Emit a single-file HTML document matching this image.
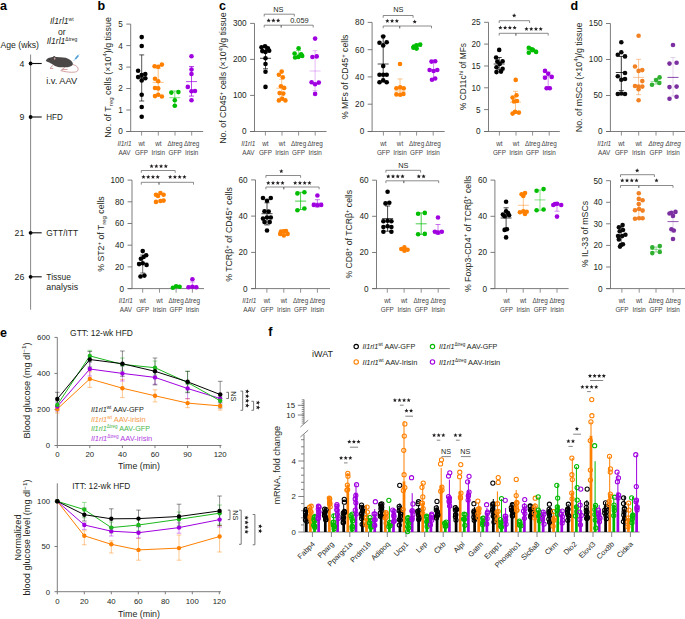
<!DOCTYPE html>
<html><head><meta charset="utf-8"><style>
html,body{margin:0;padding:0;background:#fff;width:685px;height:619px;overflow:hidden}
svg{display:block;font-family:"Liberation Sans", sans-serif;fill:#231f20}
</style></head><body>
<svg width="685" height="619" viewBox="0 0 685 619">
<text x="0" y="9.5" font-size="12.5" font-weight="bold" fill="#000">a</text>
<text x="61.8" y="24.4" font-size="8.6" text-anchor="middle"><tspan font-style="italic">Il1rl1</tspan><tspan font-size="5" dy="-3.5">wt</tspan></text>
<text x="61.8" y="34.9" font-size="8.6" text-anchor="middle">or</text>
<text x="62" y="44.3" font-size="8.6" text-anchor="middle"><tspan font-style="italic">Il1rl1</tspan><tspan font-size="5" dy="-3.5">Δtreg</tspan></text>
<text x="0.5" y="48" font-size="8.8" textLength="38.5" lengthAdjust="spacingAndGlyphs">Age (wks)</text>
<line x1="30.6" y1="54.5" x2="30.6" y2="309.7" stroke="#888" stroke-width="1.0" />
<circle cx="30.6" cy="63.5" r="1.9" fill="#000"/>
<line x1="30.6" y1="63.5" x2="41.7" y2="63.5" stroke="#111" stroke-width="1.1" />
<text x="24.3" y="66.6" font-size="8.8" text-anchor="end">4</text>
<circle cx="30.6" cy="117" r="1.9" fill="#000"/>
<line x1="30.6" y1="117" x2="41.7" y2="117" stroke="#111" stroke-width="1.1" />
<text x="24.3" y="120.1" font-size="8.8" text-anchor="end">9</text>
<text x="46.3" y="120.1" font-size="8.8" textLength="16.5" lengthAdjust="spacingAndGlyphs">HFD</text>
<circle cx="30.6" cy="232.8" r="1.9" fill="#000"/>
<line x1="30.6" y1="232.8" x2="41.7" y2="232.8" stroke="#111" stroke-width="1.1" />
<text x="24.3" y="235.9" font-size="8.8" text-anchor="end">21</text>
<text x="46.3" y="235.9" font-size="8.8" textLength="31.8" lengthAdjust="spacingAndGlyphs">GTT/ITT</text>
<circle cx="30.6" cy="276.8" r="1.9" fill="#000"/>
<line x1="30.6" y1="276.8" x2="41.7" y2="276.8" stroke="#111" stroke-width="1.1" />
<text x="24.3" y="279.90000000000003" font-size="8.8" text-anchor="end">26</text>
<text x="46.3" y="279.90000000000003" font-size="8.8" textLength="24.6" lengthAdjust="spacingAndGlyphs">Tissue</text>
<text x="46.3" y="289.8" font-size="8.8">analysis</text>
<text x="46.2" y="83.6" font-size="8.8" textLength="31.0" lengthAdjust="spacingAndGlyphs">i.v. AAV</text>
<g>
<path d="M72.6,64.6 C77,65.2 79.2,68.3 77.6,70.9 C76,72.9 68,72.6 60.5,70.6" fill="none" stroke="#c48484" stroke-width="0.75"/>
<path d="M52.6,65.2 Q51.6,67.3 50.0,68.3 L53.2,68.5 M64.8,66.6 Q64.6,68.6 61.5,69.8 L67.5,69.4" fill="none" stroke="#c48484" stroke-width="0.8"/>
<path d="M45.9,60.2 C47,58.8 48.5,57.8 50.5,57.6 C53,56.8 56,57.2 59.7,57.3 C63.5,57.2 67.5,57.8 70.2,60.0 C72,61.4 73.3,63 72.8,64.6 C72.3,66 70,66.9 67.6,67.2 L59.7,67.2 C57.5,67.1 55.5,66.4 53.5,65.0 C51.5,63.8 49.5,62.6 48,62.1 C46.8,61.7 45.6,61 45.9,60.2 Z" fill="#4d4848"/>
<ellipse cx="54.2" cy="57.9" rx="1.5" ry="1.9" fill="#4d4848"/>
<ellipse cx="54.7" cy="58.6" rx="0.8" ry="1.1" fill="#d9a0a0"/>
<circle cx="49.6" cy="59.4" r="0.45" fill="#1a1a1a"/>
<path d="M73.5,61.1 L79.4,54.2" stroke="#8cc4ec" stroke-width="0.7"/>
<path d="M75.3,59.0 L78.3,55.5" stroke="#4a9ad6" stroke-width="1.6"/>
</g>
<text x="97.5" y="9.7" font-size="12.5" font-weight="bold" fill="#000">b</text>
<text x="219.0" y="9.8" font-size="12.5" font-weight="bold" fill="#000">c</text>
<text x="570.5" y="9.8" font-size="12.5" font-weight="bold" fill="#000">d</text>
<line x1="130.7" y1="24.1" x2="130.7" y2="131.5" stroke="#666" stroke-width="0.85" />
<line x1="126.29999999999998" y1="24.1" x2="130.7" y2="24.1" stroke="#666" stroke-width="0.85" />
<text x="122.79999999999998" y="27.0" font-size="8.2" text-anchor="end">5</text>
<line x1="126.29999999999998" y1="45.6" x2="130.7" y2="45.6" stroke="#666" stroke-width="0.85" />
<text x="122.79999999999998" y="48.5" font-size="8.2" text-anchor="end">4</text>
<line x1="126.29999999999998" y1="67.1" x2="130.7" y2="67.1" stroke="#666" stroke-width="0.85" />
<text x="122.79999999999998" y="70.0" font-size="8.2" text-anchor="end">3</text>
<line x1="126.29999999999998" y1="88.5" x2="130.7" y2="88.5" stroke="#666" stroke-width="0.85" />
<text x="122.79999999999998" y="91.4" font-size="8.2" text-anchor="end">2</text>
<line x1="126.29999999999998" y1="110.0" x2="130.7" y2="110.0" stroke="#666" stroke-width="0.85" />
<text x="122.79999999999998" y="112.9" font-size="8.2" text-anchor="end">1</text>
<line x1="126.29999999999998" y1="131.5" x2="130.7" y2="131.5" stroke="#666" stroke-width="0.85" />
<text x="122.79999999999998" y="134.4" font-size="8.2" text-anchor="end">0</text>
<line x1="126.29999999999998" y1="131.5" x2="203.2" y2="131.5" stroke="#666" stroke-width="0.85" />
<line x1="141.6" y1="131.5" x2="141.6" y2="135.6" stroke="#777" stroke-width="0.8" />
<line x1="158.3" y1="131.5" x2="158.3" y2="135.6" stroke="#777" stroke-width="0.8" />
<line x1="175.0" y1="131.5" x2="175.0" y2="135.6" stroke="#777" stroke-width="0.8" />
<line x1="191.7" y1="131.5" x2="191.7" y2="135.6" stroke="#777" stroke-width="0.8" />
<text x="141.6" y="145.9" font-size="6.35" text-anchor="middle" fill="#444">wt</text>
<text x="141.6" y="154.8" font-size="6.35" text-anchor="middle" fill="#444">GFP</text>
<text x="158.3" y="145.9" font-size="6.35" text-anchor="middle" fill="#444">wt</text>
<text x="158.3" y="154.8" font-size="6.35" text-anchor="middle" fill="#444">Irisin</text>
<text x="175.0" y="145.9" font-size="6.35" text-anchor="middle" fill="#444">Δtreg</text>
<text x="175.0" y="154.8" font-size="6.35" text-anchor="middle" fill="#444">GFP</text>
<text x="191.7" y="145.9" font-size="6.35" text-anchor="middle" fill="#444">Δtreg</text>
<text x="191.7" y="154.8" font-size="6.35" text-anchor="middle" fill="#444">Irisin</text>
<text x="124.49999999999999" y="145.9" font-size="6.5" text-anchor="middle" font-style="italic" fill="#444">Il1rl1</text>
<text x="124.49999999999999" y="154.8" font-size="6.35" text-anchor="middle" fill="#444">AAV</text>
<text transform="translate(110.6,77.4) rotate(-90)" font-size="8.6" text-anchor="middle" fill="#231f20" textLength="120.5" lengthAdjust="spacingAndGlyphs">No. of T<tspan font-size="5.9" dy="2.0">reg</tspan><tspan dy="-2.0"> cells (×10<tspan font-size="6.0" dy="-3.3">4</tspan><tspan dy="3.3">)/g tissue</tspan></text>
<line x1="141.7" y1="54.9" x2="141.7" y2="101.0" stroke="#000000" stroke-width="0.9" stroke-opacity="0.75"/>
<line x1="139.2" y1="54.9" x2="144.2" y2="54.9" stroke="#000000" stroke-width="0.9" stroke-opacity="0.75"/>
<line x1="139.2" y1="101.0" x2="144.2" y2="101.0" stroke="#000000" stroke-width="0.9" stroke-opacity="0.75"/>
<line x1="136.2" y1="77.5" x2="147.2" y2="77.5" stroke="#000000" stroke-width="0.9" stroke-opacity="0.75"/>
<line x1="158.2" y1="68.6" x2="158.2" y2="95.3" stroke="#ff8000" stroke-width="0.9" stroke-opacity="0.55"/>
<line x1="155.7" y1="68.6" x2="160.7" y2="68.6" stroke="#ff8000" stroke-width="0.9" stroke-opacity="0.55"/>
<line x1="155.7" y1="95.3" x2="160.7" y2="95.3" stroke="#ff8000" stroke-width="0.9" stroke-opacity="0.55"/>
<line x1="152.7" y1="82.4" x2="163.7" y2="82.4" stroke="#ff8000" stroke-width="0.9" stroke-opacity="0.55"/>
<line x1="174.8" y1="91.0" x2="174.8" y2="105.8" stroke="#00bd00" stroke-width="0.9" stroke-opacity="0.55"/>
<line x1="172.3" y1="91.0" x2="177.3" y2="91.0" stroke="#00bd00" stroke-width="0.9" stroke-opacity="0.55"/>
<line x1="172.3" y1="105.8" x2="177.3" y2="105.8" stroke="#00bd00" stroke-width="0.9" stroke-opacity="0.55"/>
<line x1="169.3" y1="97.7" x2="180.3" y2="97.7" stroke="#00bd00" stroke-width="0.9" stroke-opacity="0.55"/>
<line x1="191.5" y1="66.5" x2="191.5" y2="96.1" stroke="#a000e0" stroke-width="0.9" stroke-opacity="0.8"/>
<line x1="189.0" y1="66.5" x2="194.0" y2="66.5" stroke="#a000e0" stroke-width="0.9" stroke-opacity="0.8"/>
<line x1="189.0" y1="96.1" x2="194.0" y2="96.1" stroke="#a000e0" stroke-width="0.9" stroke-opacity="0.8"/>
<line x1="186.0" y1="81.6" x2="197.0" y2="81.6" stroke="#a000e0" stroke-width="0.9" stroke-opacity="0.8"/>
<circle cx="141.7" cy="37.1" r="2.3" fill="#000000"/>
<circle cx="141.7" cy="46" r="2.3" fill="#000000"/>
<circle cx="138.1" cy="70.7" r="2.3" fill="#000000"/>
<circle cx="145.3" cy="74" r="2.3" fill="#000000"/>
<circle cx="141.7" cy="75.1" r="2.3" fill="#000000"/>
<circle cx="138.1" cy="77.1" r="2.3" fill="#000000"/>
<circle cx="145.3" cy="78.3" r="2.3" fill="#000000"/>
<circle cx="141.7" cy="80.4" r="2.3" fill="#000000"/>
<circle cx="141.7" cy="94.8" r="2.3" fill="#000000"/>
<circle cx="141.7" cy="107" r="2.3" fill="#000000"/>
<circle cx="141.7" cy="116.7" r="2.3" fill="#000000"/>
<circle cx="154.6" cy="66.2" r="2.3" fill="#ff8000"/>
<circle cx="158.2" cy="66.7" r="2.3" fill="#ff8000"/>
<circle cx="161.9" cy="64.6" r="2.3" fill="#ff8000"/>
<circle cx="155" cy="78.7" r="2.3" fill="#ff8000"/>
<circle cx="158.2" cy="81.3" r="2.3" fill="#ff8000"/>
<circle cx="155" cy="88" r="2.3" fill="#ff8000"/>
<circle cx="158.2" cy="88.4" r="2.3" fill="#ff8000"/>
<circle cx="155" cy="96.1" r="2.3" fill="#ff8000"/>
<circle cx="158.2" cy="94.8" r="2.3" fill="#ff8000"/>
<circle cx="161.9" cy="96.5" r="2.3" fill="#ff8000"/>
<circle cx="171.3" cy="92.6" r="2.3" fill="#00bd00"/>
<circle cx="178.4" cy="92.1" r="2.3" fill="#00bd00"/>
<circle cx="174.8" cy="100.2" r="2.3" fill="#00bd00"/>
<circle cx="174.8" cy="105.8" r="2.3" fill="#00bd00"/>
<circle cx="191.5" cy="56.2" r="2.3" fill="#a000e0"/>
<circle cx="191.5" cy="69.5" r="2.3" fill="#a000e0"/>
<circle cx="191.5" cy="74" r="2.3" fill="#a000e0"/>
<circle cx="187.8" cy="86.9" r="2.3" fill="#a000e0"/>
<circle cx="191.5" cy="91.3" r="2.3" fill="#a000e0"/>
<circle cx="195" cy="91" r="2.3" fill="#a000e0"/>
<circle cx="191.5" cy="100.2" r="2.3" fill="#a000e0"/>
<line x1="254.5" y1="23.4" x2="254.5" y2="131.5" stroke="#666" stroke-width="0.85" />
<line x1="250.1" y1="23.4" x2="254.5" y2="23.4" stroke="#666" stroke-width="0.85" />
<text x="246.6" y="26.299999999999997" font-size="8.2" text-anchor="end">300</text>
<line x1="250.1" y1="59.4" x2="254.5" y2="59.4" stroke="#666" stroke-width="0.85" />
<text x="246.6" y="62.3" font-size="8.2" text-anchor="end">200</text>
<line x1="250.1" y1="95.4" x2="254.5" y2="95.4" stroke="#666" stroke-width="0.85" />
<text x="246.6" y="98.30000000000001" font-size="8.2" text-anchor="end">100</text>
<line x1="250.1" y1="131.5" x2="254.5" y2="131.5" stroke="#666" stroke-width="0.85" />
<text x="246.6" y="134.4" font-size="8.2" text-anchor="end">0</text>
<line x1="250.1" y1="131.5" x2="326.5" y2="131.5" stroke="#666" stroke-width="0.85" />
<line x1="265.4" y1="131.5" x2="265.4" y2="135.6" stroke="#777" stroke-width="0.8" />
<line x1="282.0" y1="131.5" x2="282.0" y2="135.6" stroke="#777" stroke-width="0.8" />
<line x1="298.6" y1="131.5" x2="298.6" y2="135.6" stroke="#777" stroke-width="0.8" />
<line x1="315.2" y1="131.5" x2="315.2" y2="135.6" stroke="#777" stroke-width="0.8" />
<text x="265.4" y="145.9" font-size="6.35" text-anchor="middle" fill="#444">wt</text>
<text x="265.4" y="154.8" font-size="6.35" text-anchor="middle" fill="#444">GFP</text>
<text x="282.0" y="145.9" font-size="6.35" text-anchor="middle" fill="#444">wt</text>
<text x="282.0" y="154.8" font-size="6.35" text-anchor="middle" fill="#444">Irisin</text>
<text x="298.6" y="145.9" font-size="6.35" text-anchor="middle" fill="#444">Δtreg</text>
<text x="298.6" y="154.8" font-size="6.35" text-anchor="middle" fill="#444">GFP</text>
<text x="315.2" y="145.9" font-size="6.35" text-anchor="middle" fill="#444">Δtreg</text>
<text x="315.2" y="154.8" font-size="6.35" text-anchor="middle" fill="#444">Irisin</text>
<text x="248.3" y="145.9" font-size="6.5" text-anchor="middle" font-style="italic" fill="#444">Il1rl1</text>
<text x="248.3" y="154.8" font-size="6.35" text-anchor="middle" fill="#444">AAV</text>
<text transform="translate(226.0,78.1) rotate(-90)" font-size="8.6" text-anchor="middle" fill="#231f20" textLength="131.5" lengthAdjust="spacingAndGlyphs">No. of CD45<tspan font-size="6.0" dy="-3.3">+</tspan><tspan dy="3.3"> cells (×10<tspan font-size="6.0" dy="-3.3">4</tspan><tspan dy="3.3">)/g tissue</tspan></text>
<line x1="265.5" y1="46.2" x2="265.5" y2="68.8" stroke="#000000" stroke-width="0.9" stroke-opacity="0.8"/>
<line x1="263.0" y1="46.2" x2="268.0" y2="46.2" stroke="#000000" stroke-width="0.9" stroke-opacity="0.8"/>
<line x1="263.0" y1="68.8" x2="268.0" y2="68.8" stroke="#000000" stroke-width="0.9" stroke-opacity="0.8"/>
<line x1="260.0" y1="58.3" x2="271.0" y2="58.3" stroke="#000000" stroke-width="0.9" stroke-opacity="0.8"/>
<line x1="281.7" y1="79.3" x2="281.7" y2="97.1" stroke="#ff8000" stroke-width="0.9" stroke-opacity="0.5"/>
<line x1="279.2" y1="79.3" x2="284.2" y2="79.3" stroke="#ff8000" stroke-width="0.9" stroke-opacity="0.5"/>
<line x1="279.2" y1="97.1" x2="284.2" y2="97.1" stroke="#ff8000" stroke-width="0.9" stroke-opacity="0.5"/>
<line x1="276.2" y1="88.2" x2="287.2" y2="88.2" stroke="#ff8000" stroke-width="0.9" stroke-opacity="0.5"/>
<line x1="298.6" y1="50.5" x2="298.6" y2="57.5" stroke="#00bd00" stroke-width="0.9" stroke-opacity="0.5"/>
<line x1="296.1" y1="50.5" x2="301.1" y2="50.5" stroke="#00bd00" stroke-width="0.9" stroke-opacity="0.5"/>
<line x1="296.1" y1="57.5" x2="301.1" y2="57.5" stroke="#00bd00" stroke-width="0.9" stroke-opacity="0.5"/>
<line x1="293.1" y1="54.3" x2="304.1" y2="54.3" stroke="#00bd00" stroke-width="0.9" stroke-opacity="0.5"/>
<line x1="315.1" y1="50.7" x2="315.1" y2="90.7" stroke="#a000e0" stroke-width="0.9" stroke-opacity="0.3"/>
<line x1="312.6" y1="50.7" x2="317.6" y2="50.7" stroke="#a000e0" stroke-width="0.9" stroke-opacity="0.3"/>
<line x1="312.6" y1="90.7" x2="317.6" y2="90.7" stroke="#a000e0" stroke-width="0.9" stroke-opacity="0.3"/>
<line x1="309.6" y1="71" x2="320.6" y2="71" stroke="#a000e0" stroke-width="0.9" stroke-opacity="0.3"/>
<circle cx="261.5" cy="47.3" r="2.3" fill="#000000"/>
<circle cx="265" cy="46.2" r="2.3" fill="#000000"/>
<circle cx="267.9" cy="48.3" r="2.3" fill="#000000"/>
<circle cx="262.3" cy="51.1" r="2.3" fill="#000000"/>
<circle cx="269.2" cy="50.7" r="2.3" fill="#000000"/>
<circle cx="265.5" cy="51.9" r="2.3" fill="#000000"/>
<circle cx="265.5" cy="58.3" r="2.3" fill="#000000"/>
<circle cx="265.5" cy="64" r="2.3" fill="#000000"/>
<circle cx="265.5" cy="71.8" r="2.3" fill="#000000"/>
<circle cx="265.5" cy="86.9" r="2.3" fill="#000000"/>
<circle cx="281.7" cy="71.6" r="2.3" fill="#ff8000"/>
<circle cx="278.9" cy="74.8" r="2.3" fill="#ff8000"/>
<circle cx="282.8" cy="77.2" r="2.3" fill="#ff8000"/>
<circle cx="280.9" cy="86.3" r="2.3" fill="#ff8000"/>
<circle cx="284.1" cy="87.9" r="2.3" fill="#ff8000"/>
<circle cx="279.6" cy="93.1" r="2.3" fill="#ff8000"/>
<circle cx="283.3" cy="93.6" r="2.3" fill="#ff8000"/>
<circle cx="278.9" cy="100.4" r="2.3" fill="#ff8000"/>
<circle cx="282.2" cy="98.7" r="2.3" fill="#ff8000"/>
<circle cx="285.4" cy="100.4" r="2.3" fill="#ff8000"/>
<circle cx="298.6" cy="48.3" r="2.3" fill="#00bd00"/>
<circle cx="294.6" cy="53.5" r="2.3" fill="#00bd00"/>
<circle cx="301.1" cy="54.3" r="2.3" fill="#00bd00"/>
<circle cx="295.1" cy="57.5" r="2.3" fill="#00bd00"/>
<circle cx="298.3" cy="57" r="2.3" fill="#00bd00"/>
<circle cx="302.2" cy="55.9" r="2.3" fill="#00bd00"/>
<circle cx="315.1" cy="38.6" r="2.3" fill="#a000e0"/>
<circle cx="312.4" cy="57" r="2.3" fill="#a000e0"/>
<circle cx="316.7" cy="56.4" r="2.3" fill="#a000e0"/>
<circle cx="311.6" cy="82.3" r="2.3" fill="#a000e0"/>
<circle cx="315.1" cy="84.2" r="2.3" fill="#a000e0"/>
<circle cx="318.8" cy="82.6" r="2.3" fill="#a000e0"/>
<circle cx="315.1" cy="93.9" r="2.3" fill="#a000e0"/>
<path d="M264.2,16.5 V14.2 H294.3 V16.5" fill="none" stroke="#666" stroke-width="0.75"/>
<text x="278.4" y="12.0" font-size="7.4" text-anchor="middle">NS</text>
<path d="M264.2,27.5 V25.2 H281.2 V27.5" fill="none" stroke="#666" stroke-width="0.75"/>
<polygon points="268.65,18.35 269.25,19.78 270.79,19.90 269.61,20.91 269.97,22.42 268.65,21.61 267.33,22.42 267.69,20.91 266.51,19.90 268.05,19.78" fill="#231f20"/>
<polygon points="273.40,18.35 274.00,19.78 275.54,19.90 274.36,20.91 274.72,22.42 273.40,21.61 272.08,22.42 272.44,20.91 271.26,19.90 272.80,19.78" fill="#231f20"/>
<polygon points="278.15,18.35 278.75,19.78 280.29,19.90 279.11,20.91 279.47,22.42 278.15,21.61 276.83,22.42 277.19,20.91 276.01,19.90 277.55,19.78" fill="#231f20"/>
<path d="M281.2,27.5 V25.2 H313.2 V27.5" fill="none" stroke="#666" stroke-width="0.75"/>
<text x="299.4" y="23.4" font-size="7.4" text-anchor="middle">0.059</text>
<line x1="372.1" y1="22.4" x2="372.1" y2="131.5" stroke="#666" stroke-width="0.85" />
<line x1="367.70000000000005" y1="22.4" x2="372.1" y2="22.4" stroke="#666" stroke-width="0.85" />
<text x="364.20000000000005" y="25.299999999999997" font-size="8.2" text-anchor="end">80</text>
<line x1="367.70000000000005" y1="49.7" x2="372.1" y2="49.7" stroke="#666" stroke-width="0.85" />
<text x="364.20000000000005" y="52.6" font-size="8.2" text-anchor="end">60</text>
<line x1="367.70000000000005" y1="76.9" x2="372.1" y2="76.9" stroke="#666" stroke-width="0.85" />
<text x="364.20000000000005" y="79.80000000000001" font-size="8.2" text-anchor="end">40</text>
<line x1="367.70000000000005" y1="104.2" x2="372.1" y2="104.2" stroke="#666" stroke-width="0.85" />
<text x="364.20000000000005" y="107.10000000000001" font-size="8.2" text-anchor="end">20</text>
<line x1="367.70000000000005" y1="131.5" x2="372.1" y2="131.5" stroke="#666" stroke-width="0.85" />
<text x="364.20000000000005" y="134.4" font-size="8.2" text-anchor="end">0</text>
<line x1="367.70000000000005" y1="131.5" x2="444.7" y2="131.5" stroke="#666" stroke-width="0.85" />
<line x1="383.4" y1="131.5" x2="383.4" y2="135.6" stroke="#777" stroke-width="0.8" />
<line x1="400.0" y1="131.5" x2="400.0" y2="135.6" stroke="#777" stroke-width="0.8" />
<line x1="416.6" y1="131.5" x2="416.6" y2="135.6" stroke="#777" stroke-width="0.8" />
<line x1="433.2" y1="131.5" x2="433.2" y2="135.6" stroke="#777" stroke-width="0.8" />
<text x="383.4" y="145.9" font-size="6.35" text-anchor="middle" fill="#444">wt</text>
<text x="383.4" y="154.8" font-size="6.35" text-anchor="middle" fill="#444">GFP</text>
<text x="400.0" y="145.9" font-size="6.35" text-anchor="middle" fill="#444">wt</text>
<text x="400.0" y="154.8" font-size="6.35" text-anchor="middle" fill="#444">Irisin</text>
<text x="416.6" y="145.9" font-size="6.35" text-anchor="middle" fill="#444">Δtreg</text>
<text x="416.6" y="154.8" font-size="6.35" text-anchor="middle" fill="#444">GFP</text>
<text x="433.2" y="145.9" font-size="6.35" text-anchor="middle" fill="#444">Δtreg</text>
<text x="433.2" y="154.8" font-size="6.35" text-anchor="middle" fill="#444">Irisin</text>
<text transform="translate(347.8,76.8) rotate(-90)" font-size="8.6" text-anchor="middle" fill="#231f20" textLength="84.5" lengthAdjust="spacingAndGlyphs">% MFs of CD45<tspan font-size="6.0" dy="-3.3">+</tspan><tspan dy="3.3"> cells</tspan></text>
<line x1="383.2" y1="36" x2="383.2" y2="82" stroke="#000000" stroke-width="0.9" stroke-opacity="0.8"/>
<line x1="380.7" y1="36" x2="385.7" y2="36" stroke="#000000" stroke-width="0.9" stroke-opacity="0.8"/>
<line x1="380.7" y1="82" x2="385.7" y2="82" stroke="#000000" stroke-width="0.9" stroke-opacity="0.8"/>
<line x1="377.7" y1="64" x2="388.7" y2="64" stroke="#000000" stroke-width="0.9" stroke-opacity="0.8"/>
<line x1="400" y1="78.9" x2="400" y2="95" stroke="#ff8000" stroke-width="0.9" stroke-opacity="0.5"/>
<line x1="397.5" y1="78.9" x2="402.5" y2="78.9" stroke="#ff8000" stroke-width="0.9" stroke-opacity="0.5"/>
<line x1="397.5" y1="95" x2="402.5" y2="95" stroke="#ff8000" stroke-width="0.9" stroke-opacity="0.5"/>
<line x1="394.5" y1="91" x2="405.5" y2="91" stroke="#ff8000" stroke-width="0.9" stroke-opacity="0.5"/>
<line x1="416.6" y1="44" x2="416.6" y2="49" stroke="#00bd00" stroke-width="0.9" stroke-opacity="0.5"/>
<line x1="414.1" y1="44" x2="419.1" y2="44" stroke="#00bd00" stroke-width="0.9" stroke-opacity="0.5"/>
<line x1="414.1" y1="49" x2="419.1" y2="49" stroke="#00bd00" stroke-width="0.9" stroke-opacity="0.5"/>
<line x1="411.1" y1="46.5" x2="422.1" y2="46.5" stroke="#00bd00" stroke-width="0.9" stroke-opacity="0.5"/>
<line x1="433.6" y1="61.5" x2="433.6" y2="79" stroke="#a000e0" stroke-width="0.9" stroke-opacity="0.5"/>
<line x1="431.1" y1="61.5" x2="436.1" y2="61.5" stroke="#a000e0" stroke-width="0.9" stroke-opacity="0.5"/>
<line x1="431.1" y1="79" x2="436.1" y2="79" stroke="#a000e0" stroke-width="0.9" stroke-opacity="0.5"/>
<line x1="428.1" y1="69.7" x2="439.1" y2="69.7" stroke="#a000e0" stroke-width="0.9" stroke-opacity="0.5"/>
<circle cx="383.2" cy="36.5" r="2.3" fill="#000000"/>
<circle cx="379.5" cy="42.7" r="2.3" fill="#000000"/>
<circle cx="386.7" cy="42.2" r="2.3" fill="#000000"/>
<circle cx="383.2" cy="45.4" r="2.3" fill="#000000"/>
<circle cx="383.2" cy="66.1" r="2.3" fill="#000000"/>
<circle cx="379.5" cy="74.8" r="2.3" fill="#000000"/>
<circle cx="383.2" cy="74.8" r="2.3" fill="#000000"/>
<circle cx="386.7" cy="74.8" r="2.3" fill="#000000"/>
<circle cx="379.5" cy="82.3" r="2.3" fill="#000000"/>
<circle cx="383.2" cy="80.2" r="2.3" fill="#000000"/>
<circle cx="386.7" cy="82.3" r="2.3" fill="#000000"/>
<circle cx="400" cy="64" r="2.3" fill="#ff8000"/>
<circle cx="396.4" cy="88.2" r="2.3" fill="#ff8000"/>
<circle cx="400.2" cy="87.4" r="2.3" fill="#ff8000"/>
<circle cx="403.7" cy="88.2" r="2.3" fill="#ff8000"/>
<circle cx="396.4" cy="94.4" r="2.3" fill="#ff8000"/>
<circle cx="400.2" cy="94.7" r="2.3" fill="#ff8000"/>
<circle cx="403.4" cy="93.9" r="2.3" fill="#ff8000"/>
<circle cx="413.4" cy="47.8" r="2.3" fill="#00bd00"/>
<circle cx="416.6" cy="45.4" r="2.3" fill="#00bd00"/>
<circle cx="420.2" cy="44.6" r="2.3" fill="#00bd00"/>
<circle cx="416.6" cy="48.6" r="2.3" fill="#00bd00"/>
<circle cx="413.8" cy="46.5" r="2.3" fill="#00bd00"/>
<circle cx="431.5" cy="61.6" r="2.3" fill="#a000e0"/>
<circle cx="435.2" cy="61.2" r="2.3" fill="#a000e0"/>
<circle cx="429.6" cy="70" r="2.3" fill="#a000e0"/>
<circle cx="433.6" cy="71" r="2.3" fill="#a000e0"/>
<circle cx="437.3" cy="70" r="2.3" fill="#a000e0"/>
<circle cx="432" cy="79.7" r="2.3" fill="#a000e0"/>
<circle cx="435.2" cy="78.5" r="2.3" fill="#a000e0"/>
<path d="M383.2,17.8 V15.5 H413.1 V17.8" fill="none" stroke="#666" stroke-width="0.75"/>
<text x="398.4" y="12.3" font-size="7.4" text-anchor="middle">NS</text>
<path d="M383.2,28.3 V26.0 H399.7 V28.3" fill="none" stroke="#666" stroke-width="0.75"/>
<polygon points="387.35,18.75 387.95,20.18 389.49,20.30 388.31,21.31 388.67,22.82 387.35,22.01 386.03,22.82 386.39,21.31 385.21,20.30 386.75,20.18" fill="#231f20"/>
<polygon points="392.10,18.75 392.70,20.18 394.24,20.30 393.06,21.31 393.42,22.82 392.10,22.01 390.78,22.82 391.14,21.31 389.96,20.30 391.50,20.18" fill="#231f20"/>
<polygon points="396.85,18.75 397.45,20.18 398.99,20.30 397.81,21.31 398.17,22.82 396.85,22.01 395.53,22.82 395.89,21.31 394.71,20.30 396.25,20.18" fill="#231f20"/>
<path d="M399.7,28.3 V26.0 H431.5 V28.3" fill="none" stroke="#666" stroke-width="0.75"/>
<polygon points="414.70,19.55 415.30,20.98 416.84,21.10 415.66,22.11 416.02,23.62 414.70,22.81 413.38,23.62 413.74,22.11 412.56,21.10 414.10,20.98" fill="#231f20"/>
<line x1="488.5" y1="22.3" x2="488.5" y2="131.5" stroke="#666" stroke-width="0.85" />
<line x1="484.1" y1="22.3" x2="488.5" y2="22.3" stroke="#666" stroke-width="0.85" />
<text x="480.6" y="25.2" font-size="8.2" text-anchor="end">25</text>
<line x1="484.1" y1="44.1" x2="488.5" y2="44.1" stroke="#666" stroke-width="0.85" />
<text x="480.6" y="47.0" font-size="8.2" text-anchor="end">20</text>
<line x1="484.1" y1="66.0" x2="488.5" y2="66.0" stroke="#666" stroke-width="0.85" />
<text x="480.6" y="68.9" font-size="8.2" text-anchor="end">15</text>
<line x1="484.1" y1="87.8" x2="488.5" y2="87.8" stroke="#666" stroke-width="0.85" />
<text x="480.6" y="90.7" font-size="8.2" text-anchor="end">10</text>
<line x1="484.1" y1="109.6" x2="488.5" y2="109.6" stroke="#666" stroke-width="0.85" />
<text x="480.6" y="112.5" font-size="8.2" text-anchor="end">5</text>
<line x1="484.1" y1="131.5" x2="488.5" y2="131.5" stroke="#666" stroke-width="0.85" />
<text x="480.6" y="134.4" font-size="8.2" text-anchor="end">0</text>
<line x1="484.1" y1="131.5" x2="559.8" y2="131.5" stroke="#666" stroke-width="0.85" />
<line x1="499.4" y1="131.5" x2="499.4" y2="135.6" stroke="#777" stroke-width="0.8" />
<line x1="516.0" y1="131.5" x2="516.0" y2="135.6" stroke="#777" stroke-width="0.8" />
<line x1="532.6" y1="131.5" x2="532.6" y2="135.6" stroke="#777" stroke-width="0.8" />
<line x1="549.2" y1="131.5" x2="549.2" y2="135.6" stroke="#777" stroke-width="0.8" />
<text x="499.4" y="145.9" font-size="6.35" text-anchor="middle" fill="#444">wt</text>
<text x="499.4" y="154.8" font-size="6.35" text-anchor="middle" fill="#444">GFP</text>
<text x="516.0" y="145.9" font-size="6.35" text-anchor="middle" fill="#444">wt</text>
<text x="516.0" y="154.8" font-size="6.35" text-anchor="middle" fill="#444">Irisin</text>
<text x="532.6" y="145.9" font-size="6.35" text-anchor="middle" fill="#444">Δtreg</text>
<text x="532.6" y="154.8" font-size="6.35" text-anchor="middle" fill="#444">GFP</text>
<text x="549.2" y="145.9" font-size="6.35" text-anchor="middle" fill="#444">Δtreg</text>
<text x="549.2" y="154.8" font-size="6.35" text-anchor="middle" fill="#444">Irisin</text>
<text transform="translate(466.0,76.5) rotate(-90)" font-size="8.6" text-anchor="middle" fill="#231f20" textLength="66.8" lengthAdjust="spacingAndGlyphs">% CD11c<tspan font-size="6.0" dy="-3.3">hi</tspan><tspan dy="3.3"> of MFs</tspan></text>
<line x1="499.2" y1="57.5" x2="499.2" y2="69.7" stroke="#000000" stroke-width="0.9" stroke-opacity="0.8"/>
<line x1="496.7" y1="57.5" x2="501.7" y2="57.5" stroke="#000000" stroke-width="0.9" stroke-opacity="0.8"/>
<line x1="496.7" y1="69.7" x2="501.7" y2="69.7" stroke="#000000" stroke-width="0.9" stroke-opacity="0.8"/>
<line x1="493.7" y1="64" x2="504.7" y2="64" stroke="#000000" stroke-width="0.9" stroke-opacity="0.8"/>
<line x1="515.5" y1="91.3" x2="515.5" y2="113.5" stroke="#ff8000" stroke-width="0.9" stroke-opacity="0.5"/>
<line x1="513.0" y1="91.3" x2="518.0" y2="91.3" stroke="#ff8000" stroke-width="0.9" stroke-opacity="0.5"/>
<line x1="513.0" y1="113.5" x2="518.0" y2="113.5" stroke="#ff8000" stroke-width="0.9" stroke-opacity="0.5"/>
<line x1="510.0" y1="102.2" x2="521.0" y2="102.2" stroke="#ff8000" stroke-width="0.9" stroke-opacity="0.5"/>
<line x1="531.7" y1="48" x2="531.7" y2="52" stroke="#00bd00" stroke-width="0.9" stroke-opacity="0.5"/>
<line x1="529.2" y1="48" x2="534.2" y2="48" stroke="#00bd00" stroke-width="0.9" stroke-opacity="0.5"/>
<line x1="529.2" y1="52" x2="534.2" y2="52" stroke="#00bd00" stroke-width="0.9" stroke-opacity="0.5"/>
<line x1="526.2" y1="50" x2="537.2" y2="50" stroke="#00bd00" stroke-width="0.9" stroke-opacity="0.5"/>
<line x1="548.2" y1="72" x2="548.2" y2="86.6" stroke="#a000e0" stroke-width="0.9" stroke-opacity="0.5"/>
<line x1="545.7" y1="72" x2="550.7" y2="72" stroke="#a000e0" stroke-width="0.9" stroke-opacity="0.5"/>
<line x1="545.7" y1="86.6" x2="550.7" y2="86.6" stroke="#a000e0" stroke-width="0.9" stroke-opacity="0.5"/>
<line x1="542.7" y1="76" x2="553.7" y2="76" stroke="#a000e0" stroke-width="0.9" stroke-opacity="0.5"/>
<circle cx="499.2" cy="49.9" r="2.3" fill="#000000"/>
<circle cx="496.1" cy="57.5" r="2.3" fill="#000000"/>
<circle cx="502.6" cy="61.2" r="2.3" fill="#000000"/>
<circle cx="497.3" cy="61.6" r="2.3" fill="#000000"/>
<circle cx="499.7" cy="64" r="2.3" fill="#000000"/>
<circle cx="496.5" cy="67.2" r="2.3" fill="#000000"/>
<circle cx="502.6" cy="68.8" r="2.3" fill="#000000"/>
<circle cx="496.5" cy="72.1" r="2.3" fill="#000000"/>
<circle cx="501" cy="71.6" r="2.3" fill="#000000"/>
<circle cx="515.7" cy="79.9" r="2.3" fill="#ff8000"/>
<circle cx="516.5" cy="95.2" r="2.3" fill="#ff8000"/>
<circle cx="512.6" cy="97.6" r="2.3" fill="#ff8000"/>
<circle cx="517" cy="101" r="2.3" fill="#ff8000"/>
<circle cx="514" cy="101.5" r="2.3" fill="#ff8000"/>
<circle cx="512.6" cy="113.6" r="2.3" fill="#ff8000"/>
<circle cx="515" cy="111.9" r="2.3" fill="#ff8000"/>
<circle cx="518.9" cy="112.6" r="2.3" fill="#ff8000"/>
<circle cx="528.8" cy="47.8" r="2.3" fill="#00bd00"/>
<circle cx="531.7" cy="49.4" r="2.3" fill="#00bd00"/>
<circle cx="536.1" cy="51.9" r="2.3" fill="#00bd00"/>
<circle cx="528.8" cy="52.7" r="2.3" fill="#00bd00"/>
<circle cx="533" cy="50" r="2.3" fill="#00bd00"/>
<circle cx="545" cy="70.9" r="2.3" fill="#a000e0"/>
<circle cx="548.2" cy="73.7" r="2.3" fill="#a000e0"/>
<circle cx="551.7" cy="76.9" r="2.3" fill="#a000e0"/>
<circle cx="545" cy="77.7" r="2.3" fill="#a000e0"/>
<circle cx="546.6" cy="88.2" r="2.3" fill="#a000e0"/>
<circle cx="549.8" cy="88.2" r="2.3" fill="#a000e0"/>
<path d="M499.2,23.0 V20.7 H529.6 V23.0" fill="none" stroke="#666" stroke-width="0.75"/>
<polygon points="514.20,13.35 514.80,14.78 516.34,14.90 515.16,15.91 515.52,17.42 514.20,16.61 512.88,17.42 513.24,15.91 512.06,14.90 513.60,14.78" fill="#231f20"/>
<path d="M499.2,35.599999999999994 V33.3 H515.9 V35.599999999999994" fill="none" stroke="#666" stroke-width="0.75"/>
<polygon points="500.38,25.55 500.97,26.98 502.51,27.10 501.34,28.11 501.70,29.62 500.38,28.81 499.05,29.62 499.41,28.11 498.24,27.10 499.78,26.98" fill="#231f20"/>
<polygon points="505.12,25.55 505.72,26.98 507.26,27.10 506.09,28.11 506.45,29.62 505.12,28.81 503.80,29.62 504.16,28.11 502.99,27.10 504.53,26.98" fill="#231f20"/>
<polygon points="509.88,25.55 510.47,26.98 512.01,27.10 510.84,28.11 511.20,29.62 509.88,28.81 508.55,29.62 508.91,28.11 507.74,27.10 509.28,26.98" fill="#231f20"/>
<polygon points="514.62,25.55 515.22,26.98 516.76,27.10 515.59,28.11 515.95,29.62 514.62,28.81 513.30,29.62 513.66,28.11 512.49,27.10 514.03,26.98" fill="#231f20"/>
<path d="M515.9,35.599999999999994 V33.3 H548.2 V35.599999999999994" fill="none" stroke="#666" stroke-width="0.75"/>
<polygon points="526.48,26.75 527.07,28.18 528.61,28.30 527.44,29.31 527.80,30.82 526.48,30.01 525.15,30.82 525.51,29.31 524.34,28.30 525.88,28.18" fill="#231f20"/>
<polygon points="531.23,26.75 531.82,28.18 533.36,28.30 532.19,29.31 532.55,30.82 531.23,30.01 529.90,30.82 530.26,29.31 529.09,28.30 530.63,28.18" fill="#231f20"/>
<polygon points="535.98,26.75 536.57,28.18 538.11,28.30 536.94,29.31 537.30,30.82 535.98,30.01 534.65,30.82 535.01,29.31 533.84,28.30 535.38,28.18" fill="#231f20"/>
<polygon points="540.73,26.75 541.32,28.18 542.86,28.30 541.69,29.31 542.05,30.82 540.73,30.01 539.40,30.82 539.76,29.31 538.59,28.30 540.13,28.18" fill="#231f20"/>
<line x1="610.4" y1="23.5" x2="610.4" y2="131.5" stroke="#666" stroke-width="0.85" />
<line x1="606.0" y1="23.5" x2="610.4" y2="23.5" stroke="#666" stroke-width="0.85" />
<text x="602.5" y="26.4" font-size="8.2" text-anchor="end">150</text>
<line x1="606.0" y1="59.5" x2="610.4" y2="59.5" stroke="#666" stroke-width="0.85" />
<text x="602.5" y="62.4" font-size="8.2" text-anchor="end">100</text>
<line x1="606.0" y1="95.5" x2="610.4" y2="95.5" stroke="#666" stroke-width="0.85" />
<text x="602.5" y="98.4" font-size="8.2" text-anchor="end">50</text>
<line x1="606.0" y1="131.5" x2="610.4" y2="131.5" stroke="#666" stroke-width="0.85" />
<text x="602.5" y="134.4" font-size="8.2" text-anchor="end">0</text>
<line x1="606.0" y1="131.5" x2="685" y2="131.5" stroke="#666" stroke-width="0.85" />
<line x1="621.4" y1="131.5" x2="621.4" y2="135.6" stroke="#777" stroke-width="0.8" />
<line x1="638.7" y1="131.5" x2="638.7" y2="135.6" stroke="#777" stroke-width="0.8" />
<line x1="656.0" y1="131.5" x2="656.0" y2="135.6" stroke="#777" stroke-width="0.8" />
<line x1="673.2" y1="131.5" x2="673.2" y2="135.6" stroke="#777" stroke-width="0.8" />
<text x="621.4" y="145.9" font-size="6.35" text-anchor="middle" fill="#444">wt</text>
<text x="621.4" y="154.8" font-size="6.35" text-anchor="middle" fill="#444">GFP</text>
<text x="638.7" y="145.9" font-size="6.35" text-anchor="middle" fill="#444">wt</text>
<text x="638.7" y="154.8" font-size="6.35" text-anchor="middle" fill="#444">Irisin</text>
<text x="656.0" y="145.9" font-size="6.35" text-anchor="middle" font-style="italic" fill="#444">Δtreg</text>
<text x="656.0" y="154.8" font-size="6.35" text-anchor="middle" fill="#444">GFP</text>
<text x="673.2" y="145.9" font-size="6.35" text-anchor="middle" font-style="italic" fill="#444">Δtreg</text>
<text x="673.2" y="154.8" font-size="6.35" text-anchor="middle" fill="#444">Irisin</text>
<text x="604.1999999999999" y="145.9" font-size="6.5" text-anchor="middle" font-style="italic" fill="#444">Il1rl1</text>
<text x="604.1999999999999" y="154.8" font-size="6.35" text-anchor="middle" fill="#444">AAV</text>
<text transform="translate(581.5,77.4) rotate(-90)" font-size="8.6" text-anchor="middle" fill="#231f20" textLength="109.5" lengthAdjust="spacingAndGlyphs">No. of mSCs (×10<tspan font-size="6.0" dy="-3.3">4</tspan><tspan dy="3.3">)/g tissue</tspan></text>
<line x1="621.3" y1="56.4" x2="621.3" y2="90.6" stroke="#0a0a0a" stroke-width="0.9" stroke-opacity="0.9"/>
<line x1="618.8" y1="56.4" x2="623.8" y2="56.4" stroke="#0a0a0a" stroke-width="0.9" stroke-opacity="0.9"/>
<line x1="618.8" y1="90.6" x2="623.8" y2="90.6" stroke="#0a0a0a" stroke-width="0.9" stroke-opacity="0.9"/>
<line x1="615.8" y1="72.5" x2="626.8" y2="72.5" stroke="#0a0a0a" stroke-width="0.9" stroke-opacity="0.9"/>
<line x1="638.6" y1="59.3" x2="638.6" y2="94.7" stroke="#f28124" stroke-width="0.9" stroke-opacity="0.5"/>
<line x1="636.1" y1="59.3" x2="641.1" y2="59.3" stroke="#f28124" stroke-width="0.9" stroke-opacity="0.5"/>
<line x1="636.1" y1="94.7" x2="641.1" y2="94.7" stroke="#f28124" stroke-width="0.9" stroke-opacity="0.5"/>
<line x1="633.1" y1="77.4" x2="644.1" y2="77.4" stroke="#f28124" stroke-width="0.9" stroke-opacity="0.5"/>
<line x1="656.1" y1="79" x2="656.1" y2="84" stroke="#2fb030" stroke-width="0.9" stroke-opacity="0.5"/>
<line x1="653.6" y1="79" x2="658.6" y2="79" stroke="#2fb030" stroke-width="0.9" stroke-opacity="0.5"/>
<line x1="653.6" y1="84" x2="658.6" y2="84" stroke="#2fb030" stroke-width="0.9" stroke-opacity="0.5"/>
<line x1="650.6" y1="81.4" x2="661.6" y2="81.4" stroke="#2fb030" stroke-width="0.9" stroke-opacity="0.5"/>
<line x1="673" y1="57.5" x2="673" y2="96" stroke="#7b2fa0" stroke-width="0.9" stroke-opacity="0.22"/>
<line x1="670.5" y1="57.5" x2="675.5" y2="57.5" stroke="#7b2fa0" stroke-width="0.9" stroke-opacity="0.22"/>
<line x1="670.5" y1="96" x2="675.5" y2="96" stroke="#7b2fa0" stroke-width="0.9" stroke-opacity="0.22"/>
<line x1="667.5" y1="77.4" x2="678.5" y2="77.4" stroke="#7b2fa0" stroke-width="0.9" stroke-opacity="1.0"/>
<circle cx="621.3" cy="42.3" r="2.3" fill="#0a0a0a"/>
<circle cx="617.8" cy="54.8" r="2.3" fill="#0a0a0a"/>
<circle cx="621.3" cy="52.3" r="2.3" fill="#0a0a0a"/>
<circle cx="625" cy="56.4" r="2.3" fill="#0a0a0a"/>
<circle cx="625" cy="73" r="2.3" fill="#0a0a0a"/>
<circle cx="617.8" cy="76.2" r="2.3" fill="#0a0a0a"/>
<circle cx="621.3" cy="79.8" r="2.3" fill="#0a0a0a"/>
<circle cx="625" cy="79" r="2.3" fill="#0a0a0a"/>
<circle cx="617.8" cy="94" r="2.3" fill="#0a0a0a"/>
<circle cx="621.3" cy="93.5" r="2.3" fill="#0a0a0a"/>
<circle cx="625" cy="94" r="2.3" fill="#0a0a0a"/>
<circle cx="638.6" cy="35.7" r="2.3" fill="#f28124"/>
<circle cx="635" cy="66.5" r="2.3" fill="#f28124"/>
<circle cx="638.6" cy="70.9" r="2.3" fill="#f28124"/>
<circle cx="642.3" cy="70.1" r="2.3" fill="#f28124"/>
<circle cx="642.3" cy="81.1" r="2.3" fill="#f28124"/>
<circle cx="635" cy="86" r="2.3" fill="#f28124"/>
<circle cx="638.6" cy="86.6" r="2.3" fill="#f28124"/>
<circle cx="642.3" cy="86.6" r="2.3" fill="#f28124"/>
<circle cx="638.6" cy="89.2" r="2.3" fill="#f28124"/>
<circle cx="638.6" cy="100.3" r="2.3" fill="#f28124"/>
<circle cx="652" cy="84.7" r="2.3" fill="#2fb030"/>
<circle cx="656.1" cy="80.1" r="2.3" fill="#2fb030"/>
<circle cx="659.6" cy="77.4" r="2.3" fill="#2fb030"/>
<circle cx="659.3" cy="83" r="2.3" fill="#2fb030"/>
<circle cx="673" cy="45" r="2.3" fill="#7b2fa0"/>
<circle cx="669.5" cy="63.6" r="2.3" fill="#7b2fa0"/>
<circle cx="676.6" cy="62.8" r="2.3" fill="#7b2fa0"/>
<circle cx="669.5" cy="87.1" r="2.3" fill="#7b2fa0"/>
<circle cx="676.6" cy="86.6" r="2.3" fill="#7b2fa0"/>
<circle cx="669.5" cy="98.7" r="2.3" fill="#7b2fa0"/>
<circle cx="676.6" cy="96.8" r="2.3" fill="#7b2fa0"/>
<line x1="132.0" y1="180.1" x2="132.0" y2="288.6" stroke="#666" stroke-width="0.85" />
<line x1="127.6" y1="180.1" x2="132.0" y2="180.1" stroke="#666" stroke-width="0.85" />
<text x="124.1" y="183.0" font-size="8.2" text-anchor="end">100</text>
<line x1="127.6" y1="201.8" x2="132.0" y2="201.8" stroke="#666" stroke-width="0.85" />
<text x="124.1" y="204.70000000000002" font-size="8.2" text-anchor="end">80</text>
<line x1="127.6" y1="223.5" x2="132.0" y2="223.5" stroke="#666" stroke-width="0.85" />
<text x="124.1" y="226.4" font-size="8.2" text-anchor="end">60</text>
<line x1="127.6" y1="245.2" x2="132.0" y2="245.2" stroke="#666" stroke-width="0.85" />
<text x="124.1" y="248.1" font-size="8.2" text-anchor="end">40</text>
<line x1="127.6" y1="266.9" x2="132.0" y2="266.9" stroke="#666" stroke-width="0.85" />
<text x="124.1" y="269.79999999999995" font-size="8.2" text-anchor="end">20</text>
<line x1="127.6" y1="288.6" x2="132.0" y2="288.6" stroke="#666" stroke-width="0.85" />
<text x="124.1" y="291.5" font-size="8.2" text-anchor="end">0</text>
<line x1="127.6" y1="288.6" x2="204" y2="288.6" stroke="#666" stroke-width="0.85" />
<line x1="142.7" y1="288.6" x2="142.7" y2="292.70000000000005" stroke="#777" stroke-width="0.8" />
<line x1="159.5" y1="288.6" x2="159.5" y2="292.70000000000005" stroke="#777" stroke-width="0.8" />
<line x1="176.1" y1="288.6" x2="176.1" y2="292.70000000000005" stroke="#777" stroke-width="0.8" />
<line x1="192.4" y1="288.6" x2="192.4" y2="292.70000000000005" stroke="#777" stroke-width="0.8" />
<text x="142.7" y="303.0" font-size="6.35" text-anchor="middle" fill="#444">wt</text>
<text x="142.7" y="311.90000000000003" font-size="6.35" text-anchor="middle" fill="#444">GFP</text>
<text x="159.5" y="303.0" font-size="6.35" text-anchor="middle" fill="#444">wt</text>
<text x="159.5" y="311.90000000000003" font-size="6.35" text-anchor="middle" fill="#444">Irisin</text>
<text x="176.1" y="303.0" font-size="6.35" text-anchor="middle" fill="#444">Δtreg</text>
<text x="176.1" y="311.90000000000003" font-size="6.35" text-anchor="middle" fill="#444">GFP</text>
<text x="192.4" y="303.0" font-size="6.35" text-anchor="middle" fill="#444">Δtreg</text>
<text x="192.4" y="311.90000000000003" font-size="6.35" text-anchor="middle" fill="#444">Irisin</text>
<text x="125.8" y="303.0" font-size="6.5" text-anchor="middle" font-style="italic" fill="#444">Il1rl1</text>
<text x="125.8" y="311.90000000000003" font-size="6.35" text-anchor="middle" fill="#444">AAV</text>
<text transform="translate(104.0,234.0) rotate(-90)" font-size="8.6" text-anchor="middle" fill="#231f20" textLength="75.4" lengthAdjust="spacingAndGlyphs">% ST2<tspan font-size="6.0" dy="-3.3">+</tspan><tspan dy="3.3"> of T<tspan font-size="5.9" dy="2.0">reg</tspan><tspan dy="-2.0"> cells</tspan></text>
<line x1="142.7" y1="255" x2="142.7" y2="273" stroke="#000000" stroke-width="0.9" stroke-opacity="0.6"/>
<line x1="140.2" y1="255" x2="145.2" y2="255" stroke="#000000" stroke-width="0.9" stroke-opacity="0.6"/>
<line x1="140.2" y1="273" x2="145.2" y2="273" stroke="#000000" stroke-width="0.9" stroke-opacity="0.6"/>
<line x1="137.2" y1="263" x2="148.2" y2="263" stroke="#000000" stroke-width="0.9" stroke-opacity="0.6"/>
<line x1="192.4" y1="282" x2="192.4" y2="288" stroke="#a000e0" stroke-width="0.9" stroke-opacity="0.4"/>
<line x1="189.9" y1="282" x2="194.9" y2="282" stroke="#a000e0" stroke-width="0.9" stroke-opacity="0.4"/>
<line x1="189.9" y1="288" x2="194.9" y2="288" stroke="#a000e0" stroke-width="0.9" stroke-opacity="0.4"/>
<line x1="186.9" y1="286" x2="197.9" y2="286" stroke="#a000e0" stroke-width="0.9" stroke-opacity="0.4"/>
<circle cx="142.7" cy="251.1" r="2.3" fill="#000000"/>
<circle cx="146.2" cy="255.2" r="2.3" fill="#000000"/>
<circle cx="143.6" cy="257" r="2.3" fill="#000000"/>
<circle cx="140.9" cy="258.8" r="2.3" fill="#000000"/>
<circle cx="139.1" cy="264.1" r="2.3" fill="#000000"/>
<circle cx="142.7" cy="263.2" r="2.3" fill="#000000"/>
<circle cx="146.6" cy="265" r="2.3" fill="#000000"/>
<circle cx="140.5" cy="276.5" r="2.3" fill="#000000"/>
<circle cx="144.4" cy="275.6" r="2.3" fill="#000000"/>
<circle cx="156" cy="194.8" r="2.3" fill="#ff8000"/>
<circle cx="160.4" cy="193" r="2.3" fill="#ff8000"/>
<circle cx="163.6" cy="194.8" r="2.3" fill="#ff8000"/>
<circle cx="158" cy="196" r="2.3" fill="#ff8000"/>
<circle cx="156" cy="201.9" r="2.3" fill="#ff8000"/>
<circle cx="160.4" cy="201" r="2.3" fill="#ff8000"/>
<circle cx="163.6" cy="200.6" r="2.3" fill="#ff8000"/>
<circle cx="172.9" cy="287.7" r="2.3" fill="#00bd00"/>
<circle cx="176.1" cy="286.3" r="2.3" fill="#00bd00"/>
<circle cx="179.6" cy="286.8" r="2.3" fill="#00bd00"/>
<circle cx="192.4" cy="279.2" r="2.3" fill="#a000e0"/>
<circle cx="188.5" cy="287.2" r="2.3" fill="#a000e0"/>
<circle cx="192.4" cy="286.7" r="2.3" fill="#a000e0"/>
<circle cx="196.3" cy="287.2" r="2.3" fill="#a000e0"/>
<path d="M141.3,172.8 V170.5 H175.2 V172.8" fill="none" stroke="#666" stroke-width="0.75"/>
<polygon points="151.57,164.05 152.17,165.48 153.71,165.60 152.54,166.61 152.90,168.12 151.57,167.31 150.25,168.12 150.61,166.61 149.44,165.60 150.98,165.48" fill="#231f20"/>
<polygon points="156.32,164.05 156.92,165.48 158.46,165.60 157.29,166.61 157.65,168.12 156.32,167.31 155.00,168.12 155.36,166.61 154.19,165.60 155.73,165.48" fill="#231f20"/>
<polygon points="161.07,164.05 161.67,165.48 163.21,165.60 162.04,166.61 162.40,168.12 161.07,167.31 159.75,168.12 160.11,166.61 158.94,165.60 160.48,165.48" fill="#231f20"/>
<polygon points="165.82,164.05 166.42,165.48 167.96,165.60 166.79,166.61 167.15,168.12 165.82,167.31 164.50,168.12 164.86,166.61 163.69,165.60 165.23,165.48" fill="#231f20"/>
<path d="M141.3,184.60000000000002 V182.3 H159.0 V184.60000000000002" fill="none" stroke="#666" stroke-width="0.75"/>
<polygon points="143.47,174.75 144.07,176.18 145.61,176.30 144.44,177.31 144.80,178.82 143.47,178.01 142.15,178.82 142.51,177.31 141.34,176.30 142.88,176.18" fill="#231f20"/>
<polygon points="148.22,174.75 148.82,176.18 150.36,176.30 149.19,177.31 149.55,178.82 148.22,178.01 146.90,178.82 147.26,177.31 146.09,176.30 147.63,176.18" fill="#231f20"/>
<polygon points="152.97,174.75 153.57,176.18 155.11,176.30 153.94,177.31 154.30,178.82 152.97,178.01 151.65,178.82 152.01,177.31 150.84,176.30 152.38,176.18" fill="#231f20"/>
<polygon points="157.72,174.75 158.32,176.18 159.86,176.30 158.69,177.31 159.05,178.82 157.72,178.01 156.40,178.82 156.76,177.31 155.59,176.30 157.13,176.18" fill="#231f20"/>
<path d="M159.0,184.60000000000002 V182.3 H193.5 V184.60000000000002" fill="none" stroke="#666" stroke-width="0.75"/>
<polygon points="170.18,174.75 170.77,176.18 172.31,176.30 171.14,177.31 171.50,178.82 170.18,178.01 168.85,178.82 169.21,177.31 168.04,176.30 169.58,176.18" fill="#231f20"/>
<polygon points="174.93,174.75 175.52,176.18 177.06,176.30 175.89,177.31 176.25,178.82 174.93,178.01 173.60,178.82 173.96,177.31 172.79,176.30 174.33,176.18" fill="#231f20"/>
<polygon points="179.68,174.75 180.27,176.18 181.81,176.30 180.64,177.31 181.00,178.82 179.68,178.01 178.35,178.82 178.71,177.31 177.54,176.30 179.08,176.18" fill="#231f20"/>
<polygon points="184.43,174.75 185.02,176.18 186.56,176.30 185.39,177.31 185.75,178.82 184.43,178.01 183.10,178.82 183.46,177.31 182.29,176.30 183.83,176.18" fill="#231f20"/>
<line x1="255.5" y1="179.9" x2="255.5" y2="288.6" stroke="#666" stroke-width="0.85" />
<line x1="251.1" y1="179.9" x2="255.5" y2="179.9" stroke="#666" stroke-width="0.85" />
<text x="247.6" y="182.8" font-size="8.2" text-anchor="end">60</text>
<line x1="251.1" y1="216.1" x2="255.5" y2="216.1" stroke="#666" stroke-width="0.85" />
<text x="247.6" y="219.0" font-size="8.2" text-anchor="end">40</text>
<line x1="251.1" y1="252.4" x2="255.5" y2="252.4" stroke="#666" stroke-width="0.85" />
<text x="247.6" y="255.3" font-size="8.2" text-anchor="end">20</text>
<line x1="251.1" y1="288.6" x2="255.5" y2="288.6" stroke="#666" stroke-width="0.85" />
<text x="247.6" y="291.5" font-size="8.2" text-anchor="end">0</text>
<line x1="251.1" y1="288.6" x2="330" y2="288.6" stroke="#666" stroke-width="0.85" />
<line x1="266.9" y1="288.6" x2="266.9" y2="292.70000000000005" stroke="#777" stroke-width="0.8" />
<line x1="283.8" y1="288.6" x2="283.8" y2="292.70000000000005" stroke="#777" stroke-width="0.8" />
<line x1="300.6" y1="288.6" x2="300.6" y2="292.70000000000005" stroke="#777" stroke-width="0.8" />
<line x1="317.4" y1="288.6" x2="317.4" y2="292.70000000000005" stroke="#777" stroke-width="0.8" />
<text x="266.9" y="303.0" font-size="6.35" text-anchor="middle" fill="#444">wt</text>
<text x="266.9" y="311.90000000000003" font-size="6.35" text-anchor="middle" fill="#444">GFP</text>
<text x="283.8" y="303.0" font-size="6.35" text-anchor="middle" fill="#444">wt</text>
<text x="283.8" y="311.90000000000003" font-size="6.35" text-anchor="middle" fill="#444">Irisin</text>
<text x="300.6" y="303.0" font-size="6.35" text-anchor="middle" fill="#444">Δtreg</text>
<text x="300.6" y="311.90000000000003" font-size="6.35" text-anchor="middle" fill="#444">GFP</text>
<text x="317.4" y="303.0" font-size="6.35" text-anchor="middle" fill="#444">Δtreg</text>
<text x="317.4" y="311.90000000000003" font-size="6.35" text-anchor="middle" fill="#444">Irisin</text>
<text x="249.3" y="303.0" font-size="6.5" text-anchor="middle" font-style="italic" fill="#444">Il1rl1</text>
<text x="249.3" y="311.90000000000003" font-size="6.35" text-anchor="middle" fill="#444">AAV</text>
<text transform="translate(232.0,234.5) rotate(-90)" font-size="8.6" text-anchor="middle" fill="#231f20" textLength="94.7" lengthAdjust="spacingAndGlyphs">% TCRβ<tspan font-size="6.0" dy="-3.3">+</tspan><tspan dy="3.3"> of CD45<tspan font-size="6.0" dy="-3.3">+</tspan><tspan dy="3.3"> cells</tspan></text>
<line x1="267" y1="202.8" x2="267" y2="224.9" stroke="#000000" stroke-width="0.9" stroke-opacity="0.8"/>
<line x1="264.5" y1="202.8" x2="269.5" y2="202.8" stroke="#000000" stroke-width="0.9" stroke-opacity="0.8"/>
<line x1="264.5" y1="224.9" x2="269.5" y2="224.9" stroke="#000000" stroke-width="0.9" stroke-opacity="0.8"/>
<line x1="261.5" y1="213.7" x2="272.5" y2="213.7" stroke="#000000" stroke-width="0.9" stroke-opacity="0.8"/>
<line x1="300.6" y1="192.3" x2="300.6" y2="209.5" stroke="#00bd00" stroke-width="0.9" stroke-opacity="0.8"/>
<line x1="298.1" y1="192.3" x2="303.1" y2="192.3" stroke="#00bd00" stroke-width="0.9" stroke-opacity="0.8"/>
<line x1="298.1" y1="209.5" x2="303.1" y2="209.5" stroke="#00bd00" stroke-width="0.9" stroke-opacity="0.8"/>
<line x1="295.1" y1="201.1" x2="306.1" y2="201.1" stroke="#00bd00" stroke-width="0.9" stroke-opacity="0.8"/>
<line x1="317.4" y1="199.7" x2="317.4" y2="207" stroke="#a000e0" stroke-width="0.9" stroke-opacity="0.6"/>
<line x1="314.9" y1="199.7" x2="319.9" y2="199.7" stroke="#a000e0" stroke-width="0.9" stroke-opacity="0.6"/>
<line x1="314.9" y1="207" x2="319.9" y2="207" stroke="#a000e0" stroke-width="0.9" stroke-opacity="0.6"/>
<line x1="311.9" y1="203.2" x2="322.9" y2="203.2" stroke="#a000e0" stroke-width="0.9" stroke-opacity="0.6"/>
<circle cx="263" cy="198" r="2.3" fill="#000000"/>
<circle cx="267" cy="200.7" r="2.3" fill="#000000"/>
<circle cx="270.8" cy="198" r="2.3" fill="#000000"/>
<circle cx="264.5" cy="211.2" r="2.3" fill="#000000"/>
<circle cx="268.7" cy="211.6" r="2.3" fill="#000000"/>
<circle cx="263" cy="218.6" r="2.3" fill="#000000"/>
<circle cx="267" cy="217.5" r="2.3" fill="#000000"/>
<circle cx="270.8" cy="217.5" r="2.3" fill="#000000"/>
<circle cx="264.5" cy="222.1" r="2.3" fill="#000000"/>
<circle cx="269.7" cy="222.1" r="2.3" fill="#000000"/>
<circle cx="267" cy="230.5" r="2.3" fill="#000000"/>
<circle cx="280.2" cy="233.9" r="2.3" fill="#ff8000"/>
<circle cx="283.8" cy="231.2" r="2.3" fill="#ff8000"/>
<circle cx="287.6" cy="233.9" r="2.3" fill="#ff8000"/>
<circle cx="283.8" cy="235.4" r="2.3" fill="#ff8000"/>
<circle cx="281" cy="231.5" r="2.3" fill="#ff8000"/>
<circle cx="286" cy="231" r="2.3" fill="#ff8000"/>
<circle cx="297.4" cy="193.4" r="2.3" fill="#00bd00"/>
<circle cx="304.4" cy="192.3" r="2.3" fill="#00bd00"/>
<circle cx="297.4" cy="210.2" r="2.3" fill="#00bd00"/>
<circle cx="304.4" cy="208.5" r="2.3" fill="#00bd00"/>
<circle cx="317.4" cy="195.5" r="2.3" fill="#a000e0"/>
<circle cx="313.8" cy="204.9" r="2.3" fill="#a000e0"/>
<circle cx="317.4" cy="205.3" r="2.3" fill="#a000e0"/>
<circle cx="321.2" cy="204.9" r="2.3" fill="#a000e0"/>
<path d="M265.9,177.8 V175.5 H300.6 V177.8" fill="none" stroke="#666" stroke-width="0.75"/>
<polygon points="281.30,169.05 281.90,170.48 283.44,170.60 282.26,171.61 282.62,173.12 281.30,172.31 279.98,173.12 280.34,171.61 279.16,170.60 280.70,170.48" fill="#231f20"/>
<path d="M265.9,189.3 V187.0 H283.8 V189.3" fill="none" stroke="#666" stroke-width="0.75"/>
<polygon points="268.27,180.75 268.87,182.18 270.41,182.30 269.24,183.31 269.60,184.82 268.27,184.01 266.95,184.82 267.31,183.31 266.14,182.30 267.68,182.18" fill="#231f20"/>
<polygon points="273.02,180.75 273.62,182.18 275.16,182.30 273.99,183.31 274.35,184.82 273.02,184.01 271.70,184.82 272.06,183.31 270.89,182.30 272.43,182.18" fill="#231f20"/>
<polygon points="277.77,180.75 278.37,182.18 279.91,182.30 278.74,183.31 279.10,184.82 277.77,184.01 276.45,184.82 276.81,183.31 275.64,182.30 277.18,182.18" fill="#231f20"/>
<polygon points="282.52,180.75 283.12,182.18 284.66,182.30 283.49,183.31 283.85,184.82 282.52,184.01 281.20,184.82 281.56,183.31 280.39,182.30 281.93,182.18" fill="#231f20"/>
<path d="M283.8,189.3 V187.0 H319.1 V189.3" fill="none" stroke="#666" stroke-width="0.75"/>
<polygon points="295.18,180.75 295.77,182.18 297.31,182.30 296.14,183.31 296.50,184.82 295.18,184.01 293.85,184.82 294.21,183.31 293.04,182.30 294.58,182.18" fill="#231f20"/>
<polygon points="299.93,180.75 300.52,182.18 302.06,182.30 300.89,183.31 301.25,184.82 299.93,184.01 298.60,184.82 298.96,183.31 297.79,182.30 299.33,182.18" fill="#231f20"/>
<polygon points="304.68,180.75 305.27,182.18 306.81,182.30 305.64,183.31 306.00,184.82 304.68,184.01 303.35,184.82 303.71,183.31 302.54,182.30 304.08,182.18" fill="#231f20"/>
<polygon points="309.43,180.75 310.02,182.18 311.56,182.30 310.39,183.31 310.75,184.82 309.43,184.01 308.10,184.82 308.46,183.31 307.29,182.30 308.83,182.18" fill="#231f20"/>
<line x1="376.5" y1="180.2" x2="376.5" y2="288.6" stroke="#666" stroke-width="0.85" />
<line x1="372.1" y1="180.2" x2="376.5" y2="180.2" stroke="#666" stroke-width="0.85" />
<text x="368.6" y="183.1" font-size="8.2" text-anchor="end">60</text>
<line x1="372.1" y1="216.3" x2="376.5" y2="216.3" stroke="#666" stroke-width="0.85" />
<text x="368.6" y="219.20000000000002" font-size="8.2" text-anchor="end">40</text>
<line x1="372.1" y1="252.5" x2="376.5" y2="252.5" stroke="#666" stroke-width="0.85" />
<text x="368.6" y="255.4" font-size="8.2" text-anchor="end">20</text>
<line x1="372.1" y1="288.6" x2="376.5" y2="288.6" stroke="#666" stroke-width="0.85" />
<text x="368.6" y="291.5" font-size="8.2" text-anchor="end">0</text>
<line x1="372.1" y1="288.6" x2="449.8" y2="288.6" stroke="#666" stroke-width="0.85" />
<line x1="387.3" y1="288.6" x2="387.3" y2="292.70000000000005" stroke="#777" stroke-width="0.8" />
<line x1="404.1" y1="288.6" x2="404.1" y2="292.70000000000005" stroke="#777" stroke-width="0.8" />
<line x1="421.2" y1="288.6" x2="421.2" y2="292.70000000000005" stroke="#777" stroke-width="0.8" />
<line x1="438.2" y1="288.6" x2="438.2" y2="292.70000000000005" stroke="#777" stroke-width="0.8" />
<text x="387.3" y="303.0" font-size="6.35" text-anchor="middle" fill="#444">wt</text>
<text x="387.3" y="311.90000000000003" font-size="6.35" text-anchor="middle" fill="#444">GFP</text>
<text x="404.1" y="303.0" font-size="6.35" text-anchor="middle" fill="#444">wt</text>
<text x="404.1" y="311.90000000000003" font-size="6.35" text-anchor="middle" fill="#444">Irisin</text>
<text x="421.2" y="303.0" font-size="6.35" text-anchor="middle" fill="#444">Δtreg</text>
<text x="421.2" y="311.90000000000003" font-size="6.35" text-anchor="middle" fill="#444">GFP</text>
<text x="438.2" y="303.0" font-size="6.35" text-anchor="middle" fill="#444">Δtreg</text>
<text x="438.2" y="311.90000000000003" font-size="6.35" text-anchor="middle" fill="#444">Irisin</text>
<text transform="translate(352.0,234.2) rotate(-90)" font-size="8.6" text-anchor="middle" fill="#231f20" textLength="88.6" lengthAdjust="spacingAndGlyphs">% CD8<tspan font-size="6.0" dy="-3.3">+</tspan><tspan dy="3.3"> of TCRβ<tspan font-size="6.0" dy="-3.3">+</tspan><tspan dy="3.3"> cells</tspan></text>
<line x1="387.6" y1="206" x2="387.6" y2="231.2" stroke="#000000" stroke-width="0.9" stroke-opacity="0.8"/>
<line x1="385.1" y1="206" x2="390.1" y2="206" stroke="#000000" stroke-width="0.9" stroke-opacity="0.8"/>
<line x1="385.1" y1="231.2" x2="390.1" y2="231.2" stroke="#000000" stroke-width="0.9" stroke-opacity="0.8"/>
<line x1="382.1" y1="218.6" x2="393.1" y2="218.6" stroke="#000000" stroke-width="0.9" stroke-opacity="0.8"/>
<line x1="421.2" y1="212.9" x2="421.2" y2="234.3" stroke="#00bd00" stroke-width="0.9" stroke-opacity="0.8"/>
<line x1="418.7" y1="212.9" x2="423.7" y2="212.9" stroke="#00bd00" stroke-width="0.9" stroke-opacity="0.8"/>
<line x1="418.7" y1="234.3" x2="423.7" y2="234.3" stroke="#00bd00" stroke-width="0.9" stroke-opacity="0.8"/>
<line x1="415.7" y1="223.8" x2="426.7" y2="223.8" stroke="#00bd00" stroke-width="0.9" stroke-opacity="0.8"/>
<line x1="438" y1="224.5" x2="438" y2="234.3" stroke="#a000e0" stroke-width="0.9" stroke-opacity="0.6"/>
<line x1="435.5" y1="224.5" x2="440.5" y2="224.5" stroke="#a000e0" stroke-width="0.9" stroke-opacity="0.6"/>
<line x1="435.5" y1="234.3" x2="440.5" y2="234.3" stroke="#a000e0" stroke-width="0.9" stroke-opacity="0.6"/>
<line x1="432.5" y1="231.2" x2="443.5" y2="231.2" stroke="#a000e0" stroke-width="0.9" stroke-opacity="0.6"/>
<circle cx="387.6" cy="191.7" r="2.3" fill="#000000"/>
<circle cx="385.5" cy="203.4" r="2.3" fill="#000000"/>
<circle cx="389.3" cy="202.8" r="2.3" fill="#000000"/>
<circle cx="383.4" cy="221.3" r="2.3" fill="#000000"/>
<circle cx="387.6" cy="220.7" r="2.3" fill="#000000"/>
<circle cx="391.4" cy="221.3" r="2.3" fill="#000000"/>
<circle cx="383.4" cy="227" r="2.3" fill="#000000"/>
<circle cx="387.6" cy="226.3" r="2.3" fill="#000000"/>
<circle cx="391.4" cy="227" r="2.3" fill="#000000"/>
<circle cx="383.4" cy="231.8" r="2.3" fill="#000000"/>
<circle cx="391.4" cy="231.8" r="2.3" fill="#000000"/>
<circle cx="401.3" cy="249" r="2.3" fill="#ff8000"/>
<circle cx="404.4" cy="247.4" r="2.3" fill="#ff8000"/>
<circle cx="407.6" cy="249.7" r="2.3" fill="#ff8000"/>
<circle cx="404.4" cy="250.7" r="2.3" fill="#ff8000"/>
<circle cx="418.1" cy="213.7" r="2.3" fill="#00bd00"/>
<circle cx="424.8" cy="212.9" r="2.3" fill="#00bd00"/>
<circle cx="418.1" cy="234.3" r="2.3" fill="#00bd00"/>
<circle cx="424.8" cy="233.9" r="2.3" fill="#00bd00"/>
<circle cx="438" cy="217.5" r="2.3" fill="#a000e0"/>
<circle cx="434.9" cy="231.8" r="2.3" fill="#a000e0"/>
<circle cx="438" cy="232.6" r="2.3" fill="#a000e0"/>
<circle cx="441.8" cy="231.8" r="2.3" fill="#a000e0"/>
<path d="M385.9,172.60000000000002 V170.3 H420.6 V172.60000000000002" fill="none" stroke="#666" stroke-width="0.75"/>
<text x="403.3" y="168.0" font-size="7.4" text-anchor="middle">NS</text>
<path d="M385.9,183.10000000000002 V180.8 H403.8 V183.10000000000002" fill="none" stroke="#666" stroke-width="0.75"/>
<polygon points="388.27,174.15 388.87,175.58 390.41,175.70 389.24,176.71 389.60,178.22 388.27,177.41 386.95,178.22 387.31,176.71 386.14,175.70 387.68,175.58" fill="#231f20"/>
<polygon points="393.02,174.15 393.62,175.58 395.16,175.70 393.99,176.71 394.35,178.22 393.02,177.41 391.70,178.22 392.06,176.71 390.89,175.70 392.43,175.58" fill="#231f20"/>
<polygon points="397.77,174.15 398.37,175.58 399.91,175.70 398.74,176.71 399.10,178.22 397.77,177.41 396.45,178.22 396.81,176.71 395.64,175.70 397.18,175.58" fill="#231f20"/>
<polygon points="402.52,174.15 403.12,175.58 404.66,175.70 403.49,176.71 403.85,178.22 402.52,177.41 401.20,178.22 401.56,176.71 400.39,175.70 401.93,175.58" fill="#231f20"/>
<path d="M403.8,183.10000000000002 V180.8 H438.7 V183.10000000000002" fill="none" stroke="#666" stroke-width="0.75"/>
<polygon points="418.82,174.15 419.42,175.58 420.96,175.70 419.79,176.71 420.15,178.22 418.82,177.41 417.50,178.22 417.86,176.71 416.69,175.70 418.23,175.58" fill="#231f20"/>
<polygon points="423.57,174.15 424.17,175.58 425.71,175.70 424.54,176.71 424.90,178.22 423.57,177.41 422.25,178.22 422.61,176.71 421.44,175.70 422.98,175.58" fill="#231f20"/>
<line x1="494.9" y1="180.1" x2="494.9" y2="288.6" stroke="#666" stroke-width="0.85" />
<line x1="490.5" y1="180.1" x2="494.9" y2="180.1" stroke="#666" stroke-width="0.85" />
<text x="487.0" y="183.0" font-size="8.2" text-anchor="end">60</text>
<line x1="490.5" y1="216.3" x2="494.9" y2="216.3" stroke="#666" stroke-width="0.85" />
<text x="487.0" y="219.20000000000002" font-size="8.2" text-anchor="end">40</text>
<line x1="490.5" y1="252.4" x2="494.9" y2="252.4" stroke="#666" stroke-width="0.85" />
<text x="487.0" y="255.3" font-size="8.2" text-anchor="end">20</text>
<line x1="490.5" y1="288.6" x2="494.9" y2="288.6" stroke="#666" stroke-width="0.85" />
<text x="487.0" y="291.5" font-size="8.2" text-anchor="end">0</text>
<line x1="490.5" y1="288.6" x2="568.6" y2="288.6" stroke="#666" stroke-width="0.85" />
<line x1="506.6" y1="288.6" x2="506.6" y2="292.70000000000005" stroke="#777" stroke-width="0.8" />
<line x1="523.2" y1="288.6" x2="523.2" y2="292.70000000000005" stroke="#777" stroke-width="0.8" />
<line x1="540.2" y1="288.6" x2="540.2" y2="292.70000000000005" stroke="#777" stroke-width="0.8" />
<line x1="557.0" y1="288.6" x2="557.0" y2="292.70000000000005" stroke="#777" stroke-width="0.8" />
<text x="506.6" y="303.0" font-size="6.35" text-anchor="middle" fill="#444">wt</text>
<text x="506.6" y="311.90000000000003" font-size="6.35" text-anchor="middle" fill="#444">GFP</text>
<text x="523.2" y="303.0" font-size="6.35" text-anchor="middle" fill="#444">wt</text>
<text x="523.2" y="311.90000000000003" font-size="6.35" text-anchor="middle" fill="#444">Irisin</text>
<text x="540.2" y="303.0" font-size="6.35" text-anchor="middle" fill="#444">Δtreg</text>
<text x="540.2" y="311.90000000000003" font-size="6.35" text-anchor="middle" fill="#444">GFP</text>
<text x="557.0" y="303.0" font-size="6.35" text-anchor="middle" fill="#444">Δtreg</text>
<text x="557.0" y="311.90000000000003" font-size="6.35" text-anchor="middle" fill="#444">Irisin</text>
<text transform="translate(470.5,233.8) rotate(-90)" font-size="8.6" text-anchor="middle" fill="#231f20" textLength="116.5" lengthAdjust="spacingAndGlyphs">% Foxp3-CD4<tspan font-size="6.0" dy="-3.3">+</tspan><tspan dy="3.3"> of TCRβ<tspan font-size="6.0" dy="-3.3">+</tspan><tspan dy="3.3"> cells</tspan></text>
<line x1="506.1" y1="207.8" x2="506.1" y2="228.2" stroke="#000000" stroke-width="0.9" stroke-opacity="0.8"/>
<line x1="503.6" y1="207.8" x2="508.6" y2="207.8" stroke="#000000" stroke-width="0.9" stroke-opacity="0.8"/>
<line x1="503.6" y1="228.2" x2="508.6" y2="228.2" stroke="#000000" stroke-width="0.9" stroke-opacity="0.8"/>
<line x1="500.6" y1="218" x2="511.6" y2="218" stroke="#000000" stroke-width="0.9" stroke-opacity="0.8"/>
<line x1="523.3" y1="195" x2="523.3" y2="212" stroke="#ff8000" stroke-width="0.9" stroke-opacity="0.5"/>
<line x1="520.8" y1="195" x2="525.8" y2="195" stroke="#ff8000" stroke-width="0.9" stroke-opacity="0.5"/>
<line x1="520.8" y1="212" x2="525.8" y2="212" stroke="#ff8000" stroke-width="0.9" stroke-opacity="0.5"/>
<line x1="517.8" y1="205.3" x2="528.8" y2="205.3" stroke="#ff8000" stroke-width="0.9" stroke-opacity="0.5"/>
<line x1="540" y1="190" x2="540" y2="210.3" stroke="#00bd00" stroke-width="0.9" stroke-opacity="0.5"/>
<line x1="537.5" y1="190" x2="542.5" y2="190" stroke="#00bd00" stroke-width="0.9" stroke-opacity="0.5"/>
<line x1="537.5" y1="210.3" x2="542.5" y2="210.3" stroke="#00bd00" stroke-width="0.9" stroke-opacity="0.5"/>
<line x1="534.5" y1="199.9" x2="545.5" y2="199.9" stroke="#00bd00" stroke-width="0.9" stroke-opacity="0.5"/>
<line x1="557" y1="203" x2="557" y2="211.2" stroke="#a000e0" stroke-width="0.9" stroke-opacity="0.5"/>
<line x1="554.5" y1="203" x2="559.5" y2="203" stroke="#a000e0" stroke-width="0.9" stroke-opacity="0.5"/>
<line x1="554.5" y1="211.2" x2="559.5" y2="211.2" stroke="#a000e0" stroke-width="0.9" stroke-opacity="0.5"/>
<line x1="551.5" y1="205" x2="562.5" y2="205" stroke="#a000e0" stroke-width="0.9" stroke-opacity="0.5"/>
<circle cx="506.1" cy="201.8" r="2.3" fill="#000000"/>
<circle cx="502.9" cy="214.6" r="2.3" fill="#000000"/>
<circle cx="506.1" cy="211.2" r="2.3" fill="#000000"/>
<circle cx="509.1" cy="215.2" r="2.3" fill="#000000"/>
<circle cx="504.6" cy="216.3" r="2.3" fill="#000000"/>
<circle cx="508" cy="213" r="2.3" fill="#000000"/>
<circle cx="504.6" cy="229.9" r="2.3" fill="#000000"/>
<circle cx="506.9" cy="229.3" r="2.3" fill="#000000"/>
<circle cx="506.1" cy="237.4" r="2.3" fill="#000000"/>
<circle cx="521.6" cy="194.2" r="2.3" fill="#ff8000"/>
<circle cx="525" cy="193.1" r="2.3" fill="#ff8000"/>
<circle cx="523.3" cy="195.9" r="2.3" fill="#ff8000"/>
<circle cx="519.9" cy="212.3" r="2.3" fill="#ff8000"/>
<circle cx="523.3" cy="211.4" r="2.3" fill="#ff8000"/>
<circle cx="526.7" cy="211.8" r="2.3" fill="#ff8000"/>
<circle cx="525" cy="214" r="2.3" fill="#ff8000"/>
<circle cx="536.6" cy="190.8" r="2.3" fill="#00bd00"/>
<circle cx="543.6" cy="189.1" r="2.3" fill="#00bd00"/>
<circle cx="536.6" cy="210.3" r="2.3" fill="#00bd00"/>
<circle cx="543.6" cy="209.5" r="2.3" fill="#00bd00"/>
<circle cx="553.3" cy="205" r="2.3" fill="#a000e0"/>
<circle cx="557" cy="203.8" r="2.3" fill="#a000e0"/>
<circle cx="561.2" cy="205" r="2.3" fill="#a000e0"/>
<circle cx="555" cy="204" r="2.3" fill="#a000e0"/>
<circle cx="557" cy="216.6" r="2.3" fill="#a000e0"/>
<line x1="610.5" y1="180.7" x2="610.5" y2="288.6" stroke="#666" stroke-width="0.85" />
<line x1="606.1" y1="180.7" x2="610.5" y2="180.7" stroke="#666" stroke-width="0.85" />
<text x="602.6" y="183.6" font-size="8.2" text-anchor="end">50</text>
<line x1="606.1" y1="202.3" x2="610.5" y2="202.3" stroke="#666" stroke-width="0.85" />
<text x="602.6" y="205.20000000000002" font-size="8.2" text-anchor="end">40</text>
<line x1="606.1" y1="223.8" x2="610.5" y2="223.8" stroke="#666" stroke-width="0.85" />
<text x="602.6" y="226.70000000000002" font-size="8.2" text-anchor="end">30</text>
<line x1="606.1" y1="245.4" x2="610.5" y2="245.4" stroke="#666" stroke-width="0.85" />
<text x="602.6" y="248.3" font-size="8.2" text-anchor="end">20</text>
<line x1="606.1" y1="267.0" x2="610.5" y2="267.0" stroke="#666" stroke-width="0.85" />
<text x="602.6" y="269.9" font-size="8.2" text-anchor="end">10</text>
<line x1="606.1" y1="288.6" x2="610.5" y2="288.6" stroke="#666" stroke-width="0.85" />
<text x="602.6" y="291.5" font-size="8.2" text-anchor="end">0</text>
<line x1="606.1" y1="288.6" x2="685" y2="288.6" stroke="#666" stroke-width="0.85" />
<line x1="621.9" y1="288.6" x2="621.9" y2="292.70000000000005" stroke="#777" stroke-width="0.8" />
<line x1="639.2" y1="288.6" x2="639.2" y2="292.70000000000005" stroke="#777" stroke-width="0.8" />
<line x1="656.0" y1="288.6" x2="656.0" y2="292.70000000000005" stroke="#777" stroke-width="0.8" />
<line x1="673.1" y1="288.6" x2="673.1" y2="292.70000000000005" stroke="#777" stroke-width="0.8" />
<text x="621.9" y="303.0" font-size="6.35" text-anchor="middle" fill="#444">wt</text>
<text x="621.9" y="311.90000000000003" font-size="6.35" text-anchor="middle" fill="#444">GFP</text>
<text x="639.2" y="303.0" font-size="6.35" text-anchor="middle" fill="#444">wt</text>
<text x="639.2" y="311.90000000000003" font-size="6.35" text-anchor="middle" fill="#444">Irisin</text>
<text x="656.0" y="303.0" font-size="6.35" text-anchor="middle" fill="#444">Δtreg</text>
<text x="656.0" y="311.90000000000003" font-size="6.35" text-anchor="middle" fill="#444">GFP</text>
<text x="673.1" y="303.0" font-size="6.35" text-anchor="middle" fill="#444">Δtreg</text>
<text x="673.1" y="311.90000000000003" font-size="6.35" text-anchor="middle" fill="#444">Irisin</text>
<text transform="translate(588.0,234.0) rotate(-90)" font-size="8.6" text-anchor="middle" fill="#231f20" textLength="66.4" lengthAdjust="spacingAndGlyphs">% IL-33 of mSCs</tspan></text>
<line x1="621.3" y1="227" x2="621.3" y2="244" stroke="#0a0a0a" stroke-width="0.9" stroke-opacity="0.5"/>
<line x1="618.8" y1="227" x2="623.8" y2="227" stroke="#0a0a0a" stroke-width="0.9" stroke-opacity="0.5"/>
<line x1="618.8" y1="244" x2="623.8" y2="244" stroke="#0a0a0a" stroke-width="0.9" stroke-opacity="0.5"/>
<line x1="615.8" y1="235.3" x2="626.8" y2="235.3" stroke="#0a0a0a" stroke-width="0.9" stroke-opacity="0.5"/>
<line x1="638.8" y1="204" x2="638.8" y2="218" stroke="#f28124" stroke-width="0.9" stroke-opacity="0.5"/>
<line x1="636.3" y1="204" x2="641.3" y2="204" stroke="#f28124" stroke-width="0.9" stroke-opacity="0.5"/>
<line x1="636.3" y1="218" x2="641.3" y2="218" stroke="#f28124" stroke-width="0.9" stroke-opacity="0.5"/>
<line x1="633.3" y1="209" x2="644.3" y2="209" stroke="#f28124" stroke-width="0.9" stroke-opacity="0.5"/>
<line x1="656.1" y1="247" x2="656.1" y2="252" stroke="#2fb030" stroke-width="0.9" stroke-opacity="0.5"/>
<line x1="653.6" y1="247" x2="658.6" y2="247" stroke="#2fb030" stroke-width="0.9" stroke-opacity="0.5"/>
<line x1="653.6" y1="252" x2="658.6" y2="252" stroke="#2fb030" stroke-width="0.9" stroke-opacity="0.5"/>
<line x1="650.6" y1="249.4" x2="661.6" y2="249.4" stroke="#2fb030" stroke-width="0.9" stroke-opacity="0.5"/>
<line x1="673" y1="211.9" x2="673" y2="232.1" stroke="#7b2fa0" stroke-width="0.9" stroke-opacity="0.25"/>
<line x1="670.5" y1="211.9" x2="675.5" y2="211.9" stroke="#7b2fa0" stroke-width="0.9" stroke-opacity="0.25"/>
<line x1="670.5" y1="232.1" x2="675.5" y2="232.1" stroke="#7b2fa0" stroke-width="0.9" stroke-opacity="0.25"/>
<line x1="667.5" y1="221.6" x2="678.5" y2="221.6" stroke="#7b2fa0" stroke-width="0.9" stroke-opacity="0.9"/>
<circle cx="622.6" cy="225.1" r="2.3" fill="#0a0a0a"/>
<circle cx="618.9" cy="227.2" r="2.3" fill="#0a0a0a"/>
<circle cx="619.7" cy="231.3" r="2.3" fill="#0a0a0a"/>
<circle cx="623" cy="230" r="2.3" fill="#0a0a0a"/>
<circle cx="618.1" cy="236.1" r="2.3" fill="#0a0a0a"/>
<circle cx="622.1" cy="236.1" r="2.3" fill="#0a0a0a"/>
<circle cx="625.4" cy="234.8" r="2.3" fill="#0a0a0a"/>
<circle cx="618.9" cy="239.4" r="2.3" fill="#0a0a0a"/>
<circle cx="621" cy="245" r="2.3" fill="#0a0a0a"/>
<circle cx="622.9" cy="244.2" r="2.3" fill="#0a0a0a"/>
<circle cx="620" cy="246.6" r="2.3" fill="#0a0a0a"/>
<circle cx="638.8" cy="193.3" r="2.3" fill="#f28124"/>
<circle cx="638.8" cy="198.9" r="2.3" fill="#f28124"/>
<circle cx="642.6" cy="200.2" r="2.3" fill="#f28124"/>
<circle cx="638.8" cy="204.1" r="2.3" fill="#f28124"/>
<circle cx="635" cy="210.3" r="2.3" fill="#f28124"/>
<circle cx="639.1" cy="209" r="2.3" fill="#f28124"/>
<circle cx="642.6" cy="210.6" r="2.3" fill="#f28124"/>
<circle cx="635" cy="218.7" r="2.3" fill="#f28124"/>
<circle cx="639.1" cy="218.3" r="2.3" fill="#f28124"/>
<circle cx="642.6" cy="218.3" r="2.3" fill="#f28124"/>
<circle cx="652.3" cy="247.4" r="2.3" fill="#2fb030"/>
<circle cx="659.8" cy="246.1" r="2.3" fill="#2fb030"/>
<circle cx="652.3" cy="253.1" r="2.3" fill="#2fb030"/>
<circle cx="659.8" cy="252" r="2.3" fill="#2fb030"/>
<circle cx="671.4" cy="212.7" r="2.3" fill="#7b2fa0"/>
<circle cx="675.5" cy="211.9" r="2.3" fill="#7b2fa0"/>
<circle cx="673" cy="215.9" r="2.3" fill="#7b2fa0"/>
<circle cx="669.5" cy="213.5" r="2.3" fill="#7b2fa0"/>
<circle cx="671.4" cy="229.3" r="2.3" fill="#7b2fa0"/>
<circle cx="673.8" cy="230.5" r="2.3" fill="#7b2fa0"/>
<circle cx="673" cy="239" r="2.3" fill="#7b2fa0"/>
<path d="M620.5,177.0 V174.7 H654.4 V177.0" fill="none" stroke="#666" stroke-width="0.75"/>
<polygon points="637.20,168.35 637.80,169.78 639.34,169.90 638.16,170.91 638.52,172.42 637.20,171.61 635.88,172.42 636.24,170.91 635.06,169.90 636.60,169.78" fill="#231f20"/>
<path d="M620.5,187.8 V185.5 H638.8 V187.8" fill="none" stroke="#666" stroke-width="0.75"/>
<polygon points="622.27,178.25 622.87,179.68 624.41,179.80 623.24,180.81 623.60,182.32 622.27,181.51 620.95,182.32 621.31,180.81 620.14,179.80 621.68,179.68" fill="#231f20"/>
<polygon points="627.02,178.25 627.62,179.68 629.16,179.80 627.99,180.81 628.35,182.32 627.02,181.51 625.70,182.32 626.06,180.81 624.89,179.80 626.43,179.68" fill="#231f20"/>
<polygon points="631.77,178.25 632.37,179.68 633.91,179.80 632.74,180.81 633.10,182.32 631.77,181.51 630.45,182.32 630.81,180.81 629.64,179.80 631.18,179.68" fill="#231f20"/>
<polygon points="636.52,178.25 637.12,179.68 638.66,179.80 637.49,180.81 637.85,182.32 636.52,181.51 635.20,182.32 635.56,180.81 634.39,179.80 635.93,179.68" fill="#231f20"/>
<path d="M638.8,187.8 V185.5 H673.0 V187.8" fill="none" stroke="#666" stroke-width="0.75"/>
<polygon points="656.50,178.25 657.10,179.68 658.64,179.80 657.46,180.81 657.82,182.32 656.50,181.51 655.18,182.32 655.54,180.81 654.36,179.80 655.90,179.68" fill="#231f20"/>
<line x1="304.0" y1="434.5" x2="304.0" y2="532.0" stroke="#666" stroke-width="0.85" />
<line x1="298.3" y1="532.0" x2="304.0" y2="532.0" stroke="#666" stroke-width="0.8" />
<line x1="301.0" y1="524.9" x2="304.0" y2="524.9" stroke="#666" stroke-width="0.8" />
<line x1="301.0" y1="517.8" x2="304.0" y2="517.8" stroke="#666" stroke-width="0.8" />
<line x1="301.0" y1="510.7" x2="304.0" y2="510.7" stroke="#666" stroke-width="0.8" />
<line x1="301.0" y1="503.6" x2="304.0" y2="503.6" stroke="#666" stroke-width="0.8" />
<line x1="298.3" y1="496.5" x2="304.0" y2="496.5" stroke="#666" stroke-width="0.8" />
<line x1="301.0" y1="489.4" x2="304.0" y2="489.4" stroke="#666" stroke-width="0.8" />
<line x1="301.0" y1="482.3" x2="304.0" y2="482.3" stroke="#666" stroke-width="0.8" />
<line x1="301.0" y1="475.2" x2="304.0" y2="475.2" stroke="#666" stroke-width="0.8" />
<line x1="301.0" y1="468.1" x2="304.0" y2="468.1" stroke="#666" stroke-width="0.8" />
<line x1="298.3" y1="461.0" x2="304.0" y2="461.0" stroke="#666" stroke-width="0.8" />
<line x1="301.0" y1="453.9" x2="304.0" y2="453.9" stroke="#666" stroke-width="0.8" />
<line x1="301.0" y1="446.8" x2="304.0" y2="446.8" stroke="#666" stroke-width="0.8" />
<line x1="301.0" y1="439.7" x2="304.0" y2="439.7" stroke="#666" stroke-width="0.8" />
<text x="295.8" y="534.8" font-size="7.8" text-anchor="end">0</text>
<text x="295.8" y="499.3" font-size="7.8" text-anchor="end">2</text>
<text x="295.8" y="463.8" font-size="7.8" text-anchor="end">4</text>
<line x1="304.0" y1="399.5" x2="304.0" y2="423.5" stroke="#666" stroke-width="0.85" />
<line x1="301.7" y1="399.8" x2="304.0" y2="399.8" stroke="#666" stroke-width="0.7" />
<line x1="301.7" y1="401.74" x2="304.0" y2="401.74" stroke="#666" stroke-width="0.7" />
<line x1="301.7" y1="403.68" x2="304.0" y2="403.68" stroke="#666" stroke-width="0.7" />
<line x1="301.7" y1="405.62" x2="304.0" y2="405.62" stroke="#666" stroke-width="0.7" />
<line x1="301.7" y1="407.56" x2="304.0" y2="407.56" stroke="#666" stroke-width="0.7" />
<line x1="301.7" y1="409.5" x2="304.0" y2="409.5" stroke="#666" stroke-width="0.7" />
<line x1="301.7" y1="411.44" x2="304.0" y2="411.44" stroke="#666" stroke-width="0.7" />
<line x1="301.7" y1="413.38" x2="304.0" y2="413.38" stroke="#666" stroke-width="0.7" />
<line x1="301.7" y1="415.32" x2="304.0" y2="415.32" stroke="#666" stroke-width="0.7" />
<line x1="301.7" y1="417.26" x2="304.0" y2="417.26" stroke="#666" stroke-width="0.7" />
<line x1="301.7" y1="419.2" x2="304.0" y2="419.2" stroke="#666" stroke-width="0.7" />
<line x1="301.7" y1="421.14" x2="304.0" y2="421.14" stroke="#666" stroke-width="0.7" />
<line x1="301.7" y1="423.08000000000004" x2="304.0" y2="423.08000000000004" stroke="#666" stroke-width="0.7" />
<line x1="297.8" y1="405.3" x2="304.0" y2="405.3" stroke="#666" stroke-width="0.8" />
<text x="295.0" y="408.1" font-size="7.8" text-anchor="end">15</text>
<line x1="297.8" y1="415.0" x2="304.0" y2="415.0" stroke="#666" stroke-width="0.8" />
<text x="295.0" y="417.8" font-size="7.8" text-anchor="end">10</text>
<line x1="300.4" y1="427.0" x2="308.2" y2="420.2" stroke="#666" stroke-width="0.8" />
<line x1="300.4" y1="437.0" x2="308.2" y2="430.2" stroke="#666" stroke-width="0.8" />
<text transform="translate(280.3,465.3) rotate(-90)" font-size="8.6" text-anchor="middle" fill="#231f20" textLength="78.5" lengthAdjust="spacingAndGlyphs">mRNA, fold change</text>
<line x1="304.0" y1="532.0" x2="639.6" y2="532.0" stroke="#666" stroke-width="0.85" />
<line x1="312.4" y1="532.0" x2="312.4" y2="537.0" stroke="#666" stroke-width="0.8" />
<text transform="translate(315.4,544.6) rotate(-45)" font-size="7.4" text-anchor="end" fill="#231f20">Fabp4</text>
<line x1="331.4" y1="532.0" x2="331.4" y2="537.0" stroke="#666" stroke-width="0.8" />
<text transform="translate(334.4,544.6) rotate(-45)" font-size="7.4" text-anchor="end" fill="#231f20">Pparg</text>
<line x1="349.8" y1="532.0" x2="349.8" y2="537.0" stroke="#666" stroke-width="0.8" />
<text transform="translate(352.8,544.6) rotate(-45)" font-size="7.4" text-anchor="end" fill="#231f20">Ppargc1a</text>
<line x1="368.5" y1="532.0" x2="368.5" y2="537.0" stroke="#666" stroke-width="0.8" />
<text transform="translate(371.5,544.6) rotate(-45)" font-size="7.4" text-anchor="end" fill="#231f20">Prdm16</text>
<line x1="387.3" y1="532.0" x2="387.3" y2="537.0" stroke="#666" stroke-width="0.8" />
<text transform="translate(390.3,544.6) rotate(-45)" font-size="7.4" text-anchor="end" fill="#231f20">Adipoq</text>
<line x1="406.0" y1="532.0" x2="406.0" y2="537.0" stroke="#666" stroke-width="0.8" />
<text transform="translate(409.0,544.6) rotate(-45)" font-size="7.4" text-anchor="end" fill="#231f20">Ucp1</text>
<line x1="424.7" y1="532.0" x2="424.7" y2="537.0" stroke="#666" stroke-width="0.8" />
<text transform="translate(427.7,544.6) rotate(-45)" font-size="7.4" text-anchor="end" fill="#231f20">Lep</text>
<line x1="443.2" y1="532.0" x2="443.2" y2="537.0" stroke="#666" stroke-width="0.8" />
<text transform="translate(446.2,544.6) rotate(-45)" font-size="7.4" text-anchor="end" fill="#231f20">Ckb</text>
<line x1="462.2" y1="532.0" x2="462.2" y2="537.0" stroke="#666" stroke-width="0.8" />
<text transform="translate(465.2,544.6) rotate(-45)" font-size="7.4" text-anchor="end" fill="#231f20">Alpl</text>
<line x1="480.7" y1="532.0" x2="480.7" y2="537.0" stroke="#666" stroke-width="0.8" />
<text transform="translate(483.7,544.6) rotate(-45)" font-size="7.4" text-anchor="end" fill="#231f20">Gatm</text>
<line x1="499.4" y1="532.0" x2="499.4" y2="537.0" stroke="#666" stroke-width="0.8" />
<text transform="translate(502.4,544.6) rotate(-45)" font-size="7.4" text-anchor="end" fill="#231f20">Enpp1</text>
<line x1="518.2" y1="532.0" x2="518.2" y2="537.0" stroke="#666" stroke-width="0.8" />
<text transform="translate(521.2,544.6) rotate(-45)" font-size="7.4" text-anchor="end" fill="#231f20">Phospho1</text>
<line x1="537.0" y1="532.0" x2="537.0" y2="537.0" stroke="#666" stroke-width="0.8" />
<text transform="translate(540.0,544.6) rotate(-45)" font-size="7.4" text-anchor="end" fill="#231f20">Slc6a8</text>
<line x1="555.6" y1="532.0" x2="555.6" y2="537.0" stroke="#666" stroke-width="0.8" />
<text transform="translate(558.6,544.6) rotate(-45)" font-size="7.4" text-anchor="end" fill="#231f20">Ckm</text>
<line x1="574.3" y1="532.0" x2="574.3" y2="537.0" stroke="#666" stroke-width="0.8" />
<text transform="translate(577.3,544.6) rotate(-45)" font-size="7.4" text-anchor="end" fill="#231f20">Dio2</text>
<line x1="593.0" y1="532.0" x2="593.0" y2="537.0" stroke="#666" stroke-width="0.8" />
<text transform="translate(596.0,544.6) rotate(-45)" font-size="7.4" text-anchor="end" fill="#231f20">Elovl3</text>
<line x1="611.7" y1="532.0" x2="611.7" y2="537.0" stroke="#666" stroke-width="0.8" />
<text transform="translate(614.7,544.6) rotate(-45)" font-size="7.4" text-anchor="end" fill="#231f20">Cox8b</text>
<line x1="630.4" y1="532.0" x2="630.4" y2="537.0" stroke="#666" stroke-width="0.8" />
<text transform="translate(633.4,544.6) rotate(-45)" font-size="7.4" text-anchor="end" fill="#231f20">Cidea</text>
<line x1="306.29999999999995" y1="508" x2="306.29999999999995" y2="510" stroke="#000000" stroke-width="1.0" />
<rect x="304.95" y="510" width="2.7" height="22.00" fill="#000000"/>
<line x1="310.4" y1="506" x2="310.4" y2="507.3" stroke="#ff8000" stroke-width="1.0" />
<rect x="309.05" y="507.3" width="2.7" height="24.70" fill="#ff8000"/>
<line x1="314.5" y1="515" x2="314.5" y2="518" stroke="#00b800" stroke-width="1.0" />
<rect x="313.15" y="518" width="2.7" height="14.00" fill="#00b800"/>
<line x1="318.59999999999997" y1="505" x2="318.59999999999997" y2="507.3" stroke="#a000e0" stroke-width="1.0" />
<rect x="317.25" y="507.3" width="2.7" height="24.70" fill="#a000e0"/>
<line x1="325.29999999999995" y1="507" x2="325.29999999999995" y2="509" stroke="#000000" stroke-width="1.0" />
<rect x="323.95" y="509" width="2.7" height="23.00" fill="#000000"/>
<line x1="329.4" y1="496" x2="329.4" y2="497.1" stroke="#ff8000" stroke-width="1.0" />
<rect x="328.05" y="497.1" width="2.7" height="34.90" fill="#ff8000"/>
<line x1="333.5" y1="514" x2="333.5" y2="523" stroke="#00b800" stroke-width="1.0" />
<rect x="332.15" y="523" width="2.7" height="9.00" fill="#00b800"/>
<line x1="337.59999999999997" y1="504" x2="337.59999999999997" y2="505" stroke="#a000e0" stroke-width="1.0" />
<rect x="336.25" y="505" width="2.7" height="27.00" fill="#a000e0"/>
<line x1="343.7" y1="505" x2="343.7" y2="510.7" stroke="#000000" stroke-width="1.0" />
<rect x="342.35" y="510.7" width="2.7" height="21.30" fill="#000000"/>
<line x1="347.8" y1="473" x2="347.8" y2="484.7" stroke="#ff8000" stroke-width="1.0" />
<rect x="346.45" y="484.7" width="2.7" height="47.30" fill="#ff8000"/>
<line x1="351.90000000000003" y1="513" x2="351.90000000000003" y2="515.2" stroke="#00b800" stroke-width="1.0" />
<rect x="350.55" y="515.2" width="2.7" height="16.80" fill="#00b800"/>
<line x1="356.0" y1="484" x2="356.0" y2="492.6" stroke="#a000e0" stroke-width="1.0" />
<rect x="354.65" y="492.6" width="2.7" height="39.40" fill="#a000e0"/>
<line x1="362.4" y1="505" x2="362.4" y2="506.2" stroke="#000000" stroke-width="1.0" />
<rect x="361.05" y="506.2" width="2.7" height="25.80" fill="#000000"/>
<line x1="366.5" y1="505" x2="366.5" y2="518" stroke="#ff8000" stroke-width="1.0" />
<rect x="365.15" y="518" width="2.7" height="14.00" fill="#ff8000"/>
<line x1="370.6" y1="518" x2="370.6" y2="520.9" stroke="#00b800" stroke-width="1.0" />
<rect x="369.25" y="520.9" width="2.7" height="11.10" fill="#00b800"/>
<line x1="374.7" y1="509" x2="374.7" y2="514.1" stroke="#a000e0" stroke-width="1.0" />
<rect x="373.35" y="514.1" width="2.7" height="17.90" fill="#a000e0"/>
<line x1="381.2" y1="503" x2="381.2" y2="503.9" stroke="#000000" stroke-width="1.0" />
<rect x="379.85" y="503.9" width="2.7" height="28.10" fill="#000000"/>
<line x1="385.3" y1="510" x2="385.3" y2="512.4" stroke="#ff8000" stroke-width="1.0" />
<rect x="383.95" y="512.4" width="2.7" height="19.60" fill="#ff8000"/>
<line x1="389.40000000000003" y1="506.2" x2="389.40000000000003" y2="523.1" stroke="#00b800" stroke-width="1.0" />
<rect x="388.05" y="523.1" width="2.7" height="8.90" fill="#00b800"/>
<line x1="393.5" y1="508" x2="393.5" y2="510.7" stroke="#a000e0" stroke-width="1.0" />
<rect x="392.15" y="510.7" width="2.7" height="21.30" fill="#a000e0"/>
<line x1="399.9" y1="503.4" x2="399.9" y2="507.3" stroke="#000000" stroke-width="1.0" />
<rect x="398.55" y="507.3" width="2.7" height="24.70" fill="#000000"/>
<line x1="404.0" y1="421" x2="404.0" y2="481.3" stroke="#ff8000" stroke-width="1.0" />
<rect x="402.65" y="481.3" width="2.7" height="50.70" fill="#ff8000"/>
<line x1="408.1" y1="515" x2="408.1" y2="517.5" stroke="#00b800" stroke-width="1.0" />
<rect x="406.75" y="517.5" width="2.7" height="14.50" fill="#00b800"/>
<line x1="412.2" y1="493.2" x2="412.2" y2="509.6" stroke="#a000e0" stroke-width="1.0" />
<rect x="410.85" y="509.6" width="2.7" height="22.40" fill="#a000e0"/>
<line x1="418.59999999999997" y1="505" x2="418.59999999999997" y2="509.6" stroke="#000000" stroke-width="1.0" />
<rect x="417.25" y="509.6" width="2.7" height="22.40" fill="#000000"/>
<line x1="422.7" y1="483" x2="422.7" y2="503" stroke="#ff8000" stroke-width="1.0" />
<rect x="421.35" y="503" width="2.7" height="29.00" fill="#ff8000"/>
<line x1="426.8" y1="514" x2="426.8" y2="516.8" stroke="#00b800" stroke-width="1.0" />
<rect x="425.45" y="516.8" width="2.7" height="15.20" fill="#00b800"/>
<line x1="430.9" y1="512" x2="430.9" y2="514.7" stroke="#a000e0" stroke-width="1.0" />
<rect x="429.55" y="514.7" width="2.7" height="17.30" fill="#a000e0"/>
<line x1="437.09999999999997" y1="505" x2="437.09999999999997" y2="507.8" stroke="#000000" stroke-width="1.0" />
<rect x="435.75" y="507.8" width="2.7" height="24.20" fill="#000000"/>
<line x1="441.2" y1="468" x2="441.2" y2="485.2" stroke="#ff8000" stroke-width="1.0" />
<rect x="439.85" y="485.2" width="2.7" height="46.80" fill="#ff8000"/>
<line x1="445.3" y1="520" x2="445.3" y2="522.3" stroke="#00b800" stroke-width="1.0" />
<rect x="443.95" y="522.3" width="2.7" height="9.70" fill="#00b800"/>
<line x1="449.4" y1="479.7" x2="449.4" y2="496.2" stroke="#a000e0" stroke-width="1.0" />
<rect x="448.05" y="496.2" width="2.7" height="35.80" fill="#a000e0"/>
<line x1="456.09999999999997" y1="505" x2="456.09999999999997" y2="507.8" stroke="#000000" stroke-width="1.0" />
<rect x="454.75" y="507.8" width="2.7" height="24.20" fill="#000000"/>
<line x1="460.2" y1="478" x2="460.2" y2="491.4" stroke="#ff8000" stroke-width="1.0" />
<rect x="458.85" y="491.4" width="2.7" height="40.60" fill="#ff8000"/>
<line x1="464.3" y1="512" x2="464.3" y2="514.7" stroke="#00b800" stroke-width="1.0" />
<rect x="462.95" y="514.7" width="2.7" height="17.30" fill="#00b800"/>
<line x1="468.4" y1="480" x2="468.4" y2="490.7" stroke="#a000e0" stroke-width="1.0" />
<rect x="467.05" y="490.7" width="2.7" height="41.30" fill="#a000e0"/>
<line x1="474.59999999999997" y1="507" x2="474.59999999999997" y2="509.9" stroke="#000000" stroke-width="1.0" />
<rect x="473.25" y="509.9" width="2.7" height="22.10" fill="#000000"/>
<line x1="478.7" y1="503" x2="478.7" y2="507.8" stroke="#ff8000" stroke-width="1.0" />
<rect x="477.35" y="507.8" width="2.7" height="24.20" fill="#ff8000"/>
<line x1="482.8" y1="516" x2="482.8" y2="518.1" stroke="#00b800" stroke-width="1.0" />
<rect x="481.45" y="518.1" width="2.7" height="13.90" fill="#00b800"/>
<line x1="486.9" y1="508" x2="486.9" y2="512.6" stroke="#a000e0" stroke-width="1.0" />
<rect x="485.55" y="512.6" width="2.7" height="19.40" fill="#a000e0"/>
<line x1="493.29999999999995" y1="499" x2="493.29999999999995" y2="504.4" stroke="#000000" stroke-width="1.0" />
<rect x="491.95" y="504.4" width="2.7" height="27.60" fill="#000000"/>
<line x1="497.4" y1="491.4" x2="497.4" y2="511.3" stroke="#ff8000" stroke-width="1.0" />
<rect x="496.05" y="511.3" width="2.7" height="20.70" fill="#ff8000"/>
<line x1="501.5" y1="498.9" x2="501.5" y2="520.9" stroke="#00b800" stroke-width="1.0" />
<rect x="500.15" y="520.9" width="2.7" height="11.10" fill="#00b800"/>
<line x1="505.59999999999997" y1="508" x2="505.59999999999997" y2="516" stroke="#a000e0" stroke-width="1.0" />
<rect x="504.25" y="516" width="2.7" height="16.00" fill="#a000e0"/>
<line x1="512.1" y1="502" x2="512.1" y2="504.4" stroke="#000000" stroke-width="1.0" />
<rect x="510.75" y="504.4" width="2.7" height="27.60" fill="#000000"/>
<line x1="516.2" y1="490" x2="516.2" y2="501" stroke="#ff8000" stroke-width="1.0" />
<rect x="514.85" y="501" width="2.7" height="31.00" fill="#ff8000"/>
<line x1="520.3000000000001" y1="520" x2="520.3000000000001" y2="522.2" stroke="#00b800" stroke-width="1.0" />
<rect x="518.95" y="522.2" width="2.7" height="9.80" fill="#00b800"/>
<line x1="524.4000000000001" y1="503" x2="524.4000000000001" y2="507.8" stroke="#a000e0" stroke-width="1.0" />
<rect x="523.05" y="507.8" width="2.7" height="24.20" fill="#a000e0"/>
<line x1="530.9" y1="504" x2="530.9" y2="506.5" stroke="#000000" stroke-width="1.0" />
<rect x="529.55" y="506.5" width="2.7" height="25.50" fill="#000000"/>
<line x1="535.0" y1="503" x2="535.0" y2="507.1" stroke="#ff8000" stroke-width="1.0" />
<rect x="533.65" y="507.1" width="2.7" height="24.90" fill="#ff8000"/>
<line x1="539.1" y1="496.9" x2="539.1" y2="510.6" stroke="#00b800" stroke-width="1.0" />
<rect x="537.75" y="510.6" width="2.7" height="21.40" fill="#00b800"/>
<line x1="543.2" y1="510" x2="543.2" y2="514" stroke="#a000e0" stroke-width="1.0" />
<rect x="541.85" y="514" width="2.7" height="18.00" fill="#a000e0"/>
<line x1="549.5" y1="508" x2="549.5" y2="510" stroke="#000000" stroke-width="1.0" />
<rect x="548.15" y="510" width="2.7" height="22.00" fill="#000000"/>
<line x1="553.6" y1="512" x2="553.6" y2="516.5" stroke="#ff8000" stroke-width="1.0" />
<rect x="552.25" y="516.5" width="2.7" height="15.50" fill="#ff8000"/>
<line x1="557.7" y1="484.3" x2="557.7" y2="505" stroke="#00b800" stroke-width="1.0" />
<rect x="556.35" y="505" width="2.7" height="27.00" fill="#00b800"/>
<line x1="561.8000000000001" y1="510" x2="561.8000000000001" y2="514" stroke="#a000e0" stroke-width="1.0" />
<rect x="560.45" y="514" width="2.7" height="18.00" fill="#a000e0"/>
<line x1="568.1999999999999" y1="504" x2="568.1999999999999" y2="508" stroke="#000000" stroke-width="1.0" />
<rect x="566.85" y="508" width="2.7" height="24.00" fill="#000000"/>
<line x1="572.3" y1="458" x2="572.3" y2="492.3" stroke="#ff8000" stroke-width="1.0" />
<rect x="570.95" y="492.3" width="2.7" height="39.70" fill="#ff8000"/>
<line x1="576.4" y1="466.6" x2="576.4" y2="505" stroke="#00b800" stroke-width="1.0" />
<rect x="575.05" y="505" width="2.7" height="27.00" fill="#00b800"/>
<line x1="580.5" y1="500" x2="580.5" y2="514" stroke="#a000e0" stroke-width="1.0" />
<rect x="579.15" y="514" width="2.7" height="18.00" fill="#a000e0"/>
<line x1="586.9" y1="500" x2="586.9" y2="508" stroke="#000000" stroke-width="1.0" />
<rect x="585.55" y="508" width="2.7" height="24.00" fill="#000000"/>
<line x1="591.0" y1="421.8" x2="591.0" y2="435.7" stroke="#ff8000" stroke-width="1.0" />
<rect x="589.65" y="435.7" width="2.7" height="96.30" fill="#ff8000"/>
<line x1="595.1" y1="461.2" x2="595.1" y2="505" stroke="#00b800" stroke-width="1.0" />
<rect x="593.75" y="505" width="2.7" height="27.00" fill="#00b800"/>
<line x1="599.2" y1="505" x2="599.2" y2="512" stroke="#a000e0" stroke-width="1.0" />
<rect x="597.85" y="512" width="2.7" height="20.00" fill="#a000e0"/>
<line x1="605.6" y1="502" x2="605.6" y2="508" stroke="#000000" stroke-width="1.0" />
<rect x="604.25" y="508" width="2.7" height="24.00" fill="#000000"/>
<line x1="609.7" y1="456.3" x2="609.7" y2="495.6" stroke="#ff8000" stroke-width="1.0" />
<rect x="608.35" y="495.6" width="2.7" height="36.40" fill="#ff8000"/>
<line x1="613.8000000000001" y1="497" x2="613.8000000000001" y2="505" stroke="#00b800" stroke-width="1.0" />
<rect x="612.45" y="505" width="2.7" height="27.00" fill="#00b800"/>
<line x1="617.9000000000001" y1="472" x2="617.9000000000001" y2="492.3" stroke="#a000e0" stroke-width="1.0" />
<rect x="616.55" y="492.3" width="2.7" height="39.70" fill="#a000e0"/>
<line x1="624.3" y1="496" x2="624.3" y2="510" stroke="#000000" stroke-width="1.0" />
<rect x="622.95" y="510" width="2.7" height="22.00" fill="#000000"/>
<line x1="628.4" y1="503" x2="628.4" y2="518" stroke="#ff8000" stroke-width="1.0" />
<rect x="627.05" y="518" width="2.7" height="14.00" fill="#ff8000"/>
<line x1="632.5" y1="497" x2="632.5" y2="513" stroke="#00b800" stroke-width="1.0" />
<rect x="631.15" y="513" width="2.7" height="19.00" fill="#00b800"/>
<line x1="636.6" y1="454.7" x2="636.6" y2="500.4" stroke="#a000e0" stroke-width="1.0" />
<rect x="635.25" y="500.4" width="2.7" height="31.60" fill="#a000e0"/>
<circle cx="306.05824005044263" cy="509.5" r="2.1" fill="none" stroke="#000000" stroke-width="1.05"/>
<circle cx="305.50439806459445" cy="513" r="2.1" fill="none" stroke="#000000" stroke-width="1.05"/>
<circle cx="306.3133843197409" cy="516.5" r="2.1" fill="none" stroke="#000000" stroke-width="1.05"/>
<circle cx="305.4674921851955" cy="520" r="2.1" fill="none" stroke="#000000" stroke-width="1.05"/>
<circle cx="306.1805622305923" cy="509.47719863559956" r="2.1" fill="none" stroke="#000000" stroke-width="1.05"/>
<circle cx="305.5257397624343" cy="511.86203801741885" r="2.1" fill="none" stroke="#000000" stroke-width="1.05"/>
<circle cx="305.5632834240189" cy="515.8622427352957" r="2.1" fill="none" stroke="#000000" stroke-width="1.05"/>
<circle cx="306.1641345404565" cy="517.2738470880021" r="2.1" fill="none" stroke="#000000" stroke-width="1.05"/>
<circle cx="306.88833382440964" cy="521.1861168103361" r="2.1" fill="none" stroke="#000000" stroke-width="1.05"/>
<circle cx="311.20587609642257" cy="506.2" r="2.1" fill="none" stroke="#ff8000" stroke-width="1.05"/>
<circle cx="310.5387853075115" cy="511" r="2.1" fill="none" stroke="#ff8000" stroke-width="1.05"/>
<circle cx="310.21402485437136" cy="516" r="2.1" fill="none" stroke="#ff8000" stroke-width="1.05"/>
<circle cx="311.25725919006726" cy="521" r="2.1" fill="none" stroke="#ff8000" stroke-width="1.05"/>
<circle cx="309.58384882511194" cy="507.23045804009246" r="2.1" fill="none" stroke="#ff8000" stroke-width="1.05"/>
<circle cx="311.0452432262876" cy="512.1357735150568" r="2.1" fill="none" stroke="#ff8000" stroke-width="1.05"/>
<circle cx="310.021296715397" cy="517.7725064004401" r="2.1" fill="none" stroke="#ff8000" stroke-width="1.05"/>
<circle cx="315.06902744641604" cy="516.3" r="2.1" fill="none" stroke="#00b800" stroke-width="1.05"/>
<circle cx="313.9253074838631" cy="519.7" r="2.1" fill="none" stroke="#00b800" stroke-width="1.05"/>
<circle cx="314.64688029459245" cy="525.9" r="2.1" fill="none" stroke="#00b800" stroke-width="1.05"/>
<circle cx="314.7500442440671" cy="527.6" r="2.1" fill="none" stroke="#00b800" stroke-width="1.05"/>
<circle cx="314.27031557690634" cy="517.4795455333913" r="2.1" fill="none" stroke="#00b800" stroke-width="1.05"/>
<circle cx="314.5859400382772" cy="521.0827013713881" r="2.1" fill="none" stroke="#00b800" stroke-width="1.05"/>
<circle cx="313.713020154952" cy="525.2070230445113" r="2.1" fill="none" stroke="#00b800" stroke-width="1.05"/>
<circle cx="318.4696661502049" cy="506.2" r="2.1" fill="none" stroke="#a000e0" stroke-width="1.05"/>
<circle cx="318.2654649066782" cy="509" r="2.1" fill="none" stroke="#a000e0" stroke-width="1.05"/>
<circle cx="318.7540113543137" cy="511.8" r="2.1" fill="none" stroke="#a000e0" stroke-width="1.05"/>
<circle cx="318.5157318774674" cy="515.2" r="2.1" fill="none" stroke="#a000e0" stroke-width="1.05"/>
<circle cx="318.2395805943546" cy="518.6" r="2.1" fill="none" stroke="#a000e0" stroke-width="1.05"/>
<circle cx="319.12988306674043" cy="507.0763761412523" r="2.1" fill="none" stroke="#a000e0" stroke-width="1.05"/>
<circle cx="318.9581899807132" cy="512.0943009107664" r="2.1" fill="none" stroke="#a000e0" stroke-width="1.05"/>
<circle cx="318.13937371929984" cy="517.899626602303" r="2.1" fill="none" stroke="#a000e0" stroke-width="1.05"/>
<circle cx="326.1643147254866" cy="509.5" r="2.1" fill="none" stroke="#000000" stroke-width="1.05"/>
<circle cx="324.6125184008589" cy="513" r="2.1" fill="none" stroke="#000000" stroke-width="1.05"/>
<circle cx="325.15262107921336" cy="516" r="2.1" fill="none" stroke="#000000" stroke-width="1.05"/>
<circle cx="325.7628536732174" cy="519.7" r="2.1" fill="none" stroke="#000000" stroke-width="1.05"/>
<circle cx="324.67357216238884" cy="509.0786169046208" r="2.1" fill="none" stroke="#000000" stroke-width="1.05"/>
<circle cx="325.2801335808564" cy="511.7604716091475" r="2.1" fill="none" stroke="#000000" stroke-width="1.05"/>
<circle cx="324.47057306268533" cy="515.4003299893762" r="2.1" fill="none" stroke="#000000" stroke-width="1.05"/>
<circle cx="325.60278854176187" cy="517.8506686946541" r="2.1" fill="none" stroke="#000000" stroke-width="1.05"/>
<circle cx="325.77622755918304" cy="519.5910506357365" r="2.1" fill="none" stroke="#000000" stroke-width="1.05"/>
<circle cx="329.75153165929254" cy="498.8" r="2.1" fill="none" stroke="#ff8000" stroke-width="1.05"/>
<circle cx="329.569865778789" cy="501.6" r="2.1" fill="none" stroke="#ff8000" stroke-width="1.05"/>
<circle cx="329.5438113677085" cy="503.9" r="2.1" fill="none" stroke="#ff8000" stroke-width="1.05"/>
<circle cx="329.32116959634254" cy="498.1085955899991" r="2.1" fill="none" stroke="#ff8000" stroke-width="1.05"/>
<circle cx="330.01194200492256" cy="503.50114674839415" r="2.1" fill="none" stroke="#ff8000" stroke-width="1.05"/>
<circle cx="330.20042597119425" cy="506.8196606975021" r="2.1" fill="none" stroke="#ff8000" stroke-width="1.05"/>
<circle cx="333.86268563834795" cy="515.8" r="2.1" fill="none" stroke="#00b800" stroke-width="1.05"/>
<circle cx="333.7648319381498" cy="522" r="2.1" fill="none" stroke="#00b800" stroke-width="1.05"/>
<circle cx="334.38757269103996" cy="526.5" r="2.1" fill="none" stroke="#00b800" stroke-width="1.05"/>
<circle cx="334.0794646158975" cy="528.8" r="2.1" fill="none" stroke="#00b800" stroke-width="1.05"/>
<circle cx="333.11227195776945" cy="522.4378360098071" r="2.1" fill="none" stroke="#00b800" stroke-width="1.05"/>
<circle cx="333.2944245964041" cy="524.8939652931392" r="2.1" fill="none" stroke="#00b800" stroke-width="1.05"/>
<circle cx="333.8035748885915" cy="525.4456066262334" r="2.1" fill="none" stroke="#00b800" stroke-width="1.05"/>
<circle cx="336.9107724300671" cy="506.2" r="2.1" fill="none" stroke="#a000e0" stroke-width="1.05"/>
<circle cx="336.8061179547963" cy="509.5" r="2.1" fill="none" stroke="#a000e0" stroke-width="1.05"/>
<circle cx="338.0828193792505" cy="518.6" r="2.1" fill="none" stroke="#a000e0" stroke-width="1.05"/>
<circle cx="336.9328123996336" cy="504.6874843606667" r="2.1" fill="none" stroke="#a000e0" stroke-width="1.05"/>
<circle cx="337.1457067006544" cy="510.40806868711945" r="2.1" fill="none" stroke="#a000e0" stroke-width="1.05"/>
<circle cx="337.4037094656398" cy="514.3699827760423" r="2.1" fill="none" stroke="#a000e0" stroke-width="1.05"/>
<circle cx="344.2747037081043" cy="499.4" r="2.1" fill="none" stroke="#000000" stroke-width="1.05"/>
<circle cx="344.3551720454573" cy="502.2" r="2.1" fill="none" stroke="#000000" stroke-width="1.05"/>
<circle cx="343.301157916125" cy="512.9" r="2.1" fill="none" stroke="#000000" stroke-width="1.05"/>
<circle cx="343.54753373098106" cy="517.5" r="2.1" fill="none" stroke="#000000" stroke-width="1.05"/>
<circle cx="343.4457880975969" cy="522" r="2.1" fill="none" stroke="#000000" stroke-width="1.05"/>
<circle cx="344.39154708895677" cy="511.4914127379031" r="2.1" fill="none" stroke="#000000" stroke-width="1.05"/>
<circle cx="344.52391616713516" cy="512.3933951228803" r="2.1" fill="none" stroke="#000000" stroke-width="1.05"/>
<circle cx="343.071657630424" cy="516.0780497622784" r="2.1" fill="none" stroke="#000000" stroke-width="1.05"/>
<circle cx="343.11719191128265" cy="519.1186557819457" r="2.1" fill="none" stroke="#000000" stroke-width="1.05"/>
<circle cx="343.21752236027515" cy="522.7201211834596" r="2.1" fill="none" stroke="#000000" stroke-width="1.05"/>
<circle cx="347.77293291461444" cy="473.4" r="2.1" fill="none" stroke="#ff8000" stroke-width="1.05"/>
<circle cx="347.96042230671804" cy="476.2" r="2.1" fill="none" stroke="#ff8000" stroke-width="1.05"/>
<circle cx="347.3729439147374" cy="485" r="2.1" fill="none" stroke="#ff8000" stroke-width="1.05"/>
<circle cx="346.9073684860931" cy="490" r="2.1" fill="none" stroke="#ff8000" stroke-width="1.05"/>
<circle cx="347.6541037020256" cy="489.5600066008341" r="2.1" fill="none" stroke="#ff8000" stroke-width="1.05"/>
<circle cx="352.2428885828448" cy="514.1" r="2.1" fill="none" stroke="#00b800" stroke-width="1.05"/>
<circle cx="351.9278845795274" cy="518.6" r="2.1" fill="none" stroke="#00b800" stroke-width="1.05"/>
<circle cx="352.1116669489365" cy="526.5" r="2.1" fill="none" stroke="#00b800" stroke-width="1.05"/>
<circle cx="352.21716014840916" cy="528.8" r="2.1" fill="none" stroke="#00b800" stroke-width="1.05"/>
<circle cx="351.09718720780285" cy="515.6862085749474" r="2.1" fill="none" stroke="#00b800" stroke-width="1.05"/>
<circle cx="352.61915941810435" cy="520.7592189368953" r="2.1" fill="none" stroke="#00b800" stroke-width="1.05"/>
<circle cx="352.40394508327097" cy="526.2874350212603" r="2.1" fill="none" stroke="#00b800" stroke-width="1.05"/>
<circle cx="356.53617161815384" cy="484.7" r="2.1" fill="none" stroke="#a000e0" stroke-width="1.05"/>
<circle cx="355.8062820324043" cy="495.4" r="2.1" fill="none" stroke="#a000e0" stroke-width="1.05"/>
<circle cx="355.81816189817647" cy="502.8" r="2.1" fill="none" stroke="#a000e0" stroke-width="1.05"/>
<circle cx="355.2863667686786" cy="510" r="2.1" fill="none" stroke="#a000e0" stroke-width="1.05"/>
<circle cx="356.24172121823426" cy="514" r="2.1" fill="none" stroke="#a000e0" stroke-width="1.05"/>
<circle cx="355.21204607891366" cy="498.9988316419228" r="2.1" fill="none" stroke="#a000e0" stroke-width="1.05"/>
<circle cx="361.50041990742244" cy="507.3" r="2.1" fill="none" stroke="#000000" stroke-width="1.05"/>
<circle cx="361.77227687810296" cy="513" r="2.1" fill="none" stroke="#000000" stroke-width="1.05"/>
<circle cx="361.68263586244063" cy="518.6" r="2.1" fill="none" stroke="#000000" stroke-width="1.05"/>
<circle cx="362.15449785966223" cy="524.3" r="2.1" fill="none" stroke="#000000" stroke-width="1.05"/>
<circle cx="361.54590159599906" cy="505.06163427802323" r="2.1" fill="none" stroke="#000000" stroke-width="1.05"/>
<circle cx="363.07379827927286" cy="508.20103164507077" r="2.1" fill="none" stroke="#000000" stroke-width="1.05"/>
<circle cx="362.60532417801926" cy="510.889527650653" r="2.1" fill="none" stroke="#000000" stroke-width="1.05"/>
<circle cx="361.76739087359556" cy="514.1161287653576" r="2.1" fill="none" stroke="#000000" stroke-width="1.05"/>
<circle cx="361.9540639618027" cy="516.2261814493367" r="2.1" fill="none" stroke="#000000" stroke-width="1.05"/>
<circle cx="367.1280864676723" cy="507" r="2.1" fill="none" stroke="#ff8000" stroke-width="1.05"/>
<circle cx="367.3875848990685" cy="512" r="2.1" fill="none" stroke="#ff8000" stroke-width="1.05"/>
<circle cx="366.4387810264879" cy="517" r="2.1" fill="none" stroke="#ff8000" stroke-width="1.05"/>
<circle cx="366.4709023815493" cy="517.9670682438623" r="2.1" fill="none" stroke="#ff8000" stroke-width="1.05"/>
<circle cx="365.7545923908011" cy="521.6739922548679" r="2.1" fill="none" stroke="#ff8000" stroke-width="1.05"/>
<circle cx="365.7839377101467" cy="524.7614880204959" r="2.1" fill="none" stroke="#ff8000" stroke-width="1.05"/>
<circle cx="369.9905894989476" cy="517.5" r="2.1" fill="none" stroke="#00b800" stroke-width="1.05"/>
<circle cx="369.7415722978815" cy="523.1" r="2.1" fill="none" stroke="#00b800" stroke-width="1.05"/>
<circle cx="371.4117740311745" cy="527.1" r="2.1" fill="none" stroke="#00b800" stroke-width="1.05"/>
<circle cx="370.65086331107585" cy="520.3723260117832" r="2.1" fill="none" stroke="#00b800" stroke-width="1.05"/>
<circle cx="369.96388457001837" cy="522.8854165401212" r="2.1" fill="none" stroke="#00b800" stroke-width="1.05"/>
<circle cx="370.6777103665878" cy="526.9392529074918" r="2.1" fill="none" stroke="#00b800" stroke-width="1.05"/>
<circle cx="375.3539850545214" cy="501.7" r="2.1" fill="none" stroke="#a000e0" stroke-width="1.05"/>
<circle cx="375.05315421463405" cy="514" r="2.1" fill="none" stroke="#a000e0" stroke-width="1.05"/>
<circle cx="374.27000735501286" cy="520" r="2.1" fill="none" stroke="#a000e0" stroke-width="1.05"/>
<circle cx="374.4600596251701" cy="525" r="2.1" fill="none" stroke="#a000e0" stroke-width="1.05"/>
<circle cx="374.1006756621618" cy="513.7982353127466" r="2.1" fill="none" stroke="#a000e0" stroke-width="1.05"/>
<circle cx="375.18948823512363" cy="519.6674626582519" r="2.1" fill="none" stroke="#a000e0" stroke-width="1.05"/>
<circle cx="374.7586663154872" cy="525.4150696491922" r="2.1" fill="none" stroke="#a000e0" stroke-width="1.05"/>
<circle cx="381.83473183774396" cy="503.9" r="2.1" fill="none" stroke="#000000" stroke-width="1.05"/>
<circle cx="381.7509414526142" cy="507.3" r="2.1" fill="none" stroke="#000000" stroke-width="1.05"/>
<circle cx="381.7729992979857" cy="510.7" r="2.1" fill="none" stroke="#000000" stroke-width="1.05"/>
<circle cx="381.6317714366763" cy="516" r="2.1" fill="none" stroke="#000000" stroke-width="1.05"/>
<circle cx="380.70813108205687" cy="504.46973173921157" r="2.1" fill="none" stroke="#000000" stroke-width="1.05"/>
<circle cx="381.2317497036383" cy="506.1911959881146" r="2.1" fill="none" stroke="#000000" stroke-width="1.05"/>
<circle cx="380.94001257803893" cy="508.73530001544765" r="2.1" fill="none" stroke="#000000" stroke-width="1.05"/>
<circle cx="380.35216427133446" cy="512.9476269922566" r="2.1" fill="none" stroke="#000000" stroke-width="1.05"/>
<circle cx="380.3502867357597" cy="516.1638225214182" r="2.1" fill="none" stroke="#000000" stroke-width="1.05"/>
<circle cx="386.12172713741444" cy="514" r="2.1" fill="none" stroke="#ff8000" stroke-width="1.05"/>
<circle cx="385.2050098199801" cy="518" r="2.1" fill="none" stroke="#ff8000" stroke-width="1.05"/>
<circle cx="386.0866381622972" cy="512.703937827051" r="2.1" fill="none" stroke="#ff8000" stroke-width="1.05"/>
<circle cx="386.17846850476514" cy="517.3220184718426" r="2.1" fill="none" stroke="#ff8000" stroke-width="1.05"/>
<circle cx="386.1190011363784" cy="523.0287193267469" r="2.1" fill="none" stroke="#ff8000" stroke-width="1.05"/>
<circle cx="388.8540710941548" cy="500.3" r="2.1" fill="none" stroke="#00b800" stroke-width="1.05"/>
<circle cx="388.86787205389726" cy="526.5" r="2.1" fill="none" stroke="#00b800" stroke-width="1.05"/>
<circle cx="389.6233195153881" cy="522.2584594582019" r="2.1" fill="none" stroke="#00b800" stroke-width="1.05"/>
<circle cx="390.12055500819145" cy="523.8791095751909" r="2.1" fill="none" stroke="#00b800" stroke-width="1.05"/>
<circle cx="390.01278394910275" cy="525.8610966508204" r="2.1" fill="none" stroke="#00b800" stroke-width="1.05"/>
<circle cx="392.7526012756107" cy="510.1" r="2.1" fill="none" stroke="#a000e0" stroke-width="1.05"/>
<circle cx="393.7890541703688" cy="515.2" r="2.1" fill="none" stroke="#a000e0" stroke-width="1.05"/>
<circle cx="394.2375988475931" cy="520.9" r="2.1" fill="none" stroke="#a000e0" stroke-width="1.05"/>
<circle cx="394.00814519137657" cy="511.484069556361" r="2.1" fill="none" stroke="#a000e0" stroke-width="1.05"/>
<circle cx="393.95025282769484" cy="516.5671473028185" r="2.1" fill="none" stroke="#a000e0" stroke-width="1.05"/>
<circle cx="393.4604589402692" cy="521.5858116543059" r="2.1" fill="none" stroke="#a000e0" stroke-width="1.05"/>
<circle cx="399.712509291125" cy="485.3" r="2.1" fill="none" stroke="#000000" stroke-width="1.05"/>
<circle cx="399.72249627216183" cy="508" r="2.1" fill="none" stroke="#000000" stroke-width="1.05"/>
<circle cx="400.70423461163676" cy="514" r="2.1" fill="none" stroke="#000000" stroke-width="1.05"/>
<circle cx="400.30463759814154" cy="520" r="2.1" fill="none" stroke="#000000" stroke-width="1.05"/>
<circle cx="399.3060065879494" cy="525" r="2.1" fill="none" stroke="#000000" stroke-width="1.05"/>
<circle cx="399.22866906113615" cy="506.42845212401016" r="2.1" fill="none" stroke="#000000" stroke-width="1.05"/>
<circle cx="399.2720712606867" cy="510.6939250344487" r="2.1" fill="none" stroke="#000000" stroke-width="1.05"/>
<circle cx="400.62873377231983" cy="512.398041279675" r="2.1" fill="none" stroke="#000000" stroke-width="1.05"/>
<circle cx="400.45170356765794" cy="516.3219765653521" r="2.1" fill="none" stroke="#000000" stroke-width="1.05"/>
<circle cx="399.26311375573897" cy="519.5319774935572" r="2.1" fill="none" stroke="#000000" stroke-width="1.05"/>
<circle cx="404.86455069820465" cy="423.9" r="2.1" fill="none" stroke="#ff8000" stroke-width="1.05"/>
<circle cx="404.28308292692486" cy="436" r="2.1" fill="none" stroke="#ff8000" stroke-width="1.05"/>
<circle cx="403.7307335218835" cy="450.3" r="2.1" fill="none" stroke="#ff8000" stroke-width="1.05"/>
<circle cx="404.0875880791762" cy="474.7" r="2.1" fill="none" stroke="#ff8000" stroke-width="1.05"/>
<circle cx="403.335770933617" cy="490.4" r="2.1" fill="none" stroke="#ff8000" stroke-width="1.05"/>
<circle cx="403.125637288681" cy="509.6" r="2.1" fill="none" stroke="#ff8000" stroke-width="1.05"/>
<circle cx="404.847602319028" cy="487.58362514846095" r="2.1" fill="none" stroke="#ff8000" stroke-width="1.05"/>
<circle cx="407.9808569861635" cy="517.5" r="2.1" fill="none" stroke="#00b800" stroke-width="1.05"/>
<circle cx="408.76913727038095" cy="523.1" r="2.1" fill="none" stroke="#00b800" stroke-width="1.05"/>
<circle cx="408.6870794532674" cy="527.7" r="2.1" fill="none" stroke="#00b800" stroke-width="1.05"/>
<circle cx="407.5798762071907" cy="531.6" r="2.1" fill="none" stroke="#00b800" stroke-width="1.05"/>
<circle cx="407.6533026604578" cy="518.2758858738838" r="2.1" fill="none" stroke="#00b800" stroke-width="1.05"/>
<circle cx="407.7273399748064" cy="521.8137945130377" r="2.1" fill="none" stroke="#00b800" stroke-width="1.05"/>
<circle cx="407.632970906605" cy="526.6240328654712" r="2.1" fill="none" stroke="#00b800" stroke-width="1.05"/>
<circle cx="411.53593261770624" cy="477.7" r="2.1" fill="none" stroke="#a000e0" stroke-width="1.05"/>
<circle cx="412.938030701368" cy="503.9" r="2.1" fill="none" stroke="#a000e0" stroke-width="1.05"/>
<circle cx="411.93681124311587" cy="511" r="2.1" fill="none" stroke="#a000e0" stroke-width="1.05"/>
<circle cx="412.12468977564913" cy="518" r="2.1" fill="none" stroke="#a000e0" stroke-width="1.05"/>
<circle cx="412.3500277896753" cy="510.6407825369316" r="2.1" fill="none" stroke="#a000e0" stroke-width="1.05"/>
<circle cx="412.9277341941757" cy="514.5224755086485" r="2.1" fill="none" stroke="#a000e0" stroke-width="1.05"/>
<circle cx="412.0571308872763" cy="519.5722967932776" r="2.1" fill="none" stroke="#a000e0" stroke-width="1.05"/>
<circle cx="418.49222484229284" cy="501.7" r="2.1" fill="none" stroke="#000000" stroke-width="1.05"/>
<circle cx="418.0295941970899" cy="503.7" r="2.1" fill="none" stroke="#000000" stroke-width="1.05"/>
<circle cx="417.7070784672861" cy="511" r="2.1" fill="none" stroke="#000000" stroke-width="1.05"/>
<circle cx="419.138506810886" cy="510.5025306024224" r="2.1" fill="none" stroke="#000000" stroke-width="1.05"/>
<circle cx="418.0102240819842" cy="512.3039574586886" r="2.1" fill="none" stroke="#000000" stroke-width="1.05"/>
<circle cx="418.5522872784315" cy="515.1763799098462" r="2.1" fill="none" stroke="#000000" stroke-width="1.05"/>
<circle cx="419.0053478868052" cy="517.9564158054092" r="2.1" fill="none" stroke="#000000" stroke-width="1.05"/>
<circle cx="418.70165612482396" cy="519.544891682973" r="2.1" fill="none" stroke="#000000" stroke-width="1.05"/>
<circle cx="423.21169045565784" cy="483.1" r="2.1" fill="none" stroke="#ff8000" stroke-width="1.05"/>
<circle cx="421.9909969507889" cy="487.3" r="2.1" fill="none" stroke="#ff8000" stroke-width="1.05"/>
<circle cx="422.8085330404511" cy="496.9" r="2.1" fill="none" stroke="#ff8000" stroke-width="1.05"/>
<circle cx="422.24728977787754" cy="503" r="2.1" fill="none" stroke="#ff8000" stroke-width="1.05"/>
<circle cx="422.2984507268366" cy="503.4156904958506" r="2.1" fill="none" stroke="#ff8000" stroke-width="1.05"/>
<circle cx="423.1900699777599" cy="508.5440369104873" r="2.1" fill="none" stroke="#ff8000" stroke-width="1.05"/>
<circle cx="422.71388518522616" cy="513.2997271663792" r="2.1" fill="none" stroke="#ff8000" stroke-width="1.05"/>
<circle cx="426.6978471084394" cy="516" r="2.1" fill="none" stroke="#00b800" stroke-width="1.05"/>
<circle cx="427.00255019182003" cy="521" r="2.1" fill="none" stroke="#00b800" stroke-width="1.05"/>
<circle cx="426.80999563553223" cy="517.4814838613088" r="2.1" fill="none" stroke="#00b800" stroke-width="1.05"/>
<circle cx="426.8218906503836" cy="522.023983542216" r="2.1" fill="none" stroke="#00b800" stroke-width="1.05"/>
<circle cx="427.1469158045868" cy="526.4566379538583" r="2.1" fill="none" stroke="#00b800" stroke-width="1.05"/>
<circle cx="431.69470202956927" cy="514" r="2.1" fill="none" stroke="#a000e0" stroke-width="1.05"/>
<circle cx="431.2585921879245" cy="518" r="2.1" fill="none" stroke="#a000e0" stroke-width="1.05"/>
<circle cx="431.577763867205" cy="515.4189632347692" r="2.1" fill="none" stroke="#a000e0" stroke-width="1.05"/>
<circle cx="431.6959250589464" cy="520.27988505019" r="2.1" fill="none" stroke="#a000e0" stroke-width="1.05"/>
<circle cx="430.4672661294118" cy="524.8139538299437" r="2.1" fill="none" stroke="#a000e0" stroke-width="1.05"/>
<circle cx="436.99581255889507" cy="501.4" r="2.1" fill="none" stroke="#000000" stroke-width="1.05"/>
<circle cx="436.33058297938163" cy="510" r="2.1" fill="none" stroke="#000000" stroke-width="1.05"/>
<circle cx="436.6331497652159" cy="516" r="2.1" fill="none" stroke="#000000" stroke-width="1.05"/>
<circle cx="436.33161738055077" cy="507.8428331355945" r="2.1" fill="none" stroke="#000000" stroke-width="1.05"/>
<circle cx="437.40504986155776" cy="511.56384088163236" r="2.1" fill="none" stroke="#000000" stroke-width="1.05"/>
<circle cx="437.61108483091164" cy="514.1159994801436" r="2.1" fill="none" stroke="#000000" stroke-width="1.05"/>
<circle cx="437.8146475791817" cy="515.2291226461525" r="2.1" fill="none" stroke="#000000" stroke-width="1.05"/>
<circle cx="436.4780039227836" cy="517.991892690522" r="2.1" fill="none" stroke="#000000" stroke-width="1.05"/>
<circle cx="441.48846172734443" cy="459.8" r="2.1" fill="none" stroke="#ff8000" stroke-width="1.05"/>
<circle cx="440.5573621962636" cy="463.9" r="2.1" fill="none" stroke="#ff8000" stroke-width="1.05"/>
<circle cx="441.8890991005827" cy="487" r="2.1" fill="none" stroke="#ff8000" stroke-width="1.05"/>
<circle cx="442.0415806087995" cy="490" r="2.1" fill="none" stroke="#ff8000" stroke-width="1.05"/>
<circle cx="440.6952580954434" cy="491.2186877186917" r="2.1" fill="none" stroke="#ff8000" stroke-width="1.05"/>
<circle cx="446.1817686185397" cy="522" r="2.1" fill="none" stroke="#00b800" stroke-width="1.05"/>
<circle cx="445.8984004050693" cy="526" r="2.1" fill="none" stroke="#00b800" stroke-width="1.05"/>
<circle cx="444.69063890778557" cy="523.0026765760722" r="2.1" fill="none" stroke="#00b800" stroke-width="1.05"/>
<circle cx="445.17673927239576" cy="523.9058164993214" r="2.1" fill="none" stroke="#00b800" stroke-width="1.05"/>
<circle cx="445.3280891040479" cy="526.3527591933114" r="2.1" fill="none" stroke="#00b800" stroke-width="1.05"/>
<circle cx="449.7998715032541" cy="472.8" r="2.1" fill="none" stroke="#a000e0" stroke-width="1.05"/>
<circle cx="448.53506927049426" cy="476" r="2.1" fill="none" stroke="#a000e0" stroke-width="1.05"/>
<circle cx="449.497290446055" cy="498" r="2.1" fill="none" stroke="#a000e0" stroke-width="1.05"/>
<circle cx="449.29282458324485" cy="502" r="2.1" fill="none" stroke="#a000e0" stroke-width="1.05"/>
<circle cx="448.53254756548864" cy="496.64721207974645" r="2.1" fill="none" stroke="#a000e0" stroke-width="1.05"/>
<circle cx="449.09669620045554" cy="500.9697871987214" r="2.1" fill="none" stroke="#a000e0" stroke-width="1.05"/>
<circle cx="449.6230687330053" cy="505.93112803067714" r="2.1" fill="none" stroke="#a000e0" stroke-width="1.05"/>
<circle cx="455.3886032696911" cy="510" r="2.1" fill="none" stroke="#000000" stroke-width="1.05"/>
<circle cx="455.6780156902183" cy="515" r="2.1" fill="none" stroke="#000000" stroke-width="1.05"/>
<circle cx="455.2712587418453" cy="507.7294294827123" r="2.1" fill="none" stroke="#000000" stroke-width="1.05"/>
<circle cx="456.6021953741222" cy="509.45429790221783" r="2.1" fill="none" stroke="#000000" stroke-width="1.05"/>
<circle cx="455.68680297553834" cy="514.4641997859218" r="2.1" fill="none" stroke="#000000" stroke-width="1.05"/>
<circle cx="455.4332000067502" cy="516.7920713346342" r="2.1" fill="none" stroke="#000000" stroke-width="1.05"/>
<circle cx="455.96005752629975" cy="520.0320703007529" r="2.1" fill="none" stroke="#000000" stroke-width="1.05"/>
<circle cx="460.7741621636063" cy="464.6" r="2.1" fill="none" stroke="#ff8000" stroke-width="1.05"/>
<circle cx="459.7654962266289" cy="472.2" r="2.1" fill="none" stroke="#ff8000" stroke-width="1.05"/>
<circle cx="459.56886230532734" cy="476.7" r="2.1" fill="none" stroke="#ff8000" stroke-width="1.05"/>
<circle cx="460.9545087153212" cy="493" r="2.1" fill="none" stroke="#ff8000" stroke-width="1.05"/>
<circle cx="460.32707086570787" cy="497" r="2.1" fill="none" stroke="#ff8000" stroke-width="1.05"/>
<circle cx="460.5607514037839" cy="497.88739315884067" r="2.1" fill="none" stroke="#ff8000" stroke-width="1.05"/>
<circle cx="464.1655706734323" cy="514" r="2.1" fill="none" stroke="#00b800" stroke-width="1.05"/>
<circle cx="463.5303453705018" cy="519" r="2.1" fill="none" stroke="#00b800" stroke-width="1.05"/>
<circle cx="465.0890294762723" cy="514.5480426321658" r="2.1" fill="none" stroke="#00b800" stroke-width="1.05"/>
<circle cx="464.5419911113338" cy="519.1380636298583" r="2.1" fill="none" stroke="#00b800" stroke-width="1.05"/>
<circle cx="464.8429314648285" cy="525.3183600379032" r="2.1" fill="none" stroke="#00b800" stroke-width="1.05"/>
<circle cx="469.0412115454698" cy="476.3" r="2.1" fill="none" stroke="#a000e0" stroke-width="1.05"/>
<circle cx="467.619920562774" cy="481.8" r="2.1" fill="none" stroke="#a000e0" stroke-width="1.05"/>
<circle cx="469.0529949442969" cy="492" r="2.1" fill="none" stroke="#a000e0" stroke-width="1.05"/>
<circle cx="468.3167923377512" cy="496" r="2.1" fill="none" stroke="#a000e0" stroke-width="1.05"/>
<circle cx="468.11047319911233" cy="500" r="2.1" fill="none" stroke="#a000e0" stroke-width="1.05"/>
<circle cx="468.49551541322444" cy="495.20098206296285" r="2.1" fill="none" stroke="#a000e0" stroke-width="1.05"/>
<circle cx="473.89701263714267" cy="503.7" r="2.1" fill="none" stroke="#000000" stroke-width="1.05"/>
<circle cx="473.99060836487564" cy="512" r="2.1" fill="none" stroke="#000000" stroke-width="1.05"/>
<circle cx="473.79068349097713" cy="517" r="2.1" fill="none" stroke="#000000" stroke-width="1.05"/>
<circle cx="474.06318284778325" cy="510.8240062817709" r="2.1" fill="none" stroke="#000000" stroke-width="1.05"/>
<circle cx="474.2615863273412" cy="512.0428633920259" r="2.1" fill="none" stroke="#000000" stroke-width="1.05"/>
<circle cx="474.24900971618257" cy="514.5101395197488" r="2.1" fill="none" stroke="#000000" stroke-width="1.05"/>
<circle cx="475.0670968589974" cy="518.2645960636652" r="2.1" fill="none" stroke="#000000" stroke-width="1.05"/>
<circle cx="474.2219295025038" cy="520.3722468067073" r="2.1" fill="none" stroke="#000000" stroke-width="1.05"/>
<circle cx="477.8326935931302" cy="501" r="2.1" fill="none" stroke="#ff8000" stroke-width="1.05"/>
<circle cx="478.2508077611514" cy="509" r="2.1" fill="none" stroke="#ff8000" stroke-width="1.05"/>
<circle cx="477.827623011419" cy="514" r="2.1" fill="none" stroke="#ff8000" stroke-width="1.05"/>
<circle cx="479.11954469017815" cy="508.63354597300173" r="2.1" fill="none" stroke="#ff8000" stroke-width="1.05"/>
<circle cx="478.7918884304203" cy="512.526959722111" r="2.1" fill="none" stroke="#ff8000" stroke-width="1.05"/>
<circle cx="478.1410216936888" cy="517.5994691197735" r="2.1" fill="none" stroke="#ff8000" stroke-width="1.05"/>
<circle cx="483.3740562526151" cy="518" r="2.1" fill="none" stroke="#00b800" stroke-width="1.05"/>
<circle cx="482.67791965441194" cy="522" r="2.1" fill="none" stroke="#00b800" stroke-width="1.05"/>
<circle cx="482.79100283222374" cy="518.3560921991093" r="2.1" fill="none" stroke="#00b800" stroke-width="1.05"/>
<circle cx="483.4023050799944" cy="523.0931428154776" r="2.1" fill="none" stroke="#00b800" stroke-width="1.05"/>
<circle cx="482.60755493601084" cy="524.7384085613984" r="2.1" fill="none" stroke="#00b800" stroke-width="1.05"/>
<circle cx="486.61686832575145" cy="504.7" r="2.1" fill="none" stroke="#a000e0" stroke-width="1.05"/>
<circle cx="487.49811577787597" cy="512" r="2.1" fill="none" stroke="#a000e0" stroke-width="1.05"/>
<circle cx="487.2721057229632" cy="513.4493796185058" r="2.1" fill="none" stroke="#a000e0" stroke-width="1.05"/>
<circle cx="487.144758507993" cy="518.5505801656577" r="2.1" fill="none" stroke="#a000e0" stroke-width="1.05"/>
<circle cx="486.7284558756723" cy="523.9245239636622" r="2.1" fill="none" stroke="#a000e0" stroke-width="1.05"/>
<circle cx="492.8600689781854" cy="483.1" r="2.1" fill="none" stroke="#000000" stroke-width="1.05"/>
<circle cx="492.69384373649746" cy="504" r="2.1" fill="none" stroke="#000000" stroke-width="1.05"/>
<circle cx="492.55207277087425" cy="510" r="2.1" fill="none" stroke="#000000" stroke-width="1.05"/>
<circle cx="493.9142841673313" cy="516" r="2.1" fill="none" stroke="#000000" stroke-width="1.05"/>
<circle cx="493.9669680782459" cy="522" r="2.1" fill="none" stroke="#000000" stroke-width="1.05"/>
<circle cx="493.6069779362356" cy="503.93412523237254" r="2.1" fill="none" stroke="#000000" stroke-width="1.05"/>
<circle cx="492.9074799081519" cy="506.03053248829224" r="2.1" fill="none" stroke="#000000" stroke-width="1.05"/>
<circle cx="492.83598328118643" cy="509.0115645947621" r="2.1" fill="none" stroke="#000000" stroke-width="1.05"/>
<circle cx="492.92750528664453" cy="511.66973475740156" r="2.1" fill="none" stroke="#000000" stroke-width="1.05"/>
<circle cx="493.2270152981105" cy="516.078134075639" r="2.1" fill="none" stroke="#000000" stroke-width="1.05"/>
<circle cx="498.2312157600527" cy="477.6" r="2.1" fill="none" stroke="#ff8000" stroke-width="1.05"/>
<circle cx="498.25072139630345" cy="482.4" r="2.1" fill="none" stroke="#ff8000" stroke-width="1.05"/>
<circle cx="497.484732073414" cy="503.7" r="2.1" fill="none" stroke="#ff8000" stroke-width="1.05"/>
<circle cx="496.94000368909536" cy="512" r="2.1" fill="none" stroke="#ff8000" stroke-width="1.05"/>
<circle cx="498.2382001861058" cy="511.31141238892343" r="2.1" fill="none" stroke="#ff8000" stroke-width="1.05"/>
<circle cx="497.05718625182027" cy="516.669979059761" r="2.1" fill="none" stroke="#ff8000" stroke-width="1.05"/>
<circle cx="497.1418510506252" cy="520.8984500274604" r="2.1" fill="none" stroke="#ff8000" stroke-width="1.05"/>
<circle cx="501.50497521147753" cy="498.6" r="2.1" fill="none" stroke="#00b800" stroke-width="1.05"/>
<circle cx="500.96176409756185" cy="522" r="2.1" fill="none" stroke="#00b800" stroke-width="1.05"/>
<circle cx="501.50852415112575" cy="527" r="2.1" fill="none" stroke="#00b800" stroke-width="1.05"/>
<circle cx="500.6089109567071" cy="519.5525653958678" r="2.1" fill="none" stroke="#00b800" stroke-width="1.05"/>
<circle cx="501.075503634443" cy="523.1659038558703" r="2.1" fill="none" stroke="#00b800" stroke-width="1.05"/>
<circle cx="500.7615561161858" cy="526.0891447057533" r="2.1" fill="none" stroke="#00b800" stroke-width="1.05"/>
<circle cx="505.24764020840377" cy="500.3" r="2.1" fill="none" stroke="#a000e0" stroke-width="1.05"/>
<circle cx="505.1190572198634" cy="516" r="2.1" fill="none" stroke="#a000e0" stroke-width="1.05"/>
<circle cx="505.7540499115269" cy="516.4254934753601" r="2.1" fill="none" stroke="#a000e0" stroke-width="1.05"/>
<circle cx="505.6525411869276" cy="519.9000006984587" r="2.1" fill="none" stroke="#a000e0" stroke-width="1.05"/>
<circle cx="506.05097313433475" cy="524.187319286062" r="2.1" fill="none" stroke="#a000e0" stroke-width="1.05"/>
<circle cx="512.9725123531338" cy="505" r="2.1" fill="none" stroke="#000000" stroke-width="1.05"/>
<circle cx="511.4690336682761" cy="510" r="2.1" fill="none" stroke="#000000" stroke-width="1.05"/>
<circle cx="512.5034803920513" cy="516" r="2.1" fill="none" stroke="#000000" stroke-width="1.05"/>
<circle cx="512.3577950094682" cy="504.67810481595035" r="2.1" fill="none" stroke="#000000" stroke-width="1.05"/>
<circle cx="511.27881852004487" cy="507.6183842560775" r="2.1" fill="none" stroke="#000000" stroke-width="1.05"/>
<circle cx="512.703521177821" cy="510.8098176645617" r="2.1" fill="none" stroke="#000000" stroke-width="1.05"/>
<circle cx="512.8054962405813" cy="512.434839530545" r="2.1" fill="none" stroke="#000000" stroke-width="1.05"/>
<circle cx="512.3291978237975" cy="515.0827234099032" r="2.1" fill="none" stroke="#000000" stroke-width="1.05"/>
<circle cx="516.2427631121514" cy="479.4" r="2.1" fill="none" stroke="#ff8000" stroke-width="1.05"/>
<circle cx="516.2078678922599" cy="495.5" r="2.1" fill="none" stroke="#ff8000" stroke-width="1.05"/>
<circle cx="516.8028876681867" cy="503" r="2.1" fill="none" stroke="#ff8000" stroke-width="1.05"/>
<circle cx="516.7484196903479" cy="510" r="2.1" fill="none" stroke="#ff8000" stroke-width="1.05"/>
<circle cx="516.7875364187037" cy="502.394578429678" r="2.1" fill="none" stroke="#ff8000" stroke-width="1.05"/>
<circle cx="516.3513107302513" cy="507.24932539770975" r="2.1" fill="none" stroke="#ff8000" stroke-width="1.05"/>
<circle cx="516.90709352553" cy="510.3010049307128" r="2.1" fill="none" stroke="#ff8000" stroke-width="1.05"/>
<circle cx="519.4560889473212" cy="521" r="2.1" fill="none" stroke="#00b800" stroke-width="1.05"/>
<circle cx="519.6395677562566" cy="525" r="2.1" fill="none" stroke="#00b800" stroke-width="1.05"/>
<circle cx="520.0492734575804" cy="522.2722822201346" r="2.1" fill="none" stroke="#00b800" stroke-width="1.05"/>
<circle cx="519.5888496479237" cy="524.5639827247182" r="2.1" fill="none" stroke="#00b800" stroke-width="1.05"/>
<circle cx="520.90447815964" cy="525.7185243959543" r="2.1" fill="none" stroke="#00b800" stroke-width="1.05"/>
<circle cx="524.7251955169455" cy="499.6" r="2.1" fill="none" stroke="#a000e0" stroke-width="1.05"/>
<circle cx="524.3807297667477" cy="506" r="2.1" fill="none" stroke="#a000e0" stroke-width="1.05"/>
<circle cx="523.5059657888302" cy="511" r="2.1" fill="none" stroke="#a000e0" stroke-width="1.05"/>
<circle cx="524.9358555937276" cy="508.77379872492355" r="2.1" fill="none" stroke="#a000e0" stroke-width="1.05"/>
<circle cx="524.8468776664027" cy="513.6066410604508" r="2.1" fill="none" stroke="#a000e0" stroke-width="1.05"/>
<circle cx="524.4053478942525" cy="518.2696101681054" r="2.1" fill="none" stroke="#a000e0" stroke-width="1.05"/>
<circle cx="530.1340099999535" cy="505.8" r="2.1" fill="none" stroke="#000000" stroke-width="1.05"/>
<circle cx="530.4780047999517" cy="510" r="2.1" fill="none" stroke="#000000" stroke-width="1.05"/>
<circle cx="531.3128030684709" cy="515" r="2.1" fill="none" stroke="#000000" stroke-width="1.05"/>
<circle cx="530.3693915487478" cy="506.48447955415145" r="2.1" fill="none" stroke="#000000" stroke-width="1.05"/>
<circle cx="531.3316914645574" cy="509.5823187743304" r="2.1" fill="none" stroke="#000000" stroke-width="1.05"/>
<circle cx="531.7563231693849" cy="510.95852085493317" r="2.1" fill="none" stroke="#000000" stroke-width="1.05"/>
<circle cx="530.8891078019287" cy="515.3682919885014" r="2.1" fill="none" stroke="#000000" stroke-width="1.05"/>
<circle cx="530.6886088590185" cy="517.0052644755104" r="2.1" fill="none" stroke="#000000" stroke-width="1.05"/>
<circle cx="535.2105532284008" cy="498.2" r="2.1" fill="none" stroke="#ff8000" stroke-width="1.05"/>
<circle cx="535.2569733556876" cy="506" r="2.1" fill="none" stroke="#ff8000" stroke-width="1.05"/>
<circle cx="534.2394492751321" cy="507.88295772710285" r="2.1" fill="none" stroke="#ff8000" stroke-width="1.05"/>
<circle cx="534.3653651311785" cy="513.0408717504856" r="2.1" fill="none" stroke="#ff8000" stroke-width="1.05"/>
<circle cx="534.5570925069807" cy="517.9073949206287" r="2.1" fill="none" stroke="#ff8000" stroke-width="1.05"/>
<circle cx="538.222444583985" cy="496.9" r="2.1" fill="none" stroke="#00b800" stroke-width="1.05"/>
<circle cx="538.3091898253145" cy="510" r="2.1" fill="none" stroke="#00b800" stroke-width="1.05"/>
<circle cx="538.6837909784207" cy="516" r="2.1" fill="none" stroke="#00b800" stroke-width="1.05"/>
<circle cx="539.4096028415795" cy="512.0170547509908" r="2.1" fill="none" stroke="#00b800" stroke-width="1.05"/>
<circle cx="539.4459333106269" cy="515.6306011311021" r="2.1" fill="none" stroke="#00b800" stroke-width="1.05"/>
<circle cx="539.416273782263" cy="520.929294741553" r="2.1" fill="none" stroke="#00b800" stroke-width="1.05"/>
<circle cx="543.1394104777345" cy="512" r="2.1" fill="none" stroke="#a000e0" stroke-width="1.05"/>
<circle cx="542.5133051528628" cy="517" r="2.1" fill="none" stroke="#a000e0" stroke-width="1.05"/>
<circle cx="543.9085932671155" cy="514.3313888815638" r="2.1" fill="none" stroke="#a000e0" stroke-width="1.05"/>
<circle cx="542.6586500537471" cy="519.5396856657065" r="2.1" fill="none" stroke="#a000e0" stroke-width="1.05"/>
<circle cx="544.0606263261627" cy="524.081857514765" r="2.1" fill="none" stroke="#a000e0" stroke-width="1.05"/>
<circle cx="549.409011745372" cy="504.2" r="2.1" fill="none" stroke="#000000" stroke-width="1.05"/>
<circle cx="549.0835830323124" cy="509.4" r="2.1" fill="none" stroke="#000000" stroke-width="1.05"/>
<circle cx="548.9777069959774" cy="513" r="2.1" fill="none" stroke="#000000" stroke-width="1.05"/>
<circle cx="550.3020570984107" cy="510.94701041828887" r="2.1" fill="none" stroke="#000000" stroke-width="1.05"/>
<circle cx="548.979275835561" cy="511.54201069396004" r="2.1" fill="none" stroke="#000000" stroke-width="1.05"/>
<circle cx="549.6466502618979" cy="515.4015299751127" r="2.1" fill="none" stroke="#000000" stroke-width="1.05"/>
<circle cx="548.8551332201472" cy="519.0677544624797" r="2.1" fill="none" stroke="#000000" stroke-width="1.05"/>
<circle cx="549.5433182825986" cy="522.2234598039616" r="2.1" fill="none" stroke="#000000" stroke-width="1.05"/>
<circle cx="553.6157398365679" cy="511.6" r="2.1" fill="none" stroke="#ff8000" stroke-width="1.05"/>
<circle cx="554.2963518873067" cy="518.1699101413011" r="2.1" fill="none" stroke="#ff8000" stroke-width="1.05"/>
<circle cx="553.9660066698293" cy="520.3682521749145" r="2.1" fill="none" stroke="#ff8000" stroke-width="1.05"/>
<circle cx="553.1164904854909" cy="526.1851874921421" r="2.1" fill="none" stroke="#ff8000" stroke-width="1.05"/>
<circle cx="556.8064628490056" cy="485.3" r="2.1" fill="none" stroke="#00b800" stroke-width="1.05"/>
<circle cx="557.685052997074" cy="498.1" r="2.1" fill="none" stroke="#00b800" stroke-width="1.05"/>
<circle cx="557.6113685408961" cy="510" r="2.1" fill="none" stroke="#00b800" stroke-width="1.05"/>
<circle cx="557.3435118742952" cy="506.7878270027743" r="2.1" fill="none" stroke="#00b800" stroke-width="1.05"/>
<circle cx="557.0532729964639" cy="510.46673757542516" r="2.1" fill="none" stroke="#00b800" stroke-width="1.05"/>
<circle cx="557.4191282635703" cy="514.0262692340842" r="2.1" fill="none" stroke="#00b800" stroke-width="1.05"/>
<circle cx="562.2513212741085" cy="511" r="2.1" fill="none" stroke="#a000e0" stroke-width="1.05"/>
<circle cx="562.410399430371" cy="516.5" r="2.1" fill="none" stroke="#a000e0" stroke-width="1.05"/>
<circle cx="561.1160744256659" cy="514.3919206422333" r="2.1" fill="none" stroke="#a000e0" stroke-width="1.05"/>
<circle cx="562.5675179477955" cy="520.3165544807551" r="2.1" fill="none" stroke="#a000e0" stroke-width="1.05"/>
<circle cx="562.1834424184345" cy="522.9708459832686" r="2.1" fill="none" stroke="#a000e0" stroke-width="1.05"/>
<circle cx="568.3605179796928" cy="504.2" r="2.1" fill="none" stroke="#000000" stroke-width="1.05"/>
<circle cx="567.949276783062" cy="509.4" r="2.1" fill="none" stroke="#000000" stroke-width="1.05"/>
<circle cx="568.0704949525011" cy="515" r="2.1" fill="none" stroke="#000000" stroke-width="1.05"/>
<circle cx="567.7952794547203" cy="508.86375975143744" r="2.1" fill="none" stroke="#000000" stroke-width="1.05"/>
<circle cx="567.3868825741495" cy="510.19559910154123" r="2.1" fill="none" stroke="#000000" stroke-width="1.05"/>
<circle cx="567.4830777443417" cy="513.1933327984508" r="2.1" fill="none" stroke="#000000" stroke-width="1.05"/>
<circle cx="568.8024167909589" cy="516.0429585168986" r="2.1" fill="none" stroke="#000000" stroke-width="1.05"/>
<circle cx="567.8141217421213" cy="520.2971020138855" r="2.1" fill="none" stroke="#000000" stroke-width="1.05"/>
<circle cx="571.8487844895412" cy="458" r="2.1" fill="none" stroke="#ff8000" stroke-width="1.05"/>
<circle cx="571.8783104269596" cy="474.7" r="2.1" fill="none" stroke="#ff8000" stroke-width="1.05"/>
<circle cx="572.3197333780532" cy="479.5" r="2.1" fill="none" stroke="#ff8000" stroke-width="1.05"/>
<circle cx="571.7417282848934" cy="493" r="2.1" fill="none" stroke="#ff8000" stroke-width="1.05"/>
<circle cx="572.0720287130271" cy="498.84541573194707" r="2.1" fill="none" stroke="#ff8000" stroke-width="1.05"/>
<circle cx="576.6356124469643" cy="466.6" r="2.1" fill="none" stroke="#00b800" stroke-width="1.05"/>
<circle cx="577.1441629974269" cy="487.5" r="2.1" fill="none" stroke="#00b800" stroke-width="1.05"/>
<circle cx="577.1932587370088" cy="500" r="2.1" fill="none" stroke="#00b800" stroke-width="1.05"/>
<circle cx="576.4886106667383" cy="506.928129968742" r="2.1" fill="none" stroke="#00b800" stroke-width="1.05"/>
<circle cx="576.7952306475121" cy="511.42223973326105" r="2.1" fill="none" stroke="#00b800" stroke-width="1.05"/>
<circle cx="575.5890568619984" cy="515.9153761085964" r="2.1" fill="none" stroke="#00b800" stroke-width="1.05"/>
<circle cx="580.7600832787533" cy="489.1" r="2.1" fill="none" stroke="#a000e0" stroke-width="1.05"/>
<circle cx="580.1151749765429" cy="505" r="2.1" fill="none" stroke="#a000e0" stroke-width="1.05"/>
<circle cx="579.6881584289777" cy="512" r="2.1" fill="none" stroke="#a000e0" stroke-width="1.05"/>
<circle cx="581.2681986837848" cy="515.3909792576194" r="2.1" fill="none" stroke="#a000e0" stroke-width="1.05"/>
<circle cx="579.8291603766932" cy="519.3820650151058" r="2.1" fill="none" stroke="#a000e0" stroke-width="1.05"/>
<circle cx="580.4499313574042" cy="524.7730698888444" r="2.1" fill="none" stroke="#a000e0" stroke-width="1.05"/>
<circle cx="587.1807915868579" cy="489.1" r="2.1" fill="none" stroke="#000000" stroke-width="1.05"/>
<circle cx="586.54150532387" cy="503.6" r="2.1" fill="none" stroke="#000000" stroke-width="1.05"/>
<circle cx="587.0031790644226" cy="512" r="2.1" fill="none" stroke="#000000" stroke-width="1.05"/>
<circle cx="586.7098619998659" cy="518" r="2.1" fill="none" stroke="#000000" stroke-width="1.05"/>
<circle cx="586.3011984419657" cy="507.524790846379" r="2.1" fill="none" stroke="#000000" stroke-width="1.05"/>
<circle cx="586.290982530529" cy="510.2146524773075" r="2.1" fill="none" stroke="#000000" stroke-width="1.05"/>
<circle cx="586.3741705380461" cy="514.073678011991" r="2.1" fill="none" stroke="#000000" stroke-width="1.05"/>
<circle cx="587.6307278384364" cy="517.4431108233836" r="2.1" fill="none" stroke="#000000" stroke-width="1.05"/>
<circle cx="586.8947364135884" cy="518.5244057310738" r="2.1" fill="none" stroke="#000000" stroke-width="1.05"/>
<circle cx="591.7312669023804" cy="399.6" r="2.1" fill="none" stroke="#ff8000" stroke-width="1.05"/>
<circle cx="591.8936552045244" cy="415.7" r="2.1" fill="none" stroke="#ff8000" stroke-width="1.05"/>
<circle cx="590.9099287984473" cy="421.8" r="2.1" fill="none" stroke="#ff8000" stroke-width="1.05"/>
<circle cx="590.3512729151995" cy="470" r="2.1" fill="none" stroke="#ff8000" stroke-width="1.05"/>
<circle cx="590.4463327723694" cy="480" r="2.1" fill="none" stroke="#ff8000" stroke-width="1.05"/>
<circle cx="590.2632861145918" cy="440.5280606052813" r="2.1" fill="none" stroke="#ff8000" stroke-width="1.05"/>
<circle cx="594.6650436226789" cy="445.7" r="2.1" fill="none" stroke="#00b800" stroke-width="1.05"/>
<circle cx="595.2253119361689" cy="520" r="2.1" fill="none" stroke="#00b800" stroke-width="1.05"/>
<circle cx="595.7970526265811" cy="528" r="2.1" fill="none" stroke="#00b800" stroke-width="1.05"/>
<circle cx="595.5493836936885" cy="505.45402589440914" r="2.1" fill="none" stroke="#00b800" stroke-width="1.05"/>
<circle cx="594.9430069855534" cy="509.51862641547837" r="2.1" fill="none" stroke="#00b800" stroke-width="1.05"/>
<circle cx="594.944990430344" cy="514.5405704603885" r="2.1" fill="none" stroke="#00b800" stroke-width="1.05"/>
<circle cx="598.4117071322848" cy="510" r="2.1" fill="none" stroke="#a000e0" stroke-width="1.05"/>
<circle cx="598.7995294245609" cy="514" r="2.1" fill="none" stroke="#a000e0" stroke-width="1.05"/>
<circle cx="600.0418334726115" cy="518" r="2.1" fill="none" stroke="#a000e0" stroke-width="1.05"/>
<circle cx="598.5265728431655" cy="512.8913368759355" r="2.1" fill="none" stroke="#a000e0" stroke-width="1.05"/>
<circle cx="599.2061123457" cy="517.2044779527827" r="2.1" fill="none" stroke="#a000e0" stroke-width="1.05"/>
<circle cx="599.4333284305227" cy="521.7783541078746" r="2.1" fill="none" stroke="#a000e0" stroke-width="1.05"/>
<circle cx="605.5025451062419" cy="502.9" r="2.1" fill="none" stroke="#000000" stroke-width="1.05"/>
<circle cx="606.4170984354737" cy="506.8" r="2.1" fill="none" stroke="#000000" stroke-width="1.05"/>
<circle cx="606.2276306172148" cy="512" r="2.1" fill="none" stroke="#000000" stroke-width="1.05"/>
<circle cx="606.2712037752754" cy="508.77086723772226" r="2.1" fill="none" stroke="#000000" stroke-width="1.05"/>
<circle cx="604.7392589183826" cy="510.01831153796786" r="2.1" fill="none" stroke="#000000" stroke-width="1.05"/>
<circle cx="604.7580382880968" cy="512.9504501145504" r="2.1" fill="none" stroke="#000000" stroke-width="1.05"/>
<circle cx="605.9771212128896" cy="515.6962887594323" r="2.1" fill="none" stroke="#000000" stroke-width="1.05"/>
<circle cx="606.3122537348245" cy="518.8594171281896" r="2.1" fill="none" stroke="#000000" stroke-width="1.05"/>
<circle cx="609.5047379722777" cy="456.3" r="2.1" fill="none" stroke="#ff8000" stroke-width="1.05"/>
<circle cx="610.4682890927098" cy="468.9" r="2.1" fill="none" stroke="#ff8000" stroke-width="1.05"/>
<circle cx="610.2860605712991" cy="472" r="2.1" fill="none" stroke="#ff8000" stroke-width="1.05"/>
<circle cx="610.3398328128657" cy="494" r="2.1" fill="none" stroke="#ff8000" stroke-width="1.05"/>
<circle cx="610.5500340194114" cy="496.36917719982966" r="2.1" fill="none" stroke="#ff8000" stroke-width="1.05"/>
<circle cx="609.2472375095606" cy="501.3092235771982" r="2.1" fill="none" stroke="#ff8000" stroke-width="1.05"/>
<circle cx="608.996282798073" cy="504.5670955174332" r="2.1" fill="none" stroke="#ff8000" stroke-width="1.05"/>
<circle cx="614.5946830070445" cy="497.2" r="2.1" fill="none" stroke="#00b800" stroke-width="1.05"/>
<circle cx="614.1991235201197" cy="508" r="2.1" fill="none" stroke="#00b800" stroke-width="1.05"/>
<circle cx="614.065226615397" cy="505.00384145849665" r="2.1" fill="none" stroke="#00b800" stroke-width="1.05"/>
<circle cx="614.2766409859867" cy="510.5536774570683" r="2.1" fill="none" stroke="#00b800" stroke-width="1.05"/>
<circle cx="613.7231850754695" cy="515.6036468147834" r="2.1" fill="none" stroke="#00b800" stroke-width="1.05"/>
<circle cx="617.071183265764" cy="472.1" r="2.1" fill="none" stroke="#a000e0" stroke-width="1.05"/>
<circle cx="618.4081375124022" cy="477.9" r="2.1" fill="none" stroke="#a000e0" stroke-width="1.05"/>
<circle cx="617.4186382921405" cy="481.7" r="2.1" fill="none" stroke="#a000e0" stroke-width="1.05"/>
<circle cx="618.6558561970866" cy="495" r="2.1" fill="none" stroke="#a000e0" stroke-width="1.05"/>
<circle cx="618.161910397463" cy="497.92360219556446" r="2.1" fill="none" stroke="#a000e0" stroke-width="1.05"/>
<circle cx="623.601838831447" cy="497.8" r="2.1" fill="none" stroke="#000000" stroke-width="1.05"/>
<circle cx="623.5266334350454" cy="503.6" r="2.1" fill="none" stroke="#000000" stroke-width="1.05"/>
<circle cx="624.3439860276757" cy="508.4" r="2.1" fill="none" stroke="#000000" stroke-width="1.05"/>
<circle cx="624.449203753062" cy="509.4290774279076" r="2.1" fill="none" stroke="#000000" stroke-width="1.05"/>
<circle cx="624.0985475053607" cy="511.8071204357113" r="2.1" fill="none" stroke="#000000" stroke-width="1.05"/>
<circle cx="623.802449460498" cy="514.9043054734752" r="2.1" fill="none" stroke="#000000" stroke-width="1.05"/>
<circle cx="624.4819096148168" cy="518.6270986337202" r="2.1" fill="none" stroke="#000000" stroke-width="1.05"/>
<circle cx="623.4188309518058" cy="521.5765966015549" r="2.1" fill="none" stroke="#000000" stroke-width="1.05"/>
<circle cx="628.6602361508528" cy="503" r="2.1" fill="none" stroke="#ff8000" stroke-width="1.05"/>
<circle cx="629.0907932522613" cy="510" r="2.1" fill="none" stroke="#ff8000" stroke-width="1.05"/>
<circle cx="628.3555475961216" cy="517.8569844563154" r="2.1" fill="none" stroke="#ff8000" stroke-width="1.05"/>
<circle cx="627.922582574074" cy="521.9056575050105" r="2.1" fill="none" stroke="#ff8000" stroke-width="1.05"/>
<circle cx="627.9447050918095" cy="526.7681225992187" r="2.1" fill="none" stroke="#ff8000" stroke-width="1.05"/>
<circle cx="631.6392172913954" cy="497.8" r="2.1" fill="none" stroke="#00b800" stroke-width="1.05"/>
<circle cx="632.496958440488" cy="516" r="2.1" fill="none" stroke="#00b800" stroke-width="1.05"/>
<circle cx="632.8140338716277" cy="514.9388074849174" r="2.1" fill="none" stroke="#00b800" stroke-width="1.05"/>
<circle cx="632.3560285698322" cy="518.9911687907514" r="2.1" fill="none" stroke="#00b800" stroke-width="1.05"/>
<circle cx="632.0630610198536" cy="522.7044214536702" r="2.1" fill="none" stroke="#00b800" stroke-width="1.05"/>
<circle cx="635.761375362072" cy="454.7" r="2.1" fill="none" stroke="#a000e0" stroke-width="1.05"/>
<circle cx="636.3084928266182" cy="486.6" r="2.1" fill="none" stroke="#a000e0" stroke-width="1.05"/>
<circle cx="636.4570023227645" cy="500" r="2.1" fill="none" stroke="#a000e0" stroke-width="1.05"/>
<circle cx="636.928620029341" cy="508" r="2.1" fill="none" stroke="#a000e0" stroke-width="1.05"/>
<circle cx="636.0565433488202" cy="501.6349854505437" r="2.1" fill="none" stroke="#a000e0" stroke-width="1.05"/>
<circle cx="637.1347155908182" cy="506.9203859872261" r="2.1" fill="none" stroke="#a000e0" stroke-width="1.05"/>
<circle cx="637.0304325991964" cy="509.9109532424539" r="2.1" fill="none" stroke="#a000e0" stroke-width="1.05"/>
<polygon points="341.10,455.80 341.68,457.20 343.19,457.32 342.04,458.31 342.39,459.78 341.10,458.99 339.81,459.78 340.16,458.31 339.01,457.32 340.52,457.20" fill="#231f20"/>
<polygon points="345.70,455.80 346.28,457.20 347.79,457.32 346.64,458.31 346.99,459.78 345.70,458.99 344.41,459.78 344.76,458.31 343.61,457.32 345.12,457.20" fill="#231f20"/>
<polygon points="350.30,455.80 350.88,457.20 352.39,457.32 351.24,458.31 351.59,459.78 350.30,458.99 349.01,459.78 349.36,458.31 348.21,457.32 349.72,457.20" fill="#231f20"/>
<line x1="344.0" y1="462.9" x2="347.6" y2="462.9" stroke="#666" stroke-width="0.8" />
<polygon points="349.30,439.50 349.88,440.90 351.39,441.02 350.24,442.01 350.59,443.48 349.30,442.69 348.01,443.48 348.36,442.01 347.21,441.02 348.72,440.90" fill="#231f20"/>
<polygon points="353.90,439.50 354.48,440.90 355.99,441.02 354.84,442.01 355.19,443.48 353.90,442.69 352.61,443.48 352.96,442.01 351.81,441.02 353.32,440.90" fill="#231f20"/>
<polygon points="358.50,439.50 359.08,440.90 360.59,441.02 359.44,442.01 359.79,443.48 358.50,442.69 357.21,443.48 357.56,442.01 356.41,441.02 357.92,440.90" fill="#231f20"/>
<line x1="349.9" y1="447.2" x2="358.1" y2="447.2" stroke="#666" stroke-width="0.8" />
<polygon points="394.90,398.10 395.48,399.50 396.99,399.62 395.84,400.61 396.19,402.08 394.90,401.29 393.61,402.08 393.96,400.61 392.81,399.62 394.32,399.50" fill="#231f20"/>
<polygon points="399.50,398.10 400.08,399.50 401.59,399.62 400.44,400.61 400.79,402.08 399.50,401.29 398.21,402.08 398.56,400.61 397.41,399.62 398.92,399.50" fill="#231f20"/>
<polygon points="404.10,398.10 404.68,399.50 406.19,399.62 405.04,400.61 405.39,402.08 404.10,401.29 402.81,402.08 403.16,400.61 402.01,399.62 403.52,399.50" fill="#231f20"/>
<polygon points="408.70,398.10 409.28,399.50 410.79,399.62 409.64,400.61 409.99,402.08 408.70,401.29 407.41,402.08 407.76,400.61 406.61,399.62 408.12,399.50" fill="#231f20"/>
<line x1="399.9" y1="405.2" x2="403.6" y2="405.2" stroke="#666" stroke-width="0.8" />
<polygon points="406.50,408.60 407.08,410.00 408.59,410.12 407.44,411.11 407.79,412.58 406.50,411.79 405.21,412.58 405.56,411.11 404.41,410.12 405.92,410.00" fill="#231f20"/>
<polygon points="411.10,408.60 411.68,410.00 413.19,410.12 412.04,411.11 412.39,412.58 411.10,411.79 409.81,412.58 410.16,411.11 409.01,410.12 410.52,410.00" fill="#231f20"/>
<line x1="405.3" y1="416.2" x2="413.0" y2="416.2" stroke="#666" stroke-width="0.8" />
<polygon points="434.10,433.10 434.68,434.50 436.19,434.62 435.04,435.61 435.39,437.08 434.10,436.29 432.81,437.08 433.16,435.61 432.01,434.62 433.52,434.50" fill="#231f20"/>
<polygon points="438.70,433.10 439.28,434.50 440.79,434.62 439.64,435.61 439.99,437.08 438.70,436.29 437.41,437.08 437.76,435.61 436.61,434.62 438.12,434.50" fill="#231f20"/>
<polygon points="443.30,433.10 443.88,434.50 445.39,434.62 444.24,435.61 444.59,437.08 443.30,436.29 442.01,437.08 442.36,435.61 441.21,434.62 442.72,434.50" fill="#231f20"/>
<line x1="436.8" y1="440.2" x2="440.3" y2="440.2" stroke="#666" stroke-width="0.8" />
<polygon points="455.50,433.10 456.08,434.50 457.59,434.62 456.44,435.61 456.79,437.08 455.50,436.29 454.21,437.08 454.56,435.61 453.41,434.62 454.92,434.50" fill="#231f20"/>
<polygon points="460.10,433.10 460.68,434.50 462.19,434.62 461.04,435.61 461.39,437.08 460.10,436.29 458.81,437.08 459.16,435.61 458.01,434.62 459.52,434.50" fill="#231f20"/>
<line x1="455.9" y1="440.2" x2="459.7" y2="440.2" stroke="#666" stroke-width="0.8" />
<text x="446.1" y="454.4" font-size="7.2" text-anchor="middle">NS</text>
<line x1="441.5" y1="456.6" x2="450.8" y2="456.6" stroke="#666" stroke-width="0.8" />
<text x="465.3" y="454.4" font-size="7.2" text-anchor="middle">NS</text>
<line x1="460.9" y1="456.6" x2="470.7" y2="456.6" stroke="#666" stroke-width="0.8" />
<polygon points="568.40,439.00 568.98,440.40 570.49,440.52 569.34,441.51 569.69,442.98 568.40,442.19 567.11,442.98 567.46,441.51 566.31,440.52 567.82,440.40" fill="#231f20"/>
<polygon points="573.00,439.00 573.58,440.40 575.09,440.52 573.94,441.51 574.29,442.98 573.00,442.19 571.71,442.98 572.06,441.51 570.91,440.52 572.42,440.40" fill="#231f20"/>
<line x1="568.5" y1="446.4" x2="572.8" y2="446.4" stroke="#666" stroke-width="0.8" />
<polygon points="576.90,426.70 577.48,428.10 578.99,428.22 577.84,429.21 578.19,430.68 576.90,429.89 575.61,430.68 575.96,429.21 574.81,428.22 576.32,428.10" fill="#231f20"/>
<line x1="573.2" y1="434.2" x2="581.0" y2="434.2" stroke="#666" stroke-width="0.8" />
<polygon points="582.40,384.80 582.98,386.20 584.49,386.32 583.34,387.31 583.69,388.78 582.40,387.99 581.11,388.78 581.46,387.31 580.31,386.32 581.82,386.20" fill="#231f20"/>
<polygon points="587.00,384.80 587.58,386.20 589.09,386.32 587.94,387.31 588.29,388.78 587.00,387.99 585.71,388.78 586.06,387.31 584.91,386.32 586.42,386.20" fill="#231f20"/>
<polygon points="591.60,384.80 592.18,386.20 593.69,386.32 592.54,387.31 592.89,388.78 591.60,387.99 590.31,388.78 590.66,387.31 589.51,386.32 591.02,386.20" fill="#231f20"/>
<polygon points="596.20,384.80 596.78,386.20 598.29,386.32 597.14,387.31 597.49,388.78 596.20,387.99 594.91,388.78 595.26,387.31 594.11,386.32 595.62,386.20" fill="#231f20"/>
<line x1="587.1" y1="391.6" x2="590.8" y2="391.6" stroke="#666" stroke-width="0.8" />
<polygon points="590.00,373.70 590.58,375.10 592.09,375.22 590.94,376.21 591.29,377.68 590.00,376.89 588.71,377.68 589.06,376.21 587.91,375.22 589.42,375.10" fill="#231f20"/>
<polygon points="594.60,373.70 595.18,375.10 596.69,375.22 595.54,376.21 595.89,377.68 594.60,376.89 593.31,377.68 593.66,376.21 592.51,375.22 594.02,375.10" fill="#231f20"/>
<polygon points="599.20,373.70 599.78,375.10 601.29,375.22 600.14,376.21 600.49,377.68 599.20,376.89 597.91,377.68 598.26,376.21 597.11,375.22 598.62,375.10" fill="#231f20"/>
<polygon points="603.80,373.70 604.38,375.10 605.89,375.22 604.74,376.21 605.09,377.68 603.80,376.89 602.51,377.68 602.86,376.21 601.71,375.22 603.22,375.10" fill="#231f20"/>
<line x1="590.0" y1="380.5" x2="603.2" y2="380.5" stroke="#666" stroke-width="0.8" />
<text x="0" y="336.6" font-size="12.5" font-weight="bold" fill="#000">e</text>
<line x1="57.3" y1="337.4" x2="57.3" y2="445.5" stroke="#666" stroke-width="0.85" />
<line x1="54.5" y1="337.4" x2="57.3" y2="337.4" stroke="#666" stroke-width="0.85" />
<text x="50.099999999999994" y="340.2" font-size="7.8" text-anchor="end">600</text>
<line x1="54.5" y1="373.43333333333334" x2="57.3" y2="373.43333333333334" stroke="#666" stroke-width="0.85" />
<text x="50.099999999999994" y="376.23333333333335" font-size="7.8" text-anchor="end">400</text>
<line x1="54.5" y1="409.46666666666664" x2="57.3" y2="409.46666666666664" stroke="#666" stroke-width="0.85" />
<text x="50.099999999999994" y="412.26666666666665" font-size="7.8" text-anchor="end">200</text>
<line x1="54.5" y1="445.5" x2="57.3" y2="445.5" stroke="#666" stroke-width="0.85" />
<text x="50.099999999999994" y="448.3" font-size="7.8" text-anchor="end">0</text>
<line x1="57.3" y1="445.5" x2="221.5" y2="445.5" stroke="#666" stroke-width="0.85" />
<line x1="57.3" y1="445.5" x2="57.3" y2="448.1" stroke="#666" stroke-width="0.85" />
<text x="57.3" y="457.3" font-size="7.8" text-anchor="middle">0</text>
<line x1="89.8" y1="445.5" x2="89.8" y2="448.1" stroke="#666" stroke-width="0.85" />
<text x="89.8" y="457.3" font-size="7.8" text-anchor="middle">20</text>
<line x1="122.4" y1="445.5" x2="122.4" y2="448.1" stroke="#666" stroke-width="0.85" />
<text x="122.4" y="457.3" font-size="7.8" text-anchor="middle">40</text>
<line x1="155.0" y1="445.5" x2="155.0" y2="448.1" stroke="#666" stroke-width="0.85" />
<text x="155.0" y="457.3" font-size="7.8" text-anchor="middle">60</text>
<line x1="187.6" y1="445.5" x2="187.6" y2="448.1" stroke="#666" stroke-width="0.85" />
<text x="187.6" y="457.3" font-size="7.8" text-anchor="middle">90</text>
<line x1="220.2" y1="445.5" x2="220.2" y2="448.1" stroke="#666" stroke-width="0.85" />
<text x="220.2" y="457.3" font-size="7.8" text-anchor="middle">120</text>
<text x="139.0" y="469.3" font-size="8.6" text-anchor="middle" textLength="42" lengthAdjust="spacingAndGlyphs">Time (min)</text>
<text x="70.1" y="336.4" font-size="8.4" textLength="62.8" lengthAdjust="spacingAndGlyphs">GTT: 12-wk HFD</text>
<text transform="translate(29.6,390.4) rotate(-90)" font-size="8.6" text-anchor="middle" fill="#231f20" textLength="96" lengthAdjust="spacingAndGlyphs">Blood glucose (mg dl<tspan font-size="6.0" dy="-3.3">−1</tspan><tspan dy="3.3">)</tspan></text>
<line x1="57.3" y1="405" x2="57.3" y2="413" stroke="#ff8000" stroke-width="0.8" stroke-opacity="0.55"/>
<line x1="55.0" y1="405" x2="59.599999999999994" y2="405" stroke="#ff8000" stroke-width="0.8" stroke-opacity="0.55"/>
<line x1="55.0" y1="413" x2="59.599999999999994" y2="413" stroke="#ff8000" stroke-width="0.8" stroke-opacity="0.55"/>
<line x1="89.8" y1="371.7" x2="89.8" y2="387.4" stroke="#ff8000" stroke-width="0.8" stroke-opacity="0.55"/>
<line x1="87.5" y1="371.7" x2="92.1" y2="371.7" stroke="#ff8000" stroke-width="0.8" stroke-opacity="0.55"/>
<line x1="87.5" y1="387.4" x2="92.1" y2="387.4" stroke="#ff8000" stroke-width="0.8" stroke-opacity="0.55"/>
<line x1="122.4" y1="379.4" x2="122.4" y2="397.6" stroke="#ff8000" stroke-width="0.8" stroke-opacity="0.55"/>
<line x1="120.10000000000001" y1="379.4" x2="124.7" y2="379.4" stroke="#ff8000" stroke-width="0.8" stroke-opacity="0.55"/>
<line x1="120.10000000000001" y1="397.6" x2="124.7" y2="397.6" stroke="#ff8000" stroke-width="0.8" stroke-opacity="0.55"/>
<line x1="155.0" y1="389.8" x2="155.0" y2="401.9" stroke="#ff8000" stroke-width="0.8" stroke-opacity="0.55"/>
<line x1="152.7" y1="389.8" x2="157.3" y2="389.8" stroke="#ff8000" stroke-width="0.8" stroke-opacity="0.55"/>
<line x1="152.7" y1="401.9" x2="157.3" y2="401.9" stroke="#ff8000" stroke-width="0.8" stroke-opacity="0.55"/>
<line x1="187.6" y1="398.7" x2="187.6" y2="407.7" stroke="#ff8000" stroke-width="0.8" stroke-opacity="0.55"/>
<line x1="185.29999999999998" y1="398.7" x2="189.9" y2="398.7" stroke="#ff8000" stroke-width="0.8" stroke-opacity="0.55"/>
<line x1="185.29999999999998" y1="407.7" x2="189.9" y2="407.7" stroke="#ff8000" stroke-width="0.8" stroke-opacity="0.55"/>
<line x1="220.2" y1="402.3" x2="220.2" y2="410.1" stroke="#ff8000" stroke-width="0.8" stroke-opacity="0.55"/>
<line x1="217.89999999999998" y1="402.3" x2="222.5" y2="402.3" stroke="#ff8000" stroke-width="0.8" stroke-opacity="0.55"/>
<line x1="217.89999999999998" y1="410.1" x2="222.5" y2="410.1" stroke="#ff8000" stroke-width="0.8" stroke-opacity="0.55"/>
<line x1="57.3" y1="402" x2="57.3" y2="411" stroke="#a000e0" stroke-width="0.8" stroke-opacity="0.55"/>
<line x1="55.0" y1="402" x2="59.599999999999994" y2="402" stroke="#a000e0" stroke-width="0.8" stroke-opacity="0.55"/>
<line x1="55.0" y1="411" x2="59.599999999999994" y2="411" stroke="#a000e0" stroke-width="0.8" stroke-opacity="0.55"/>
<line x1="89.8" y1="362" x2="89.8" y2="376" stroke="#a000e0" stroke-width="0.8" stroke-opacity="0.55"/>
<line x1="87.5" y1="362" x2="92.1" y2="362" stroke="#a000e0" stroke-width="0.8" stroke-opacity="0.55"/>
<line x1="87.5" y1="376" x2="92.1" y2="376" stroke="#a000e0" stroke-width="0.8" stroke-opacity="0.55"/>
<line x1="122.4" y1="366" x2="122.4" y2="381" stroke="#a000e0" stroke-width="0.8" stroke-opacity="0.55"/>
<line x1="120.10000000000001" y1="366" x2="124.7" y2="366" stroke="#a000e0" stroke-width="0.8" stroke-opacity="0.55"/>
<line x1="120.10000000000001" y1="381" x2="124.7" y2="381" stroke="#a000e0" stroke-width="0.8" stroke-opacity="0.55"/>
<line x1="155.0" y1="372" x2="155.0" y2="384.2" stroke="#a000e0" stroke-width="0.8" stroke-opacity="0.55"/>
<line x1="152.7" y1="372" x2="157.3" y2="372" stroke="#a000e0" stroke-width="0.8" stroke-opacity="0.55"/>
<line x1="152.7" y1="384.2" x2="157.3" y2="384.2" stroke="#a000e0" stroke-width="0.8" stroke-opacity="0.55"/>
<line x1="187.6" y1="384.2" x2="187.6" y2="398.7" stroke="#a000e0" stroke-width="0.8" stroke-opacity="0.55"/>
<line x1="185.29999999999998" y1="384.2" x2="189.9" y2="384.2" stroke="#a000e0" stroke-width="0.8" stroke-opacity="0.55"/>
<line x1="185.29999999999998" y1="398.7" x2="189.9" y2="398.7" stroke="#a000e0" stroke-width="0.8" stroke-opacity="0.55"/>
<line x1="220.2" y1="394" x2="220.2" y2="403" stroke="#a000e0" stroke-width="0.8" stroke-opacity="0.55"/>
<line x1="217.89999999999998" y1="394" x2="222.5" y2="394" stroke="#a000e0" stroke-width="0.8" stroke-opacity="0.55"/>
<line x1="217.89999999999998" y1="403" x2="222.5" y2="403" stroke="#a000e0" stroke-width="0.8" stroke-opacity="0.55"/>
<line x1="57.3" y1="400" x2="57.3" y2="410" stroke="#1cb81c" stroke-width="0.8" stroke-opacity="0.55"/>
<line x1="55.0" y1="400" x2="59.599999999999994" y2="400" stroke="#1cb81c" stroke-width="0.8" stroke-opacity="0.55"/>
<line x1="55.0" y1="410" x2="59.599999999999994" y2="410" stroke="#1cb81c" stroke-width="0.8" stroke-opacity="0.55"/>
<line x1="89.8" y1="350.3" x2="89.8" y2="362" stroke="#1cb81c" stroke-width="0.8" stroke-opacity="0.55"/>
<line x1="87.5" y1="350.3" x2="92.1" y2="350.3" stroke="#1cb81c" stroke-width="0.8" stroke-opacity="0.55"/>
<line x1="87.5" y1="362" x2="92.1" y2="362" stroke="#1cb81c" stroke-width="0.8" stroke-opacity="0.55"/>
<line x1="122.4" y1="358" x2="122.4" y2="371" stroke="#1cb81c" stroke-width="0.8" stroke-opacity="0.55"/>
<line x1="120.10000000000001" y1="358" x2="124.7" y2="358" stroke="#1cb81c" stroke-width="0.8" stroke-opacity="0.55"/>
<line x1="120.10000000000001" y1="371" x2="124.7" y2="371" stroke="#1cb81c" stroke-width="0.8" stroke-opacity="0.55"/>
<line x1="155.0" y1="361" x2="155.0" y2="375" stroke="#1cb81c" stroke-width="0.8" stroke-opacity="0.55"/>
<line x1="152.7" y1="361" x2="157.3" y2="361" stroke="#1cb81c" stroke-width="0.8" stroke-opacity="0.55"/>
<line x1="152.7" y1="375" x2="157.3" y2="375" stroke="#1cb81c" stroke-width="0.8" stroke-opacity="0.55"/>
<line x1="187.6" y1="371.3" x2="187.6" y2="392" stroke="#1cb81c" stroke-width="0.8" stroke-opacity="0.55"/>
<line x1="185.29999999999998" y1="371.3" x2="189.9" y2="371.3" stroke="#1cb81c" stroke-width="0.8" stroke-opacity="0.55"/>
<line x1="185.29999999999998" y1="392" x2="189.9" y2="392" stroke="#1cb81c" stroke-width="0.8" stroke-opacity="0.55"/>
<line x1="220.2" y1="396" x2="220.2" y2="405" stroke="#1cb81c" stroke-width="0.8" stroke-opacity="0.55"/>
<line x1="217.89999999999998" y1="396" x2="222.5" y2="396" stroke="#1cb81c" stroke-width="0.8" stroke-opacity="0.55"/>
<line x1="217.89999999999998" y1="405" x2="222.5" y2="405" stroke="#1cb81c" stroke-width="0.8" stroke-opacity="0.55"/>
<line x1="57.3" y1="392.3" x2="57.3" y2="406.1" stroke="#000000" stroke-width="0.8" stroke-opacity="0.55"/>
<line x1="55.0" y1="392.3" x2="59.599999999999994" y2="392.3" stroke="#000000" stroke-width="0.8" stroke-opacity="0.55"/>
<line x1="55.0" y1="406.1" x2="59.599999999999994" y2="406.1" stroke="#000000" stroke-width="0.8" stroke-opacity="0.55"/>
<line x1="89.8" y1="351.5" x2="89.8" y2="367" stroke="#000000" stroke-width="0.8" stroke-opacity="0.55"/>
<line x1="87.5" y1="351.5" x2="92.1" y2="351.5" stroke="#000000" stroke-width="0.8" stroke-opacity="0.55"/>
<line x1="87.5" y1="367" x2="92.1" y2="367" stroke="#000000" stroke-width="0.8" stroke-opacity="0.55"/>
<line x1="122.4" y1="351" x2="122.4" y2="376.3" stroke="#000000" stroke-width="0.8" stroke-opacity="0.55"/>
<line x1="120.10000000000001" y1="351" x2="124.7" y2="351" stroke="#000000" stroke-width="0.8" stroke-opacity="0.55"/>
<line x1="120.10000000000001" y1="376.3" x2="124.7" y2="376.3" stroke="#000000" stroke-width="0.8" stroke-opacity="0.55"/>
<line x1="155.0" y1="358" x2="155.0" y2="384.9" stroke="#000000" stroke-width="0.8" stroke-opacity="0.55"/>
<line x1="152.7" y1="358" x2="157.3" y2="358" stroke="#000000" stroke-width="0.8" stroke-opacity="0.55"/>
<line x1="152.7" y1="384.9" x2="157.3" y2="384.9" stroke="#000000" stroke-width="0.8" stroke-opacity="0.55"/>
<line x1="187.6" y1="371.3" x2="187.6" y2="392.7" stroke="#000000" stroke-width="0.8" stroke-opacity="0.55"/>
<line x1="185.29999999999998" y1="371.3" x2="189.9" y2="371.3" stroke="#000000" stroke-width="0.8" stroke-opacity="0.55"/>
<line x1="185.29999999999998" y1="392.7" x2="189.9" y2="392.7" stroke="#000000" stroke-width="0.8" stroke-opacity="0.55"/>
<line x1="220.2" y1="381.3" x2="220.2" y2="408" stroke="#000000" stroke-width="0.8" stroke-opacity="0.55"/>
<line x1="217.89999999999998" y1="381.3" x2="222.5" y2="381.3" stroke="#000000" stroke-width="0.8" stroke-opacity="0.55"/>
<line x1="217.89999999999998" y1="408" x2="222.5" y2="408" stroke="#000000" stroke-width="0.8" stroke-opacity="0.55"/>
<polyline points="57.3,409.0 89.8,378.9 122.4,388.2 155.0,395.8 187.6,403.1 220.2,405.9" fill="none" stroke="#ff8000" stroke-width="1.0"/>
<circle cx="57.3" cy="409.0" r="2.2" fill="#ff8000"/>
<circle cx="89.8" cy="378.9" r="2.2" fill="#ff8000"/>
<circle cx="122.4" cy="388.2" r="2.2" fill="#ff8000"/>
<circle cx="155.0" cy="395.8" r="2.2" fill="#ff8000"/>
<circle cx="187.6" cy="403.1" r="2.2" fill="#ff8000"/>
<circle cx="220.2" cy="405.9" r="2.2" fill="#ff8000"/>
<polyline points="57.3,406.6 89.8,369.0 122.4,373.4 155.0,377.4 187.6,388.5 220.2,398.5" fill="none" stroke="#a000e0" stroke-width="1.0"/>
<circle cx="57.3" cy="406.6" r="2.2" fill="#a000e0"/>
<circle cx="89.8" cy="369.0" r="2.2" fill="#a000e0"/>
<circle cx="122.4" cy="373.4" r="2.2" fill="#a000e0"/>
<circle cx="155.0" cy="377.4" r="2.2" fill="#a000e0"/>
<circle cx="187.6" cy="388.5" r="2.2" fill="#a000e0"/>
<circle cx="220.2" cy="398.5" r="2.2" fill="#a000e0"/>
<polyline points="57.3,404.9 89.8,355.9 122.4,364.4 155.0,367.7 187.6,382.5 220.2,400.8" fill="none" stroke="#1cb81c" stroke-width="1.0"/>
<circle cx="57.3" cy="404.9" r="2.2" fill="#1cb81c"/>
<circle cx="89.8" cy="355.9" r="2.2" fill="#1cb81c"/>
<circle cx="122.4" cy="364.4" r="2.2" fill="#1cb81c"/>
<circle cx="155.0" cy="367.7" r="2.2" fill="#1cb81c"/>
<circle cx="187.6" cy="382.5" r="2.2" fill="#1cb81c"/>
<circle cx="220.2" cy="400.8" r="2.2" fill="#1cb81c"/>
<polyline points="57.3,399.0 89.8,359.5 122.4,363.7 155.0,371.3 187.6,381.8 220.2,394.5" fill="none" stroke="#000000" stroke-width="1.0"/>
<circle cx="57.3" cy="399.0" r="2.2" fill="#000000"/>
<circle cx="89.8" cy="359.5" r="2.2" fill="#000000"/>
<circle cx="122.4" cy="363.7" r="2.2" fill="#000000"/>
<circle cx="155.0" cy="371.3" r="2.2" fill="#000000"/>
<circle cx="187.6" cy="381.8" r="2.2" fill="#000000"/>
<circle cx="220.2" cy="394.5" r="2.2" fill="#000000"/>
<text x="91" y="411.7" font-size="7.9" fill="#231f20" textLength="52.8" lengthAdjust="spacingAndGlyphs"><tspan font-style="italic">Il1rl1</tspan><tspan font-size="5" dy="-3">wt</tspan><tspan dy="3"> AAV-GFP</tspan></text>
<text x="91" y="421.57" font-size="7.9" fill="#f59a45" textLength="54.7" lengthAdjust="spacingAndGlyphs"><tspan font-style="italic">Il1rl1</tspan><tspan font-size="5" dy="-3">wt</tspan><tspan dy="3"> AAV-irisin</tspan></text>
<text x="91" y="431.44" font-size="7.9" fill="#4cb84c" textLength="59.0" lengthAdjust="spacingAndGlyphs"><tspan font-style="italic">Il1rl1</tspan><tspan font-size="5" dy="-3">Δtreg</tspan><tspan dy="3"> AAV-GFP</tspan></text>
<text x="91" y="441.31" font-size="7.9" fill="#b040e0" textLength="61.3" lengthAdjust="spacingAndGlyphs"><tspan font-style="italic">Il1rl1</tspan><tspan font-size="5" dy="-3">Δtreg</tspan><tspan dy="3"> AAV-irisin</tspan></text>
<path d="M226.3,392.3 H228.5 V398.5 H226.3" fill="none" stroke="#555" stroke-width="0.8"/>
<text transform="translate(231.3,396.2) rotate(90)" font-size="7.2" text-anchor="middle" fill="#231f20">NS</text>
<path d="M240.5,391.1 H242.7 V410.3 H240.5" fill="none" stroke="#555" stroke-width="0.8"/>
<polygon points="249.50,391.45 248.04,392.06 247.91,393.64 246.88,392.43 245.34,392.80 246.16,391.45 245.34,390.10 246.88,390.47 247.91,389.26 248.04,390.84" fill="#231f20"/>
<polygon points="249.50,396.15 248.04,396.76 247.91,398.34 246.88,397.13 245.34,397.50 246.16,396.15 245.34,394.80 246.88,395.17 247.91,393.96 248.04,395.54" fill="#231f20"/>
<polygon points="249.50,400.85 248.04,401.46 247.91,403.04 246.88,401.83 245.34,402.20 246.16,400.85 245.34,399.50 246.88,399.87 247.91,398.66 248.04,400.24" fill="#231f20"/>
<polygon points="249.50,405.55 248.04,406.16 247.91,407.74 246.88,406.53 245.34,406.90 246.16,405.55 245.34,404.20 246.88,404.57 247.91,403.36 248.04,404.94" fill="#231f20"/>
<path d="M251.4,401.3 H253.6 V410.3 H251.4" fill="none" stroke="#555" stroke-width="0.8"/>
<polygon points="260.30,402.75 258.84,403.36 258.71,404.94 257.68,403.73 256.14,404.10 256.96,402.75 256.14,401.40 257.68,401.77 258.71,400.56 258.84,402.14" fill="#231f20"/>
<polygon points="260.30,407.45 258.84,408.06 258.71,409.64 257.68,408.43 256.14,408.80 256.96,407.45 256.14,406.10 257.68,406.47 258.71,405.26 258.84,406.84" fill="#231f20"/>
<line x1="57.3" y1="483.3" x2="57.3" y2="591.7" stroke="#666" stroke-width="0.85" />
<line x1="54.5" y1="501.3" x2="57.3" y2="501.3" stroke="#666" stroke-width="0.85" />
<text x="50.099999999999994" y="504.1" font-size="7.8" text-anchor="end">100</text>
<line x1="54.5" y1="546.5" x2="57.3" y2="546.5" stroke="#666" stroke-width="0.85" />
<text x="50.099999999999994" y="549.3" font-size="7.8" text-anchor="end">50</text>
<line x1="54.5" y1="591.7" x2="57.3" y2="591.7" stroke="#666" stroke-width="0.85" />
<text x="50.099999999999994" y="594.5" font-size="7.8" text-anchor="end">0</text>
<line x1="57.3" y1="591.7" x2="221" y2="591.7" stroke="#666" stroke-width="0.85" />
<line x1="57.3" y1="591.7" x2="57.3" y2="594.3000000000001" stroke="#666" stroke-width="0.85" />
<text x="57.3" y="603.5" font-size="7.8" text-anchor="middle">0</text>
<line x1="84.3" y1="591.7" x2="84.3" y2="594.3000000000001" stroke="#666" stroke-width="0.85" />
<text x="84.3" y="603.5" font-size="7.8" text-anchor="middle">20</text>
<line x1="111.3" y1="591.7" x2="111.3" y2="594.3000000000001" stroke="#666" stroke-width="0.85" />
<text x="111.3" y="603.5" font-size="7.8" text-anchor="middle">40</text>
<line x1="138.3" y1="591.7" x2="138.3" y2="594.3000000000001" stroke="#666" stroke-width="0.85" />
<text x="138.3" y="603.5" font-size="7.8" text-anchor="middle">60</text>
<line x1="165.3" y1="591.7" x2="165.3" y2="594.3000000000001" stroke="#666" stroke-width="0.85" />
<text x="165.3" y="603.5" font-size="7.8" text-anchor="middle">80</text>
<line x1="192.3" y1="591.7" x2="192.3" y2="594.3000000000001" stroke="#666" stroke-width="0.85" />
<text x="192.3" y="603.5" font-size="7.8" text-anchor="middle">100</text>
<line x1="219.3" y1="591.7" x2="219.3" y2="594.3000000000001" stroke="#666" stroke-width="0.85" />
<text x="219.3" y="603.5" font-size="7.8" text-anchor="middle">120</text>
<text x="139.0" y="617.0" font-size="8.6" text-anchor="middle" textLength="42" lengthAdjust="spacingAndGlyphs">Time (min)</text>
<text x="72.3" y="488.9" font-size="8.4" textLength="58" lengthAdjust="spacingAndGlyphs">ITT: 12-wk HFD</text>
<text transform="translate(20.5,537.5) rotate(-90)" font-size="8.6" text-anchor="middle" fill="#231f20" textLength="46" lengthAdjust="spacingAndGlyphs">Normalized</text>
<text transform="translate(30.0,537.5) rotate(-90)" font-size="8.6" text-anchor="middle" fill="#231f20" textLength="116" lengthAdjust="spacingAndGlyphs">blood glucose level (mg dl<tspan font-size="6.0" dy="-3.3">−1</tspan><tspan dy="3.3">)</tspan></text>
<line x1="84.3" y1="530.7" x2="84.3" y2="544.8" stroke="#ff8000" stroke-width="0.8" stroke-opacity="0.55"/>
<line x1="82.0" y1="530.7" x2="86.6" y2="530.7" stroke="#ff8000" stroke-width="0.8" stroke-opacity="0.55"/>
<line x1="82.0" y1="544.8" x2="86.6" y2="544.8" stroke="#ff8000" stroke-width="0.8" stroke-opacity="0.55"/>
<line x1="111.3" y1="540.9" x2="111.3" y2="553" stroke="#ff8000" stroke-width="0.8" stroke-opacity="0.55"/>
<line x1="109.0" y1="540.9" x2="113.6" y2="540.9" stroke="#ff8000" stroke-width="0.8" stroke-opacity="0.55"/>
<line x1="109.0" y1="553" x2="113.6" y2="553" stroke="#ff8000" stroke-width="0.8" stroke-opacity="0.55"/>
<line x1="138.5" y1="538.3" x2="138.5" y2="560.2" stroke="#ff8000" stroke-width="0.8" stroke-opacity="0.55"/>
<line x1="136.2" y1="538.3" x2="140.8" y2="538.3" stroke="#ff8000" stroke-width="0.8" stroke-opacity="0.55"/>
<line x1="136.2" y1="560.2" x2="140.8" y2="560.2" stroke="#ff8000" stroke-width="0.8" stroke-opacity="0.55"/>
<line x1="179.0" y1="535" x2="179.0" y2="560.2" stroke="#ff8000" stroke-width="0.8" stroke-opacity="0.55"/>
<line x1="176.7" y1="535" x2="181.3" y2="535" stroke="#ff8000" stroke-width="0.8" stroke-opacity="0.55"/>
<line x1="176.7" y1="560.2" x2="181.3" y2="560.2" stroke="#ff8000" stroke-width="0.8" stroke-opacity="0.55"/>
<line x1="219.6" y1="525.5" x2="219.6" y2="552" stroke="#ff8000" stroke-width="0.8" stroke-opacity="0.55"/>
<line x1="217.29999999999998" y1="525.5" x2="221.9" y2="525.5" stroke="#ff8000" stroke-width="0.8" stroke-opacity="0.55"/>
<line x1="217.29999999999998" y1="552" x2="221.9" y2="552" stroke="#ff8000" stroke-width="0.8" stroke-opacity="0.55"/>
<line x1="84.3" y1="522.9" x2="84.3" y2="529.4" stroke="#a000e0" stroke-width="0.8" stroke-opacity="0.55"/>
<line x1="82.0" y1="522.9" x2="86.6" y2="522.9" stroke="#a000e0" stroke-width="0.8" stroke-opacity="0.55"/>
<line x1="82.0" y1="529.4" x2="86.6" y2="529.4" stroke="#a000e0" stroke-width="0.8" stroke-opacity="0.55"/>
<line x1="111.3" y1="527" x2="111.3" y2="536" stroke="#a000e0" stroke-width="0.8" stroke-opacity="0.55"/>
<line x1="109.0" y1="527" x2="113.6" y2="527" stroke="#a000e0" stroke-width="0.8" stroke-opacity="0.55"/>
<line x1="109.0" y1="536" x2="113.6" y2="536" stroke="#a000e0" stroke-width="0.8" stroke-opacity="0.55"/>
<line x1="138.5" y1="527" x2="138.5" y2="538" stroke="#a000e0" stroke-width="0.8" stroke-opacity="0.55"/>
<line x1="136.2" y1="527" x2="140.8" y2="527" stroke="#a000e0" stroke-width="0.8" stroke-opacity="0.55"/>
<line x1="136.2" y1="538" x2="140.8" y2="538" stroke="#a000e0" stroke-width="0.8" stroke-opacity="0.55"/>
<line x1="179.0" y1="522.9" x2="179.0" y2="533.2" stroke="#a000e0" stroke-width="0.8" stroke-opacity="0.55"/>
<line x1="176.7" y1="522.9" x2="181.3" y2="522.9" stroke="#a000e0" stroke-width="0.8" stroke-opacity="0.55"/>
<line x1="176.7" y1="533.2" x2="181.3" y2="533.2" stroke="#a000e0" stroke-width="0.8" stroke-opacity="0.55"/>
<line x1="219.6" y1="513" x2="219.6" y2="527" stroke="#a000e0" stroke-width="0.8" stroke-opacity="0.55"/>
<line x1="217.29999999999998" y1="513" x2="221.9" y2="513" stroke="#a000e0" stroke-width="0.8" stroke-opacity="0.55"/>
<line x1="217.29999999999998" y1="527" x2="221.9" y2="527" stroke="#a000e0" stroke-width="0.8" stroke-opacity="0.55"/>
<line x1="84.3" y1="502.4" x2="84.3" y2="517.8" stroke="#1cb81c" stroke-width="0.8" stroke-opacity="0.55"/>
<line x1="82.0" y1="502.4" x2="86.6" y2="502.4" stroke="#1cb81c" stroke-width="0.8" stroke-opacity="0.55"/>
<line x1="82.0" y1="517.8" x2="86.6" y2="517.8" stroke="#1cb81c" stroke-width="0.8" stroke-opacity="0.55"/>
<line x1="111.3" y1="522" x2="111.3" y2="533" stroke="#1cb81c" stroke-width="0.8" stroke-opacity="0.55"/>
<line x1="109.0" y1="522" x2="113.6" y2="522" stroke="#1cb81c" stroke-width="0.8" stroke-opacity="0.55"/>
<line x1="109.0" y1="533" x2="113.6" y2="533" stroke="#1cb81c" stroke-width="0.8" stroke-opacity="0.55"/>
<line x1="138.5" y1="519" x2="138.5" y2="531" stroke="#1cb81c" stroke-width="0.8" stroke-opacity="0.55"/>
<line x1="136.2" y1="519" x2="140.8" y2="519" stroke="#1cb81c" stroke-width="0.8" stroke-opacity="0.55"/>
<line x1="136.2" y1="531" x2="140.8" y2="531" stroke="#1cb81c" stroke-width="0.8" stroke-opacity="0.55"/>
<line x1="179.0" y1="512" x2="179.0" y2="526" stroke="#1cb81c" stroke-width="0.8" stroke-opacity="0.55"/>
<line x1="176.7" y1="512" x2="181.3" y2="512" stroke="#1cb81c" stroke-width="0.8" stroke-opacity="0.55"/>
<line x1="176.7" y1="526" x2="181.3" y2="526" stroke="#1cb81c" stroke-width="0.8" stroke-opacity="0.55"/>
<line x1="219.6" y1="505" x2="219.6" y2="524.2" stroke="#1cb81c" stroke-width="0.8" stroke-opacity="0.55"/>
<line x1="217.29999999999998" y1="505" x2="221.9" y2="505" stroke="#1cb81c" stroke-width="0.8" stroke-opacity="0.55"/>
<line x1="217.29999999999998" y1="524.2" x2="221.9" y2="524.2" stroke="#1cb81c" stroke-width="0.8" stroke-opacity="0.55"/>
<line x1="84.3" y1="508" x2="84.3" y2="521" stroke="#000000" stroke-width="0.8" stroke-opacity="0.55"/>
<line x1="82.0" y1="508" x2="86.6" y2="508" stroke="#000000" stroke-width="0.8" stroke-opacity="0.55"/>
<line x1="82.0" y1="521" x2="86.6" y2="521" stroke="#000000" stroke-width="0.8" stroke-opacity="0.55"/>
<line x1="111.3" y1="508.8" x2="111.3" y2="528.1" stroke="#000000" stroke-width="0.8" stroke-opacity="0.55"/>
<line x1="109.0" y1="508.8" x2="113.6" y2="508.8" stroke="#000000" stroke-width="0.8" stroke-opacity="0.55"/>
<line x1="109.0" y1="528.1" x2="113.6" y2="528.1" stroke="#000000" stroke-width="0.8" stroke-opacity="0.55"/>
<line x1="138.5" y1="510.1" x2="138.5" y2="526.3" stroke="#000000" stroke-width="0.8" stroke-opacity="0.55"/>
<line x1="136.2" y1="510.1" x2="140.8" y2="510.1" stroke="#000000" stroke-width="0.8" stroke-opacity="0.55"/>
<line x1="136.2" y1="526.3" x2="140.8" y2="526.3" stroke="#000000" stroke-width="0.8" stroke-opacity="0.55"/>
<line x1="179.0" y1="504.2" x2="179.0" y2="528.1" stroke="#000000" stroke-width="0.8" stroke-opacity="0.55"/>
<line x1="176.7" y1="504.2" x2="181.3" y2="504.2" stroke="#000000" stroke-width="0.8" stroke-opacity="0.55"/>
<line x1="176.7" y1="528.1" x2="181.3" y2="528.1" stroke="#000000" stroke-width="0.8" stroke-opacity="0.55"/>
<line x1="219.6" y1="496" x2="219.6" y2="525.5" stroke="#000000" stroke-width="0.8" stroke-opacity="0.55"/>
<line x1="217.29999999999998" y1="496" x2="221.9" y2="496" stroke="#000000" stroke-width="0.8" stroke-opacity="0.55"/>
<line x1="217.29999999999998" y1="525.5" x2="221.9" y2="525.5" stroke="#000000" stroke-width="0.8" stroke-opacity="0.55"/>
<polyline points="57.3,501.3 84.3,535.8 111.3,544.3 138.5,549.9 179.0,548.1 219.6,536.5" fill="none" stroke="#ff8000" stroke-width="1.0"/>
<circle cx="57.3" cy="501.3" r="2.2" fill="#ff8000"/>
<circle cx="84.3" cy="535.8" r="2.2" fill="#ff8000"/>
<circle cx="111.3" cy="544.3" r="2.2" fill="#ff8000"/>
<circle cx="138.5" cy="549.9" r="2.2" fill="#ff8000"/>
<circle cx="179.0" cy="548.1" r="2.2" fill="#ff8000"/>
<circle cx="219.6" cy="536.5" r="2.2" fill="#ff8000"/>
<polyline points="57.3,501.3 84.3,525.0 111.3,531.2 138.5,532.7 179.0,527.6 219.6,519.6" fill="none" stroke="#a000e0" stroke-width="1.0"/>
<circle cx="57.3" cy="501.3" r="2.2" fill="#a000e0"/>
<circle cx="84.3" cy="525.0" r="2.2" fill="#a000e0"/>
<circle cx="111.3" cy="531.2" r="2.2" fill="#a000e0"/>
<circle cx="138.5" cy="532.7" r="2.2" fill="#a000e0"/>
<circle cx="179.0" cy="527.6" r="2.2" fill="#a000e0"/>
<circle cx="219.6" cy="519.6" r="2.2" fill="#a000e0"/>
<polyline points="57.3,501.3 84.3,509.6 111.3,527.6 138.5,525.0 179.0,519.3 219.6,513.2" fill="none" stroke="#1cb81c" stroke-width="1.0"/>
<circle cx="57.3" cy="501.3" r="2.2" fill="#1cb81c"/>
<circle cx="84.3" cy="509.6" r="2.2" fill="#1cb81c"/>
<circle cx="111.3" cy="527.6" r="2.2" fill="#1cb81c"/>
<circle cx="138.5" cy="525.0" r="2.2" fill="#1cb81c"/>
<circle cx="179.0" cy="519.3" r="2.2" fill="#1cb81c"/>
<circle cx="219.6" cy="513.2" r="2.2" fill="#1cb81c"/>
<polyline points="57.3,501.3 84.3,514.7 111.3,518.8 138.5,518.6 179.0,516.5 219.6,510.9" fill="none" stroke="#000000" stroke-width="1.0"/>
<circle cx="57.3" cy="501.3" r="2.2" fill="#000000"/>
<circle cx="84.3" cy="514.7" r="2.2" fill="#000000"/>
<circle cx="111.3" cy="518.8" r="2.2" fill="#000000"/>
<circle cx="138.5" cy="518.6" r="2.2" fill="#000000"/>
<circle cx="179.0" cy="516.5" r="2.2" fill="#000000"/>
<circle cx="219.6" cy="510.9" r="2.2" fill="#000000"/>
<path d="M227.8,510.1 H230.0 V519.6 H227.8" fill="none" stroke="#555" stroke-width="0.8"/>
<text transform="translate(232.6,515.2) rotate(90)" font-size="7.2" text-anchor="middle" fill="#231f20">NS</text>
<path d="M239.0,510.1 H241.2 V544.3 H239.0" fill="none" stroke="#555" stroke-width="0.8"/>
<polygon points="248.80,517.75 247.34,518.36 247.21,519.94 246.18,518.73 244.64,519.10 245.47,517.75 244.64,516.40 246.18,516.77 247.21,515.56 247.34,517.14" fill="#231f20"/>
<polygon points="248.80,522.45 247.34,523.06 247.21,524.64 246.18,523.43 244.64,523.80 245.47,522.45 244.64,521.10 246.18,521.47 247.21,520.26 247.34,521.84" fill="#231f20"/>
<polygon points="248.80,527.15 247.34,527.76 247.21,529.34 246.18,528.13 244.64,528.50 245.47,527.15 244.64,525.80 246.18,526.17 247.21,524.96 247.34,526.54" fill="#231f20"/>
<polygon points="248.80,531.85 247.34,532.46 247.21,534.04 246.18,532.83 244.64,533.20 245.47,531.85 244.64,530.50 246.18,530.87 247.21,529.66 247.34,531.24" fill="#231f20"/>
<path d="M252.70000000000002,514.5 H254.9 V544.8 H252.70000000000002" fill="none" stroke="#555" stroke-width="0.8"/>
<polygon points="262.50,526.35 261.04,526.96 260.91,528.54 259.88,527.33 258.34,527.70 259.16,526.35 258.34,525.00 259.88,525.37 260.91,524.16 261.04,525.74" fill="#231f20"/>
<polygon points="262.50,531.05 261.04,531.66 260.91,533.24 259.88,532.03 258.34,532.40 259.16,531.05 258.34,529.70 259.88,530.07 260.91,528.86 261.04,530.44" fill="#231f20"/>
<text x="268.3" y="336.2" font-size="12.5" font-weight="bold" fill="#000">f</text>
<text x="312.0" y="356.9" font-size="8.6" textLength="21" lengthAdjust="spacingAndGlyphs">iWAT</text>
<circle cx="356.2" cy="346.6" r="2.2" fill="none" stroke="#000" stroke-width="1.1"/>
<text x="362.59999999999997" y="349.20000000000005" font-size="7.6" fill="#231f20" textLength="52.6" lengthAdjust="spacingAndGlyphs"><tspan font-style="italic">Il1rl1</tspan><tspan font-size="4.8" dy="-3">wt</tspan><tspan dy="3"> AAV-GFP</tspan></text>
<circle cx="356.2" cy="361.9" r="2.2" fill="none" stroke="#ff8000" stroke-width="1.1"/>
<text x="362.59999999999997" y="364.5" font-size="7.6" fill="#231f20" textLength="54.8" lengthAdjust="spacingAndGlyphs"><tspan font-style="italic">Il1rl1</tspan><tspan font-size="4.8" dy="-3">wt</tspan><tspan dy="3"> AAV-Irisin</tspan></text>
<circle cx="432.5" cy="346.6" r="2.2" fill="none" stroke="#00b800" stroke-width="1.1"/>
<text x="438.9" y="349.20000000000005" font-size="7.6" fill="#231f20" textLength="58.5" lengthAdjust="spacingAndGlyphs"><tspan font-style="italic">Il1rl1</tspan><tspan font-size="4.8" dy="-3">Δtreg</tspan><tspan dy="3"> AAV-GFP</tspan></text>
<circle cx="432.5" cy="361.9" r="2.2" fill="none" stroke="#a000e0" stroke-width="1.1"/>
<text x="438.9" y="364.5" font-size="7.6" fill="#231f20" textLength="61.3" lengthAdjust="spacingAndGlyphs"><tspan font-style="italic">Il1rl1</tspan><tspan font-size="4.8" dy="-3">Δtreg</tspan><tspan dy="3"> AAV-Irisin</tspan></text>
</svg></body></html>
